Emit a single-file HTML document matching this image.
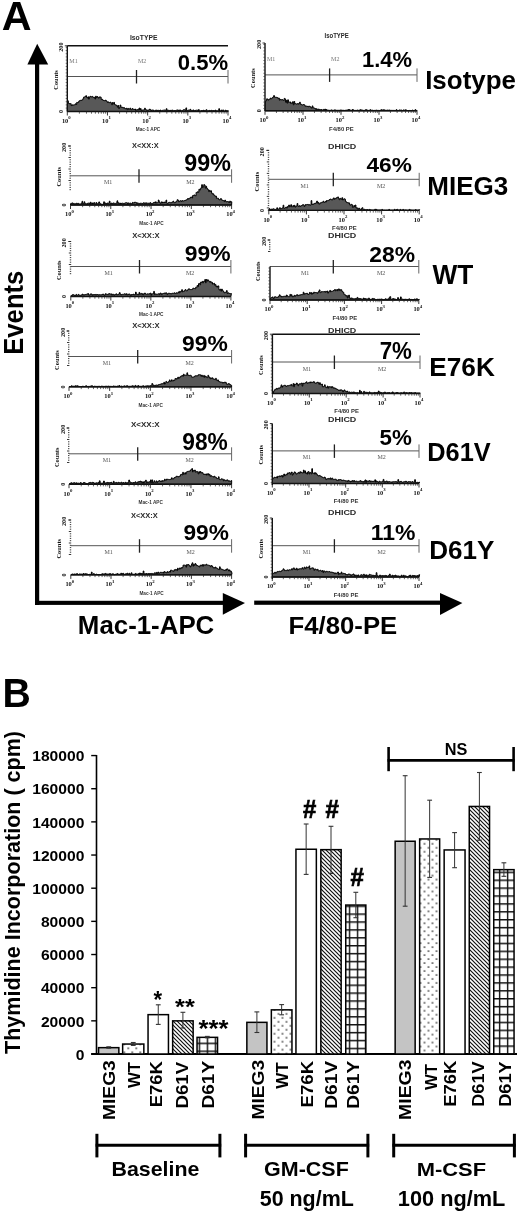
<!DOCTYPE html>
<html><head><meta charset="utf-8"><style>
html,body{margin:0;padding:0;background:#fff;}
svg{display:block;font-family:"Liberation Sans",sans-serif;will-change:transform;}
</style></head><body>
<svg width="520" height="1211" viewBox="0 0 520 1211">
<rect width="520" height="1211" fill="#fff"/>
<text transform="translate(1.77,30.00) scale(1.0072,1)" font-size="40.99" font-weight="bold" fill="#000" >A</text>
<rect x="35.00" y="62.00" width="4.20" height="543.00" fill="#000" />
<polygon points="37.20,43.80 27.40,64.60 48.20,64.60" fill="#000" />
<rect x="35.00" y="600.80" width="188.00" height="4.10" fill="#000" />
<polygon points="222.80,593.00 245.00,603.00 222.80,614.80" fill="#000" />
<rect x="254.20" y="600.60" width="186.80" height="4.20" fill="#000" />
<polygon points="440.00,593.00 462.40,603.00 440.00,615.00" fill="#000" />
<text transform="translate(23.13,354.72) rotate(-90) scale(0.9519,1)" font-size="26.93" font-weight="bold" fill="#000">Events</text>
<text transform="translate(77.87,634.33) scale(0.9740,1)" font-size="26.55" font-weight="bold" fill="#000" >Mac-1-APC</text>
<text transform="translate(288.47,634.11) scale(1.0489,1)" font-size="24.56" font-weight="bold" fill="#000" >F4/80-PE</text>
<text transform="translate(425.16,88.55) scale(1.0285,1)" font-size="25.22" font-weight="bold" fill="#000" >Isotype</text>
<text transform="translate(427.26,194.72) scale(1.0250,1)" font-size="25.39" font-weight="bold" fill="#000" >MIEG3</text>
<text transform="translate(432.47,283.80) scale(0.9605,1)" font-size="27.33" font-weight="bold" fill="#000" >WT</text>
<text transform="translate(429.24,376.05) scale(1.0374,1)" font-size="25.28" font-weight="bold" fill="#000" >E76K</text>
<text transform="translate(427.30,461.14) scale(0.9766,1)" font-size="25.99" font-weight="bold" fill="#000" >D61V</text>
<text transform="translate(429.25,558.74) scale(1.0080,1)" font-size="25.85" font-weight="bold" fill="#000" >D61Y</text>
<path d="M67.3,111.5 L67.6,100.8 L68.3,100.8 L68.3,103.0 L69.0,103.0 L69.0,103.6 L69.7,103.6 L69.7,103.8 L70.4,103.8 L70.4,103.6 L71.1,103.6 L71.1,105.6 L71.8,105.6 L71.8,104.8 L72.5,104.8 L72.5,105.4 L73.2,105.4 L73.2,104.9 L73.9,104.9 L73.9,104.9 L74.6,104.9 L74.6,104.7 L75.3,104.7 L75.3,103.8 L76.0,103.8 L76.0,104.5 L76.7,104.5 L76.7,102.4 L77.4,102.4 L77.4,102.8 L78.1,102.8 L78.1,102.3 L78.8,102.3 L78.8,101.1 L79.5,101.1 L79.5,100.7 L80.2,100.7 L80.2,100.3 L80.9,100.3 L80.9,100.5 L81.6,100.5 L81.6,100.0 L82.3,100.0 L82.3,99.7 L83.0,99.7 L83.0,98.4 L83.7,98.4 L83.7,97.0 L84.4,97.0 L84.4,97.0 L85.1,97.0 L85.1,96.5 L85.8,96.5 L85.8,95.7 L86.5,95.7 L86.5,97.3 L87.2,97.3 L87.2,98.0 L87.9,98.0 L87.9,96.8 L88.6,96.8 L88.6,99.1 L89.3,99.1 L89.3,97.1 L90.0,97.1 L90.0,96.3 L90.7,96.3 L90.7,97.0 L91.4,97.0 L91.4,96.8 L92.1,96.8 L92.1,96.4 L92.8,96.4 L92.8,97.3 L93.5,97.3 L93.5,97.6 L94.2,97.6 L94.2,97.3 L94.9,97.3 L94.9,99.0 L95.6,99.0 L95.6,96.2 L96.3,96.2 L96.3,97.6 L97.0,97.6 L97.0,96.5 L97.7,96.5 L97.7,97.4 L98.4,97.4 L98.4,98.2 L99.1,98.2 L99.1,97.0 L99.8,97.0 L99.8,96.9 L100.5,96.9 L100.5,97.3 L101.2,97.3 L101.2,99.5 L101.9,99.5 L101.9,99.3 L102.6,99.3 L102.6,100.0 L103.3,100.0 L103.3,100.5 L104.0,100.5 L104.0,100.6 L104.7,100.6 L104.7,100.8 L105.4,100.8 L105.4,100.1 L106.1,100.1 L106.1,100.9 L106.8,100.9 L106.8,101.7 L107.5,101.7 L107.5,102.5 L108.2,102.5 L108.2,101.9 L108.9,101.9 L108.9,102.6 L109.6,102.6 L109.6,102.7 L110.3,102.7 L110.3,102.1 L111.0,102.1 L111.0,103.2 L111.7,103.2 L111.7,104.8 L112.4,104.8 L112.4,102.5 L113.1,102.5 L113.1,103.9 L113.8,103.9 L113.8,102.4 L114.5,102.4 L114.5,104.5 L115.2,104.5 L115.2,104.9 L115.9,104.9 L115.9,105.1 L116.6,105.1 L116.6,105.6 L117.3,105.6 L117.3,107.2 L118.0,107.2 L118.0,105.5 L118.7,105.5 L118.7,108.6 L119.4,108.6 L119.4,107.4 L120.1,107.4 L120.1,105.0 L120.8,105.0 L120.8,107.3 L121.5,107.3 L121.5,107.0 L122.2,107.0 L122.2,107.4 L122.9,107.4 L122.9,108.0 L123.6,108.0 L123.6,107.6 L124.3,107.6 L124.3,108.0 L125.0,108.0 L125.0,108.7 L125.7,108.7 L125.7,108.9 L126.4,108.9 L126.4,108.2 L127.1,108.2 L127.1,109.7 L127.8,109.7 L127.8,108.4 L128.5,108.4 L128.5,109.3 L129.2,109.3 L129.2,109.2 L129.9,109.2 L129.9,108.1 L130.6,108.1 L130.6,109.6 L131.3,109.6 L131.3,109.7 L132.0,109.7 L132.0,108.5 L132.7,108.5 L132.7,109.1 L133.4,109.1 L133.4,109.4 L134.1,109.4 L134.1,109.5 L134.8,109.5 L134.8,109.0 L135.5,109.0 L135.5,110.4 L136.2,110.4 L136.2,109.9 L136.9,109.9 L136.9,109.6 L137.6,109.6 L137.6,110.1 L138.3,110.1 L138.3,109.6 L139.0,109.6 L139.0,108.0 L139.7,108.0 L139.7,110.0 L140.4,110.0 L140.4,108.6 L141.1,108.6 L141.1,110.4 L141.8,110.4 L141.8,110.0 L142.5,110.0 L142.5,110.1 L143.2,110.1 L143.2,109.9 L143.9,109.9 L143.9,109.9 L144.6,109.9 L144.6,108.2 L145.3,108.2 L145.3,109.3 L146.0,109.3 L146.0,110.1 L146.7,110.1 L146.7,110.0 L147.4,110.0 L147.4,110.3 L148.1,110.3 L148.1,110.3 L148.8,110.3 L148.8,109.7 L149.5,109.7 L149.5,109.1 L150.2,109.1 L150.2,109.7 L150.9,109.7 L150.9,110.8 L151.6,110.8 L151.6,110.1 L152.3,110.1 L152.3,110.0 L153.0,110.0 L153.0,110.1 L153.7,110.1 L153.7,110.8 L154.4,110.8 L154.4,111.2 L155.1,111.2 L155.1,110.3 L155.8,110.3 L155.8,110.3 L156.5,110.3 L156.5,110.1 L157.2,110.1 L157.2,110.8 L157.9,110.8 L157.9,110.3 L158.6,110.3 L158.6,110.4 L159.3,110.4 L159.3,110.6 L160.0,110.6 L160.0,110.0 L160.7,110.0 L160.7,111.2 L161.4,111.2 L161.4,110.7 L162.1,110.7 L162.1,110.4 L162.8,110.4 L162.8,110.2 L163.5,110.2 L163.5,110.2 L164.2,110.2 L164.2,110.0 L164.9,110.0 L164.9,110.1 L165.6,110.1 L165.6,110.3 L166.3,110.3 L166.3,108.7 L167.0,108.7 L167.0,111.1 L167.7,111.1 L167.7,110.3 L168.4,110.3 L168.4,110.3 L169.1,110.3 L169.1,111.0 L169.8,111.0 L169.8,110.3 L170.5,110.3 L170.5,110.8 L171.2,110.8 L171.2,110.4 L171.9,110.4 L171.9,110.0 L172.6,110.0 L172.6,110.4 L173.3,110.4 L173.3,110.9 L174.0,110.9 L174.0,110.6 L174.7,110.6 L174.7,110.5 L175.4,110.5 L175.4,110.6 L176.1,110.6 L176.1,110.2 L176.8,110.2 L176.8,110.2 L177.5,110.2 L177.5,109.9 L178.2,109.9 L178.2,111.0 L178.9,111.0 L178.9,110.0 L179.6,110.0 L179.6,110.4 L180.3,110.4 L180.3,110.0 L181.0,110.0 L181.0,111.3 L181.7,111.3 L181.7,110.7 L182.4,110.7 L182.4,110.5 L183.1,110.5 L183.1,109.8 L183.8,109.8 L183.8,109.7 L184.5,109.7 L184.5,109.7 L185.2,109.7 L185.2,110.6 L185.9,110.6 L185.9,107.9 L186.6,107.9 L186.6,110.7 L187.3,110.7 L187.3,110.4 L188.0,110.4 L188.0,110.2 L188.7,110.2 L188.7,110.0 L189.4,110.0 L189.4,110.2 L190.1,110.2 L190.1,109.3 L190.8,109.3 L190.8,110.8 L191.5,110.8 L191.5,110.5 L192.2,110.5 L192.2,110.7 L192.9,110.7 L192.9,109.9 L193.6,109.9 L193.6,110.6 L194.3,110.6 L194.3,110.6 L195.0,110.6 L195.0,110.5 L195.7,110.5 L195.7,110.2 L196.4,110.2 L196.4,110.2 L197.1,110.2 L197.1,110.2 L197.8,110.2 L197.8,110.8 L198.5,110.8 L198.5,109.6 L199.2,109.6 L199.2,111.1 L199.9,111.1 L199.9,111.0 L200.6,111.0 L200.6,110.8 L201.3,110.8 L201.3,110.5 L202.0,110.5 L202.0,110.6 L202.7,110.6 L202.7,111.1 L203.4,111.1 L203.4,110.2 L204.1,110.2 L204.1,110.6 L204.8,110.6 L204.8,110.5 L205.5,110.5 L205.5,110.4 L206.2,110.4 L206.2,109.7 L206.9,109.7 L206.9,110.8 L207.6,110.8 L207.6,110.8 L208.3,110.8 L208.3,110.7 L209.0,110.7 L209.0,110.4 L209.7,110.4 L209.7,110.6 L210.4,110.6 L210.4,110.7 L211.1,110.7 L211.1,110.3 L211.8,110.3 L211.8,110.6 L212.5,110.6 L212.5,111.1 L213.2,111.1 L213.2,110.6 L213.9,110.6 L213.9,111.2 L214.6,111.2 L214.6,110.5 L215.3,110.5 L215.3,110.1 L216.0,110.1 L216.0,111.2 L216.7,111.2 L216.7,110.7 L217.4,110.7 L217.4,111.1 L218.1,111.1 L218.1,110.8 L218.8,110.8 L218.8,108.7 L219.5,108.7 L219.5,111.0 L220.2,111.0 L220.2,111.1 L220.9,111.1 L220.9,110.0 L221.6,110.0 L221.6,111.3 L222.3,111.3 L222.3,110.2 L223.0,110.2 L223.0,110.0 L223.7,110.0 L223.7,111.3 L224.4,111.3 L224.4,111.2 L225.1,111.2 L225.1,110.2 L225.8,110.2 L225.8,111.1 L226.5,111.1 L226.5,110.6 L227.2,110.6 L227.2,110.8 L227.9,110.8 L227.9,111.0 L228.6,111.0 L228.0,111.5 Z" fill="#585858" stroke="#000" stroke-width="1.0" stroke-linejoin="bevel"/>
<line x1="67.30" y1="111.50" x2="228.00" y2="111.50" stroke="#111" stroke-width="1.4" />
<line x1="67.30" y1="111.50" x2="67.30" y2="115.50" stroke="#222" stroke-width="0.9" />
<line x1="79.39" y1="111.50" x2="79.39" y2="113.70" stroke="#222" stroke-width="0.7" />
<line x1="86.47" y1="111.50" x2="86.47" y2="113.70" stroke="#222" stroke-width="0.7" />
<line x1="91.49" y1="111.50" x2="91.49" y2="113.70" stroke="#222" stroke-width="0.7" />
<line x1="95.38" y1="111.50" x2="95.38" y2="113.70" stroke="#222" stroke-width="0.7" />
<line x1="98.56" y1="111.50" x2="98.56" y2="113.70" stroke="#222" stroke-width="0.7" />
<line x1="101.25" y1="111.50" x2="101.25" y2="113.70" stroke="#222" stroke-width="0.7" />
<line x1="103.58" y1="111.50" x2="103.58" y2="113.70" stroke="#222" stroke-width="0.7" />
<line x1="105.64" y1="111.50" x2="105.64" y2="113.70" stroke="#222" stroke-width="0.7" />
<line x1="107.47" y1="111.50" x2="107.47" y2="115.50" stroke="#222" stroke-width="0.9" />
<line x1="119.57" y1="111.50" x2="119.57" y2="113.70" stroke="#222" stroke-width="0.7" />
<line x1="126.64" y1="111.50" x2="126.64" y2="113.70" stroke="#222" stroke-width="0.7" />
<line x1="131.66" y1="111.50" x2="131.66" y2="113.70" stroke="#222" stroke-width="0.7" />
<line x1="135.56" y1="111.50" x2="135.56" y2="113.70" stroke="#222" stroke-width="0.7" />
<line x1="138.74" y1="111.50" x2="138.74" y2="113.70" stroke="#222" stroke-width="0.7" />
<line x1="141.43" y1="111.50" x2="141.43" y2="113.70" stroke="#222" stroke-width="0.7" />
<line x1="143.76" y1="111.50" x2="143.76" y2="113.70" stroke="#222" stroke-width="0.7" />
<line x1="145.81" y1="111.50" x2="145.81" y2="113.70" stroke="#222" stroke-width="0.7" />
<line x1="147.65" y1="111.50" x2="147.65" y2="115.50" stroke="#222" stroke-width="0.9" />
<line x1="159.74" y1="111.50" x2="159.74" y2="113.70" stroke="#222" stroke-width="0.7" />
<line x1="166.82" y1="111.50" x2="166.82" y2="113.70" stroke="#222" stroke-width="0.7" />
<line x1="171.84" y1="111.50" x2="171.84" y2="113.70" stroke="#222" stroke-width="0.7" />
<line x1="175.73" y1="111.50" x2="175.73" y2="113.70" stroke="#222" stroke-width="0.7" />
<line x1="178.91" y1="111.50" x2="178.91" y2="113.70" stroke="#222" stroke-width="0.7" />
<line x1="181.60" y1="111.50" x2="181.60" y2="113.70" stroke="#222" stroke-width="0.7" />
<line x1="183.93" y1="111.50" x2="183.93" y2="113.70" stroke="#222" stroke-width="0.7" />
<line x1="185.99" y1="111.50" x2="185.99" y2="113.70" stroke="#222" stroke-width="0.7" />
<line x1="187.82" y1="111.50" x2="187.82" y2="115.50" stroke="#222" stroke-width="0.9" />
<line x1="199.92" y1="111.50" x2="199.92" y2="113.70" stroke="#222" stroke-width="0.7" />
<line x1="206.99" y1="111.50" x2="206.99" y2="113.70" stroke="#222" stroke-width="0.7" />
<line x1="212.01" y1="111.50" x2="212.01" y2="113.70" stroke="#222" stroke-width="0.7" />
<line x1="215.91" y1="111.50" x2="215.91" y2="113.70" stroke="#222" stroke-width="0.7" />
<line x1="219.09" y1="111.50" x2="219.09" y2="113.70" stroke="#222" stroke-width="0.7" />
<line x1="221.78" y1="111.50" x2="221.78" y2="113.70" stroke="#222" stroke-width="0.7" />
<line x1="224.11" y1="111.50" x2="224.11" y2="113.70" stroke="#222" stroke-width="0.7" />
<line x1="226.16" y1="111.50" x2="226.16" y2="113.70" stroke="#222" stroke-width="0.7" />
<line x1="228.00" y1="111.50" x2="228.00" y2="115.50" stroke="#222" stroke-width="0.9" />
<text x="66.3" y="122.8" font-size="6.4" font-family="Liberation Serif" font-weight="bold" text-anchor="middle" fill="#111">10<tspan dy="-3.4" font-size="4.8">0</tspan></text>
<text x="106.5" y="122.8" font-size="6.4" font-family="Liberation Serif" font-weight="bold" text-anchor="middle" fill="#111">10<tspan dy="-3.4" font-size="4.8">1</tspan></text>
<text x="146.6" y="122.8" font-size="6.4" font-family="Liberation Serif" font-weight="bold" text-anchor="middle" fill="#111">10<tspan dy="-3.4" font-size="4.8">2</tspan></text>
<text x="186.8" y="122.8" font-size="6.4" font-family="Liberation Serif" font-weight="bold" text-anchor="middle" fill="#111">10<tspan dy="-3.4" font-size="4.8">3</tspan></text>
<text x="227.0" y="122.8" font-size="6.4" font-family="Liberation Serif" font-weight="bold" text-anchor="middle" fill="#111">10<tspan dy="-3.4" font-size="4.8">4</tspan></text>
<line x1="67.30" y1="76.50" x2="228.00" y2="76.50" stroke="#555" stroke-width="1.0" />
<line x1="136.50" y1="70.00" x2="136.50" y2="83.50" stroke="#222" stroke-width="1.3" />
<line x1="228.00" y1="70.00" x2="228.00" y2="83.50" stroke="#666" stroke-width="1.0" />
<text x="69.3" y="62.5" font-size="6" font-family="Liberation Serif" fill="#777">M1</text>
<text x="138.0" y="62.5" font-size="6" font-family="Liberation Serif" fill="#777">M2</text>
<line x1="67.30" y1="45.80" x2="67.30" y2="111.50" stroke="#111" stroke-width="1.4" />
<line x1="65.70" y1="47.30" x2="67.30" y2="47.30" stroke="#333" stroke-width="0.7" />
<line x1="65.70" y1="50.50" x2="67.30" y2="50.50" stroke="#333" stroke-width="0.7" />
<line x1="65.70" y1="53.70" x2="67.30" y2="53.70" stroke="#333" stroke-width="0.7" />
<line x1="65.70" y1="56.90" x2="67.30" y2="56.90" stroke="#333" stroke-width="0.7" />
<line x1="65.70" y1="60.10" x2="67.30" y2="60.10" stroke="#333" stroke-width="0.7" />
<line x1="65.70" y1="63.30" x2="67.30" y2="63.30" stroke="#333" stroke-width="0.7" />
<line x1="65.70" y1="66.50" x2="67.30" y2="66.50" stroke="#333" stroke-width="0.7" />
<line x1="65.70" y1="69.70" x2="67.30" y2="69.70" stroke="#333" stroke-width="0.7" />
<line x1="65.70" y1="72.90" x2="67.30" y2="72.90" stroke="#333" stroke-width="0.7" />
<line x1="65.70" y1="76.10" x2="67.30" y2="76.10" stroke="#333" stroke-width="0.7" />
<line x1="65.70" y1="79.30" x2="67.30" y2="79.30" stroke="#333" stroke-width="0.7" />
<line x1="65.70" y1="82.50" x2="67.30" y2="82.50" stroke="#333" stroke-width="0.7" />
<line x1="65.70" y1="85.70" x2="67.30" y2="85.70" stroke="#333" stroke-width="0.7" />
<line x1="65.70" y1="88.90" x2="67.30" y2="88.90" stroke="#333" stroke-width="0.7" />
<line x1="65.70" y1="92.10" x2="67.30" y2="92.10" stroke="#333" stroke-width="0.7" />
<line x1="65.70" y1="95.30" x2="67.30" y2="95.30" stroke="#333" stroke-width="0.7" />
<line x1="65.70" y1="98.50" x2="67.30" y2="98.50" stroke="#333" stroke-width="0.7" />
<line x1="65.70" y1="101.70" x2="67.30" y2="101.70" stroke="#333" stroke-width="0.7" />
<line x1="65.70" y1="104.90" x2="67.30" y2="104.90" stroke="#333" stroke-width="0.7" />
<line x1="65.70" y1="108.10" x2="67.30" y2="108.10" stroke="#333" stroke-width="0.7" />
<line x1="67.30" y1="45.80" x2="228.00" y2="45.80" stroke="#111" stroke-width="1.4" />
<line x1="64.80" y1="45.80" x2="67.30" y2="45.80" stroke="#222" stroke-width="0.9" />
<text transform="translate(62.8,51.8) rotate(-90)" font-size="6.2" font-family="Liberation Serif" font-weight="bold" fill="#111">200</text>
<text transform="translate(62.8,113.0) rotate(-90)" font-size="6.2" font-family="Liberation Serif" font-weight="bold" fill="#111">0</text>
<text transform="translate(57.5,89.7) rotate(-90)" font-size="6.4" font-family="Liberation Serif" font-weight="bold" fill="#111">Counts</text>
<text transform="translate(129.94,39.83) scale(1.0331,1)" font-size="6.59" font-weight="bold" fill="#2a2a2a" >IsoTYPE</text>
<text transform="translate(135.83,131.44) scale(0.7945,1)" font-size="5.93" font-weight="bold" fill="#333" >Mac-1 APC</text>
<path d="M70.5,205.0 L70.8,203.3 L71.5,203.3 L71.5,203.4 L72.2,203.4 L72.2,202.9 L72.9,202.9 L72.9,203.7 L73.6,203.7 L73.6,203.4 L74.3,203.4 L74.3,204.3 L75.0,204.3 L75.0,203.8 L75.7,203.8 L75.7,203.7 L76.4,203.7 L76.4,203.2 L77.1,203.2 L77.1,203.9 L77.8,203.9 L77.8,203.3 L78.5,203.3 L78.5,203.7 L79.2,203.7 L79.2,204.2 L79.9,204.2 L79.9,204.1 L80.6,204.1 L80.6,203.9 L81.3,203.9 L81.3,203.2 L82.0,203.2 L82.0,201.3 L82.7,201.3 L82.7,203.9 L83.4,203.9 L83.4,203.5 L84.1,203.5 L84.1,201.8 L84.8,201.8 L84.8,203.6 L85.5,203.6 L85.5,203.6 L86.2,203.6 L86.2,203.9 L86.9,203.9 L86.9,204.1 L87.6,204.1 L87.6,203.2 L88.3,203.2 L88.3,203.1 L89.0,203.1 L89.0,203.1 L89.7,203.1 L89.7,204.4 L90.4,204.4 L90.4,202.2 L91.1,202.2 L91.1,203.5 L91.8,203.5 L91.8,204.1 L92.5,204.1 L92.5,202.9 L93.2,202.9 L93.2,203.6 L93.9,203.6 L93.9,202.6 L94.6,202.6 L94.6,203.8 L95.3,203.8 L95.3,204.2 L96.0,204.2 L96.0,202.5 L96.7,202.5 L96.7,203.8 L97.4,203.8 L97.4,203.8 L98.1,203.8 L98.1,203.2 L98.8,203.2 L98.8,201.9 L99.5,201.9 L99.5,203.0 L100.2,203.0 L100.2,204.4 L100.9,204.4 L100.9,204.0 L101.6,204.0 L101.6,204.4 L102.3,204.4 L102.3,204.3 L103.0,204.3 L103.0,204.0 L103.7,204.0 L103.7,201.8 L104.4,201.8 L104.4,203.7 L105.1,203.7 L105.1,203.0 L105.8,203.0 L105.8,203.4 L106.5,203.4 L106.5,203.8 L107.2,203.8 L107.2,203.0 L107.9,203.0 L107.9,203.3 L108.6,203.3 L108.6,203.0 L109.3,203.0 L109.3,201.2 L110.0,201.2 L110.0,203.6 L110.7,203.6 L110.7,203.5 L111.4,203.5 L111.4,203.0 L112.1,203.0 L112.1,203.7 L112.8,203.7 L112.8,203.2 L113.5,203.2 L113.5,202.9 L114.2,202.9 L114.2,203.8 L114.9,203.8 L114.9,203.8 L115.6,203.8 L115.6,203.3 L116.3,203.3 L116.3,203.0 L117.0,203.0 L117.0,200.8 L117.7,200.8 L117.7,203.5 L118.4,203.5 L118.4,202.7 L119.1,202.7 L119.1,203.6 L119.8,203.6 L119.8,204.1 L120.5,204.1 L120.5,203.1 L121.2,203.1 L121.2,203.5 L121.9,203.5 L121.9,203.2 L122.6,203.2 L122.6,203.2 L123.3,203.2 L123.3,203.9 L124.0,203.9 L124.0,203.4 L124.7,203.4 L124.7,203.2 L125.4,203.2 L125.4,202.8 L126.1,202.8 L126.1,202.7 L126.8,202.7 L126.8,202.9 L127.5,202.9 L127.5,203.9 L128.2,203.9 L128.2,202.9 L128.9,202.9 L128.9,203.4 L129.6,203.4 L129.6,203.3 L130.3,203.3 L130.3,203.1 L131.0,203.1 L131.0,203.7 L131.7,203.7 L131.7,203.9 L132.4,203.9 L132.4,202.4 L133.1,202.4 L133.1,202.9 L133.8,202.9 L133.8,203.0 L134.5,203.0 L134.5,202.2 L135.2,202.2 L135.2,202.3 L135.9,202.3 L135.9,202.6 L136.6,202.6 L136.6,203.7 L137.3,203.7 L137.3,202.9 L138.0,202.9 L138.0,203.3 L138.7,203.3 L138.7,203.3 L139.4,203.3 L139.4,203.9 L140.1,203.9 L140.1,203.2 L140.8,203.2 L140.8,203.3 L141.5,203.3 L141.5,203.3 L142.2,203.3 L142.2,203.6 L142.9,203.6 L142.9,203.1 L143.6,203.1 L143.6,202.7 L144.3,202.7 L144.3,203.5 L145.0,203.5 L145.0,203.8 L145.7,203.8 L145.7,202.7 L146.4,202.7 L146.4,203.5 L147.1,203.5 L147.1,203.2 L147.8,203.2 L147.8,203.1 L148.5,203.1 L148.5,203.3 L149.2,203.3 L149.2,203.9 L149.9,203.9 L149.9,202.6 L150.6,202.6 L150.6,203.3 L151.3,203.3 L151.3,203.8 L152.0,203.8 L152.0,204.0 L152.7,204.0 L152.7,203.2 L153.4,203.2 L153.4,202.6 L154.1,202.6 L154.1,202.3 L154.8,202.3 L154.8,203.2 L155.5,203.2 L155.5,201.8 L156.2,201.8 L156.2,203.0 L156.9,203.0 L156.9,202.8 L157.6,202.8 L157.6,202.6 L158.3,202.6 L158.3,200.0 L159.0,200.0 L159.0,201.8 L159.7,201.8 L159.7,202.9 L160.4,202.9 L160.4,203.4 L161.1,203.4 L161.1,201.9 L161.8,201.9 L161.8,203.0 L162.5,203.0 L162.5,202.0 L163.2,202.0 L163.2,202.7 L163.9,202.7 L163.9,202.0 L164.6,202.0 L164.6,202.8 L165.3,202.8 L165.3,202.1 L166.0,202.1 L166.0,200.1 L166.7,200.1 L166.7,203.2 L167.4,203.2 L167.4,203.5 L168.1,203.5 L168.1,202.7 L168.8,202.7 L168.8,202.4 L169.5,202.4 L169.5,202.3 L170.2,202.3 L170.2,202.8 L170.9,202.8 L170.9,202.8 L171.6,202.8 L171.6,202.3 L172.3,202.3 L172.3,202.0 L173.0,202.0 L173.0,201.2 L173.7,201.2 L173.7,202.4 L174.4,202.4 L174.4,202.8 L175.1,202.8 L175.1,202.4 L175.8,202.4 L175.8,201.7 L176.5,201.7 L176.5,201.2 L177.2,201.2 L177.2,199.7 L177.9,199.7 L177.9,200.3 L178.6,200.3 L178.6,201.8 L179.3,201.8 L179.3,201.3 L180.0,201.3 L180.0,200.7 L180.7,200.7 L180.7,200.8 L181.4,200.8 L181.4,201.5 L182.1,201.5 L182.1,200.6 L182.8,200.6 L182.8,201.0 L183.5,201.0 L183.5,201.0 L184.2,201.0 L184.2,200.6 L184.9,200.6 L184.9,200.5 L185.6,200.5 L185.6,200.0 L186.3,200.0 L186.3,199.9 L187.0,199.9 L187.0,199.1 L187.7,199.1 L187.7,198.5 L188.4,198.5 L188.4,199.1 L189.1,199.1 L189.1,198.2 L189.8,198.2 L189.8,198.2 L190.5,198.2 L190.5,197.2 L191.2,197.2 L191.2,197.1 L191.9,197.1 L191.9,198.0 L192.6,198.0 L192.6,195.6 L193.3,195.6 L193.3,195.4 L194.0,195.4 L194.0,194.9 L194.7,194.9 L194.7,195.5 L195.4,195.5 L195.4,195.8 L196.1,195.8 L196.1,192.4 L196.8,192.4 L196.8,192.5 L197.5,192.5 L197.5,191.7 L198.2,191.7 L198.2,192.3 L198.9,192.3 L198.9,189.3 L199.6,189.3 L199.6,190.2 L200.3,190.2 L200.3,188.7 L201.0,188.7 L201.0,187.6 L201.7,187.6 L201.7,184.7 L202.4,184.7 L202.4,187.5 L203.1,187.5 L203.1,186.7 L203.8,186.7 L203.8,184.6 L204.5,184.6 L204.5,185.3 L205.2,185.3 L205.2,188.1 L205.9,188.1 L205.9,186.3 L206.6,186.3 L206.6,188.1 L207.3,188.1 L207.3,188.9 L208.0,188.9 L208.0,189.9 L208.7,189.9 L208.7,191.6 L209.4,191.6 L209.4,190.3 L210.1,190.3 L210.1,191.5 L210.8,191.5 L210.8,190.8 L211.5,190.8 L211.5,192.9 L212.2,192.9 L212.2,194.0 L212.9,194.0 L212.9,193.8 L213.6,193.8 L213.6,194.9 L214.3,194.9 L214.3,195.4 L215.0,195.4 L215.0,196.4 L215.7,196.4 L215.7,196.1 L216.4,196.1 L216.4,198.4 L217.1,198.4 L217.1,198.2 L217.8,198.2 L217.8,198.3 L218.5,198.3 L218.5,199.4 L219.2,199.4 L219.2,199.9 L219.9,199.9 L219.9,199.3 L220.6,199.3 L220.6,198.6 L221.3,198.6 L221.3,199.3 L222.0,199.3 L222.0,200.5 L222.7,200.5 L222.7,200.5 L223.4,200.5 L223.4,200.5 L224.1,200.5 L224.1,201.6 L224.8,201.6 L224.8,200.1 L225.5,200.1 L225.5,201.2 L226.2,201.2 L226.2,201.9 L226.9,201.9 L226.9,201.6 L227.6,201.6 L227.6,201.5 L228.3,201.5 L228.3,202.1 L229.0,202.1 L229.0,202.5 L229.7,202.5 L229.7,201.1 L230.4,201.1 L230.4,202.1 L231.1,202.1 L231.1,201.8 L231.8,201.8 L231.6,205.0 Z" fill="#585858" stroke="#000" stroke-width="1.0" stroke-linejoin="bevel"/>
<line x1="70.50" y1="205.00" x2="231.60" y2="205.00" stroke="#111" stroke-width="1.4" />
<line x1="70.50" y1="205.00" x2="70.50" y2="209.00" stroke="#222" stroke-width="0.9" />
<line x1="82.62" y1="205.00" x2="82.62" y2="207.20" stroke="#222" stroke-width="0.7" />
<line x1="89.72" y1="205.00" x2="89.72" y2="207.20" stroke="#222" stroke-width="0.7" />
<line x1="94.75" y1="205.00" x2="94.75" y2="207.20" stroke="#222" stroke-width="0.7" />
<line x1="98.65" y1="205.00" x2="98.65" y2="207.20" stroke="#222" stroke-width="0.7" />
<line x1="101.84" y1="205.00" x2="101.84" y2="207.20" stroke="#222" stroke-width="0.7" />
<line x1="104.54" y1="205.00" x2="104.54" y2="207.20" stroke="#222" stroke-width="0.7" />
<line x1="106.87" y1="205.00" x2="106.87" y2="207.20" stroke="#222" stroke-width="0.7" />
<line x1="108.93" y1="205.00" x2="108.93" y2="207.20" stroke="#222" stroke-width="0.7" />
<line x1="110.78" y1="205.00" x2="110.78" y2="209.00" stroke="#222" stroke-width="0.9" />
<line x1="122.90" y1="205.00" x2="122.90" y2="207.20" stroke="#222" stroke-width="0.7" />
<line x1="129.99" y1="205.00" x2="129.99" y2="207.20" stroke="#222" stroke-width="0.7" />
<line x1="135.02" y1="205.00" x2="135.02" y2="207.20" stroke="#222" stroke-width="0.7" />
<line x1="138.93" y1="205.00" x2="138.93" y2="207.20" stroke="#222" stroke-width="0.7" />
<line x1="142.12" y1="205.00" x2="142.12" y2="207.20" stroke="#222" stroke-width="0.7" />
<line x1="144.81" y1="205.00" x2="144.81" y2="207.20" stroke="#222" stroke-width="0.7" />
<line x1="147.15" y1="205.00" x2="147.15" y2="207.20" stroke="#222" stroke-width="0.7" />
<line x1="149.21" y1="205.00" x2="149.21" y2="207.20" stroke="#222" stroke-width="0.7" />
<line x1="151.05" y1="205.00" x2="151.05" y2="209.00" stroke="#222" stroke-width="0.9" />
<line x1="163.17" y1="205.00" x2="163.17" y2="207.20" stroke="#222" stroke-width="0.7" />
<line x1="170.27" y1="205.00" x2="170.27" y2="207.20" stroke="#222" stroke-width="0.7" />
<line x1="175.30" y1="205.00" x2="175.30" y2="207.20" stroke="#222" stroke-width="0.7" />
<line x1="179.20" y1="205.00" x2="179.20" y2="207.20" stroke="#222" stroke-width="0.7" />
<line x1="182.39" y1="205.00" x2="182.39" y2="207.20" stroke="#222" stroke-width="0.7" />
<line x1="185.09" y1="205.00" x2="185.09" y2="207.20" stroke="#222" stroke-width="0.7" />
<line x1="187.42" y1="205.00" x2="187.42" y2="207.20" stroke="#222" stroke-width="0.7" />
<line x1="189.48" y1="205.00" x2="189.48" y2="207.20" stroke="#222" stroke-width="0.7" />
<line x1="191.32" y1="205.00" x2="191.32" y2="209.00" stroke="#222" stroke-width="0.9" />
<line x1="203.45" y1="205.00" x2="203.45" y2="207.20" stroke="#222" stroke-width="0.7" />
<line x1="210.54" y1="205.00" x2="210.54" y2="207.20" stroke="#222" stroke-width="0.7" />
<line x1="215.57" y1="205.00" x2="215.57" y2="207.20" stroke="#222" stroke-width="0.7" />
<line x1="219.48" y1="205.00" x2="219.48" y2="207.20" stroke="#222" stroke-width="0.7" />
<line x1="222.67" y1="205.00" x2="222.67" y2="207.20" stroke="#222" stroke-width="0.7" />
<line x1="225.36" y1="205.00" x2="225.36" y2="207.20" stroke="#222" stroke-width="0.7" />
<line x1="227.70" y1="205.00" x2="227.70" y2="207.20" stroke="#222" stroke-width="0.7" />
<line x1="229.76" y1="205.00" x2="229.76" y2="207.20" stroke="#222" stroke-width="0.7" />
<line x1="231.60" y1="205.00" x2="231.60" y2="209.00" stroke="#222" stroke-width="0.9" />
<text x="69.5" y="216.3" font-size="6.4" font-family="Liberation Serif" font-weight="bold" text-anchor="middle" fill="#111">10<tspan dy="-3.4" font-size="4.8">0</tspan></text>
<text x="109.8" y="216.3" font-size="6.4" font-family="Liberation Serif" font-weight="bold" text-anchor="middle" fill="#111">10<tspan dy="-3.4" font-size="4.8">1</tspan></text>
<text x="150.1" y="216.3" font-size="6.4" font-family="Liberation Serif" font-weight="bold" text-anchor="middle" fill="#111">10<tspan dy="-3.4" font-size="4.8">2</tspan></text>
<text x="190.3" y="216.3" font-size="6.4" font-family="Liberation Serif" font-weight="bold" text-anchor="middle" fill="#111">10<tspan dy="-3.4" font-size="4.8">3</tspan></text>
<text x="230.6" y="216.3" font-size="6.4" font-family="Liberation Serif" font-weight="bold" text-anchor="middle" fill="#111">10<tspan dy="-3.4" font-size="4.8">4</tspan></text>
<line x1="70.50" y1="175.80" x2="231.60" y2="175.80" stroke="#555" stroke-width="1.0" />
<line x1="139.00" y1="169.30" x2="139.00" y2="182.80" stroke="#222" stroke-width="1.3" />
<line x1="231.60" y1="169.30" x2="231.60" y2="182.80" stroke="#666" stroke-width="1.0" />
<text x="108.2" y="184.3" font-size="6" font-family="Liberation Serif" text-anchor="middle" fill="#555">M1</text>
<text x="190.3" y="184.3" font-size="6" font-family="Liberation Serif" text-anchor="middle" fill="#555">M2</text>
<line x1="68.50" y1="146.00" x2="70.90" y2="146.00" stroke="#222" stroke-width="0.9" />
<line x1="69.50" y1="148.30" x2="70.90" y2="148.30" stroke="#222" stroke-width="0.9" />
<line x1="69.50" y1="150.60" x2="70.90" y2="150.60" stroke="#222" stroke-width="0.9" />
<line x1="69.50" y1="152.90" x2="70.90" y2="152.90" stroke="#222" stroke-width="0.9" />
<line x1="69.50" y1="155.20" x2="70.90" y2="155.20" stroke="#222" stroke-width="0.9" />
<line x1="68.50" y1="157.50" x2="70.90" y2="157.50" stroke="#222" stroke-width="0.9" />
<line x1="69.50" y1="159.80" x2="70.90" y2="159.80" stroke="#222" stroke-width="0.9" />
<line x1="69.50" y1="162.10" x2="70.90" y2="162.10" stroke="#222" stroke-width="0.9" />
<line x1="69.50" y1="164.40" x2="70.90" y2="164.40" stroke="#222" stroke-width="0.9" />
<line x1="69.50" y1="166.70" x2="70.90" y2="166.70" stroke="#222" stroke-width="0.9" />
<line x1="68.50" y1="169.00" x2="70.90" y2="169.00" stroke="#222" stroke-width="0.9" />
<line x1="69.50" y1="171.30" x2="70.90" y2="171.30" stroke="#222" stroke-width="0.9" />
<line x1="69.50" y1="173.60" x2="70.90" y2="173.60" stroke="#222" stroke-width="0.9" />
<line x1="69.50" y1="175.90" x2="70.90" y2="175.90" stroke="#222" stroke-width="0.9" />
<line x1="69.50" y1="178.20" x2="70.90" y2="178.20" stroke="#222" stroke-width="0.9" />
<line x1="68.50" y1="180.50" x2="70.90" y2="180.50" stroke="#222" stroke-width="0.9" />
<line x1="69.50" y1="182.80" x2="70.90" y2="182.80" stroke="#222" stroke-width="0.9" />
<line x1="69.50" y1="185.10" x2="70.90" y2="185.10" stroke="#222" stroke-width="0.9" />
<line x1="69.50" y1="187.40" x2="70.90" y2="187.40" stroke="#222" stroke-width="0.9" />
<line x1="69.50" y1="189.70" x2="70.90" y2="189.70" stroke="#222" stroke-width="0.9" />
<line x1="68.00" y1="146.00" x2="70.50" y2="146.00" stroke="#222" stroke-width="0.9" />
<text transform="translate(66.0,152.0) rotate(-90)" font-size="6.2" font-family="Liberation Serif" font-weight="bold" fill="#111">200</text>
<text transform="translate(66.0,206.5) rotate(-90)" font-size="6.2" font-family="Liberation Serif" font-weight="bold" fill="#111">0</text>
<text transform="translate(60.7,186.5) rotate(-90)" font-size="6.4" font-family="Liberation Serif" font-weight="bold" fill="#111">Counts</text>
<text transform="translate(132.03,147.70) scale(0.9829,1)" font-size="7.56" font-weight="bold" fill="#2a2a2a" >X&lt;XX:X</text>
<text transform="translate(139.23,224.94) scale(0.7945,1)" font-size="5.93" font-weight="bold" fill="#333" >Mac-1 APC</text>
<path d="M70.8,296.5 L71.1,295.4 L71.8,295.4 L71.8,295.5 L72.5,295.5 L72.5,294.6 L73.2,294.6 L73.2,294.7 L73.9,294.7 L73.9,295.5 L74.6,295.5 L74.6,295.1 L75.3,295.1 L75.3,295.5 L76.0,295.5 L76.0,294.4 L76.7,294.4 L76.7,295.5 L77.4,295.5 L77.4,295.5 L78.1,295.5 L78.1,294.4 L78.8,294.4 L78.8,295.1 L79.5,295.1 L79.5,295.3 L80.2,295.3 L80.2,295.4 L80.9,295.4 L80.9,294.9 L81.6,294.9 L81.6,295.1 L82.3,295.1 L82.3,294.1 L83.0,294.1 L83.0,294.8 L83.7,294.8 L83.7,295.1 L84.4,295.1 L84.4,294.7 L85.1,294.7 L85.1,294.5 L85.8,294.5 L85.8,294.4 L86.5,294.4 L86.5,294.3 L87.2,294.3 L87.2,293.9 L87.9,293.9 L87.9,293.6 L88.6,293.6 L88.6,295.0 L89.3,295.0 L89.3,295.2 L90.0,295.2 L90.0,294.2 L90.7,294.2 L90.7,293.9 L91.4,293.9 L91.4,294.1 L92.1,294.1 L92.1,295.3 L92.8,295.3 L92.8,294.6 L93.5,294.6 L93.5,295.0 L94.2,295.0 L94.2,294.6 L94.9,294.6 L94.9,295.0 L95.6,295.0 L95.6,294.4 L96.3,294.4 L96.3,295.0 L97.0,295.0 L97.0,294.5 L97.7,294.5 L97.7,294.7 L98.4,294.7 L98.4,295.1 L99.1,295.1 L99.1,294.7 L99.8,294.7 L99.8,294.8 L100.5,294.8 L100.5,294.8 L101.2,294.8 L101.2,294.8 L101.9,294.8 L101.9,294.5 L102.6,294.5 L102.6,294.1 L103.3,294.1 L103.3,294.3 L104.0,294.3 L104.0,295.3 L104.7,295.3 L104.7,294.9 L105.4,294.9 L105.4,293.7 L106.1,293.7 L106.1,294.3 L106.8,294.3 L106.8,294.3 L107.5,294.3 L107.5,294.6 L108.2,294.6 L108.2,294.0 L108.9,294.0 L108.9,293.6 L109.6,293.6 L109.6,294.2 L110.3,294.2 L110.3,294.0 L111.0,294.0 L111.0,293.9 L111.7,293.9 L111.7,295.1 L112.4,295.1 L112.4,294.3 L113.1,294.3 L113.1,294.3 L113.8,294.3 L113.8,295.3 L114.5,295.3 L114.5,294.7 L115.2,294.7 L115.2,294.5 L115.9,294.5 L115.9,293.8 L116.6,293.8 L116.6,294.6 L117.3,294.6 L117.3,294.8 L118.0,294.8 L118.0,294.3 L118.7,294.3 L118.7,294.0 L119.4,294.0 L119.4,292.6 L120.1,292.6 L120.1,294.2 L120.8,294.2 L120.8,295.0 L121.5,295.0 L121.5,294.5 L122.2,294.5 L122.2,294.3 L122.9,294.3 L122.9,294.4 L123.6,294.4 L123.6,294.3 L124.3,294.3 L124.3,293.8 L125.0,293.8 L125.0,294.0 L125.7,294.0 L125.7,294.8 L126.4,294.8 L126.4,293.7 L127.1,293.7 L127.1,294.9 L127.8,294.9 L127.8,294.6 L128.5,294.6 L128.5,294.0 L129.2,294.0 L129.2,294.0 L129.9,294.0 L129.9,294.8 L130.6,294.8 L130.6,295.5 L131.3,295.5 L131.3,294.5 L132.0,294.5 L132.0,294.5 L132.7,294.5 L132.7,294.6 L133.4,294.6 L133.4,294.1 L134.1,294.1 L134.1,294.8 L134.8,294.8 L134.8,294.7 L135.5,294.7 L135.5,292.1 L136.2,292.1 L136.2,293.9 L136.9,293.9 L136.9,294.7 L137.6,294.7 L137.6,294.2 L138.3,294.2 L138.3,294.7 L139.0,294.7 L139.0,292.4 L139.7,292.4 L139.7,294.4 L140.4,294.4 L140.4,293.7 L141.1,293.7 L141.1,293.4 L141.8,293.4 L141.8,294.7 L142.5,294.7 L142.5,293.7 L143.2,293.7 L143.2,294.9 L143.9,294.9 L143.9,293.6 L144.6,293.6 L144.6,293.0 L145.3,293.0 L145.3,294.0 L146.0,294.0 L146.0,294.2 L146.7,294.2 L146.7,294.3 L147.4,294.3 L147.4,293.8 L148.1,293.8 L148.1,294.0 L148.8,294.0 L148.8,294.1 L149.5,294.1 L149.5,293.6 L150.2,293.6 L150.2,293.1 L150.9,293.1 L150.9,295.3 L151.6,295.3 L151.6,293.8 L152.3,293.8 L152.3,293.9 L153.0,293.9 L153.0,293.6 L153.7,293.6 L153.7,291.4 L154.4,291.4 L154.4,294.5 L155.1,294.5 L155.1,293.9 L155.8,293.9 L155.8,294.1 L156.5,294.1 L156.5,294.3 L157.2,294.3 L157.2,294.2 L157.9,294.2 L157.9,294.0 L158.6,294.0 L158.6,293.7 L159.3,293.7 L159.3,294.6 L160.0,294.6 L160.0,293.0 L160.7,293.0 L160.7,293.4 L161.4,293.4 L161.4,294.7 L162.1,294.7 L162.1,293.8 L162.8,293.8 L162.8,293.5 L163.5,293.5 L163.5,293.3 L164.2,293.3 L164.2,293.0 L164.9,293.0 L164.9,293.7 L165.6,293.7 L165.6,292.8 L166.3,292.8 L166.3,293.0 L167.0,293.0 L167.0,294.6 L167.7,294.6 L167.7,293.7 L168.4,293.7 L168.4,293.2 L169.1,293.2 L169.1,293.3 L169.8,293.3 L169.8,293.9 L170.5,293.9 L170.5,293.5 L171.2,293.5 L171.2,293.9 L171.9,293.9 L171.9,293.2 L172.6,293.2 L172.6,293.4 L173.3,293.4 L173.3,293.4 L174.0,293.4 L174.0,292.8 L174.7,292.8 L174.7,293.3 L175.4,293.3 L175.4,293.5 L176.1,293.5 L176.1,292.8 L176.8,292.8 L176.8,293.1 L177.5,293.1 L177.5,293.1 L178.2,293.1 L178.2,291.9 L178.9,291.9 L178.9,292.9 L179.6,292.9 L179.6,291.3 L180.3,291.3 L180.3,292.1 L181.0,292.1 L181.0,291.3 L181.7,291.3 L181.7,289.7 L182.4,289.7 L182.4,291.9 L183.1,291.9 L183.1,291.2 L183.8,291.2 L183.8,291.3 L184.5,291.3 L184.5,290.5 L185.2,290.5 L185.2,289.5 L185.9,289.5 L185.9,290.7 L186.6,290.7 L186.6,290.9 L187.3,290.9 L187.3,290.1 L188.0,290.1 L188.0,289.3 L188.7,289.3 L188.7,288.8 L189.4,288.8 L189.4,289.4 L190.1,289.4 L190.1,289.6 L190.8,289.6 L190.8,289.5 L191.5,289.5 L191.5,289.6 L192.2,289.6 L192.2,289.2 L192.9,289.2 L192.9,288.1 L193.6,288.1 L193.6,288.4 L194.3,288.4 L194.3,288.5 L195.0,288.5 L195.0,288.8 L195.7,288.8 L195.7,287.2 L196.4,287.2 L196.4,287.3 L197.1,287.3 L197.1,285.5 L197.8,285.5 L197.8,286.6 L198.5,286.6 L198.5,283.7 L199.2,283.7 L199.2,283.4 L199.9,283.4 L199.9,284.8 L200.6,284.8 L200.6,282.1 L201.3,282.1 L201.3,282.5 L202.0,282.5 L202.0,281.4 L202.7,281.4 L202.7,282.9 L203.4,282.9 L203.4,281.4 L204.1,281.4 L204.1,281.5 L204.8,281.5 L204.8,279.5 L205.5,279.5 L205.5,282.8 L206.2,282.8 L206.2,279.5 L206.9,279.5 L206.9,281.1 L207.6,281.1 L207.6,279.8 L208.3,279.8 L208.3,280.6 L209.0,280.6 L209.0,281.5 L209.7,281.5 L209.7,282.3 L210.4,282.3 L210.4,281.4 L211.1,281.4 L211.1,282.8 L211.8,282.8 L211.8,282.4 L212.5,282.4 L212.5,284.2 L213.2,284.2 L213.2,283.7 L213.9,283.7 L213.9,283.3 L214.6,283.3 L214.6,285.3 L215.3,285.3 L215.3,284.6 L216.0,284.6 L216.0,286.8 L216.7,286.8 L216.7,286.0 L217.4,286.0 L217.4,287.1 L218.1,287.1 L218.1,285.9 L218.8,285.9 L218.8,289.6 L219.5,289.6 L219.5,290.1 L220.2,290.1 L220.2,289.2 L220.9,289.2 L220.9,291.2 L221.6,291.2 L221.6,289.1 L222.3,289.1 L222.3,290.6 L223.0,290.6 L223.0,291.1 L223.7,291.1 L223.7,292.3 L224.4,292.3 L224.4,292.9 L225.1,292.9 L225.1,292.2 L225.8,292.2 L225.8,292.3 L226.5,292.3 L226.5,290.6 L227.2,290.6 L227.2,293.5 L227.9,293.5 L227.9,292.8 L228.6,292.8 L228.6,293.2 L229.3,293.2 L229.3,293.5 L230.0,293.5 L230.0,293.7 L230.7,293.7 L230.7,293.5 L231.4,293.5 L230.9,296.5 Z" fill="#585858" stroke="#000" stroke-width="1.0" stroke-linejoin="bevel"/>
<line x1="70.80" y1="296.50" x2="230.90" y2="296.50" stroke="#111" stroke-width="1.4" />
<line x1="70.80" y1="296.50" x2="70.80" y2="300.50" stroke="#222" stroke-width="0.9" />
<line x1="82.85" y1="296.50" x2="82.85" y2="298.70" stroke="#222" stroke-width="0.7" />
<line x1="89.90" y1="296.50" x2="89.90" y2="298.70" stroke="#222" stroke-width="0.7" />
<line x1="94.90" y1="296.50" x2="94.90" y2="298.70" stroke="#222" stroke-width="0.7" />
<line x1="98.78" y1="296.50" x2="98.78" y2="298.70" stroke="#222" stroke-width="0.7" />
<line x1="101.95" y1="296.50" x2="101.95" y2="298.70" stroke="#222" stroke-width="0.7" />
<line x1="104.63" y1="296.50" x2="104.63" y2="298.70" stroke="#222" stroke-width="0.7" />
<line x1="106.95" y1="296.50" x2="106.95" y2="298.70" stroke="#222" stroke-width="0.7" />
<line x1="108.99" y1="296.50" x2="108.99" y2="298.70" stroke="#222" stroke-width="0.7" />
<line x1="110.83" y1="296.50" x2="110.83" y2="300.50" stroke="#222" stroke-width="0.9" />
<line x1="122.87" y1="296.50" x2="122.87" y2="298.70" stroke="#222" stroke-width="0.7" />
<line x1="129.92" y1="296.50" x2="129.92" y2="298.70" stroke="#222" stroke-width="0.7" />
<line x1="134.92" y1="296.50" x2="134.92" y2="298.70" stroke="#222" stroke-width="0.7" />
<line x1="138.80" y1="296.50" x2="138.80" y2="298.70" stroke="#222" stroke-width="0.7" />
<line x1="141.97" y1="296.50" x2="141.97" y2="298.70" stroke="#222" stroke-width="0.7" />
<line x1="144.65" y1="296.50" x2="144.65" y2="298.70" stroke="#222" stroke-width="0.7" />
<line x1="146.97" y1="296.50" x2="146.97" y2="298.70" stroke="#222" stroke-width="0.7" />
<line x1="149.02" y1="296.50" x2="149.02" y2="298.70" stroke="#222" stroke-width="0.7" />
<line x1="150.85" y1="296.50" x2="150.85" y2="300.50" stroke="#222" stroke-width="0.9" />
<line x1="162.90" y1="296.50" x2="162.90" y2="298.70" stroke="#222" stroke-width="0.7" />
<line x1="169.95" y1="296.50" x2="169.95" y2="298.70" stroke="#222" stroke-width="0.7" />
<line x1="174.95" y1="296.50" x2="174.95" y2="298.70" stroke="#222" stroke-width="0.7" />
<line x1="178.83" y1="296.50" x2="178.83" y2="298.70" stroke="#222" stroke-width="0.7" />
<line x1="182.00" y1="296.50" x2="182.00" y2="298.70" stroke="#222" stroke-width="0.7" />
<line x1="184.68" y1="296.50" x2="184.68" y2="298.70" stroke="#222" stroke-width="0.7" />
<line x1="187.00" y1="296.50" x2="187.00" y2="298.70" stroke="#222" stroke-width="0.7" />
<line x1="189.04" y1="296.50" x2="189.04" y2="298.70" stroke="#222" stroke-width="0.7" />
<line x1="190.88" y1="296.50" x2="190.88" y2="300.50" stroke="#222" stroke-width="0.9" />
<line x1="202.92" y1="296.50" x2="202.92" y2="298.70" stroke="#222" stroke-width="0.7" />
<line x1="209.97" y1="296.50" x2="209.97" y2="298.70" stroke="#222" stroke-width="0.7" />
<line x1="214.97" y1="296.50" x2="214.97" y2="298.70" stroke="#222" stroke-width="0.7" />
<line x1="218.85" y1="296.50" x2="218.85" y2="298.70" stroke="#222" stroke-width="0.7" />
<line x1="222.02" y1="296.50" x2="222.02" y2="298.70" stroke="#222" stroke-width="0.7" />
<line x1="224.70" y1="296.50" x2="224.70" y2="298.70" stroke="#222" stroke-width="0.7" />
<line x1="227.02" y1="296.50" x2="227.02" y2="298.70" stroke="#222" stroke-width="0.7" />
<line x1="229.07" y1="296.50" x2="229.07" y2="298.70" stroke="#222" stroke-width="0.7" />
<line x1="230.90" y1="296.50" x2="230.90" y2="300.50" stroke="#222" stroke-width="0.9" />
<text x="69.8" y="307.8" font-size="6.4" font-family="Liberation Serif" font-weight="bold" text-anchor="middle" fill="#111">10<tspan dy="-3.4" font-size="4.8">0</tspan></text>
<text x="109.8" y="307.8" font-size="6.4" font-family="Liberation Serif" font-weight="bold" text-anchor="middle" fill="#111">10<tspan dy="-3.4" font-size="4.8">1</tspan></text>
<text x="149.9" y="307.8" font-size="6.4" font-family="Liberation Serif" font-weight="bold" text-anchor="middle" fill="#111">10<tspan dy="-3.4" font-size="4.8">2</tspan></text>
<text x="189.9" y="307.8" font-size="6.4" font-family="Liberation Serif" font-weight="bold" text-anchor="middle" fill="#111">10<tspan dy="-3.4" font-size="4.8">3</tspan></text>
<text x="229.9" y="307.8" font-size="6.4" font-family="Liberation Serif" font-weight="bold" text-anchor="middle" fill="#111">10<tspan dy="-3.4" font-size="4.8">4</tspan></text>
<line x1="70.80" y1="266.50" x2="230.90" y2="266.50" stroke="#555" stroke-width="1.0" />
<line x1="139.50" y1="260.00" x2="139.50" y2="273.50" stroke="#222" stroke-width="1.3" />
<line x1="230.90" y1="260.00" x2="230.90" y2="273.50" stroke="#666" stroke-width="1.0" />
<text x="108.7" y="275.0" font-size="6" font-family="Liberation Serif" text-anchor="middle" fill="#555">M1</text>
<text x="190.2" y="275.0" font-size="6" font-family="Liberation Serif" text-anchor="middle" fill="#555">M2</text>
<line x1="68.80" y1="241.50" x2="71.20" y2="241.50" stroke="#222" stroke-width="0.9" />
<line x1="69.80" y1="243.80" x2="71.20" y2="243.80" stroke="#222" stroke-width="0.9" />
<line x1="69.80" y1="246.10" x2="71.20" y2="246.10" stroke="#222" stroke-width="0.9" />
<line x1="69.80" y1="248.40" x2="71.20" y2="248.40" stroke="#222" stroke-width="0.9" />
<line x1="69.80" y1="250.70" x2="71.20" y2="250.70" stroke="#222" stroke-width="0.9" />
<line x1="68.80" y1="253.00" x2="71.20" y2="253.00" stroke="#222" stroke-width="0.9" />
<line x1="69.80" y1="255.30" x2="71.20" y2="255.30" stroke="#222" stroke-width="0.9" />
<line x1="69.80" y1="257.60" x2="71.20" y2="257.60" stroke="#222" stroke-width="0.9" />
<line x1="69.80" y1="259.90" x2="71.20" y2="259.90" stroke="#222" stroke-width="0.9" />
<line x1="69.80" y1="262.20" x2="71.20" y2="262.20" stroke="#222" stroke-width="0.9" />
<line x1="68.80" y1="264.50" x2="71.20" y2="264.50" stroke="#222" stroke-width="0.9" />
<line x1="69.80" y1="266.80" x2="71.20" y2="266.80" stroke="#222" stroke-width="0.9" />
<line x1="69.80" y1="269.10" x2="71.20" y2="269.10" stroke="#222" stroke-width="0.9" />
<line x1="69.80" y1="271.40" x2="71.20" y2="271.40" stroke="#222" stroke-width="0.9" />
<line x1="69.80" y1="273.70" x2="71.20" y2="273.70" stroke="#222" stroke-width="0.9" />
<line x1="68.30" y1="241.50" x2="70.80" y2="241.50" stroke="#222" stroke-width="0.9" />
<text transform="translate(66.3,247.5) rotate(-90)" font-size="6.2" font-family="Liberation Serif" font-weight="bold" fill="#111">200</text>
<text transform="translate(66.3,298.0) rotate(-90)" font-size="6.2" font-family="Liberation Serif" font-weight="bold" fill="#111">0</text>
<text transform="translate(61.0,280.0) rotate(-90)" font-size="6.4" font-family="Liberation Serif" font-weight="bold" fill="#111">Counts</text>
<text transform="translate(132.13,238.00) scale(1.0363,1)" font-size="7.41" font-weight="bold" fill="#2a2a2a" >X&lt;XX:X</text>
<text transform="translate(139.03,316.44) scale(0.7945,1)" font-size="5.93" font-weight="bold" fill="#333" >Mac-1 APC</text>
<path d="M69.0,386.9 L69.3,386.5 L70.0,386.5 L70.0,386.5 L70.7,386.5 L70.7,386.5 L71.4,386.5 L71.4,385.7 L72.1,385.7 L72.1,386.5 L72.8,386.5 L72.8,386.0 L73.5,386.0 L73.5,386.5 L74.2,386.5 L74.2,386.5 L74.9,386.5 L74.9,385.7 L75.6,385.7 L75.6,386.6 L76.3,386.6 L76.3,385.9 L77.0,385.9 L77.0,385.7 L77.7,385.7 L77.7,386.5 L78.4,386.5 L78.4,386.1 L79.1,386.1 L79.1,386.5 L79.8,386.5 L79.8,386.5 L80.5,386.5 L80.5,386.5 L81.2,386.5 L81.2,386.5 L81.9,386.5 L81.9,386.5 L82.6,386.5 L82.6,386.0 L83.3,386.0 L83.3,386.5 L84.0,386.5 L84.0,386.5 L84.7,386.5 L84.7,386.5 L85.4,386.5 L85.4,385.9 L86.1,385.9 L86.1,385.8 L86.8,385.8 L86.8,386.5 L87.5,386.5 L87.5,386.5 L88.2,386.5 L88.2,386.4 L88.9,386.4 L88.9,386.4 L89.6,386.4 L89.6,386.4 L90.3,386.4 L90.3,386.1 L91.0,386.1 L91.0,386.0 L91.7,386.0 L91.7,385.7 L92.4,385.7 L92.4,386.4 L93.1,386.4 L93.1,386.5 L93.8,386.5 L93.8,386.4 L94.5,386.4 L94.5,386.1 L95.2,386.1 L95.2,386.4 L95.9,386.4 L95.9,386.4 L96.6,386.4 L96.6,386.4 L97.3,386.4 L97.3,386.4 L98.0,386.4 L98.0,386.4 L98.7,386.4 L98.7,386.2 L99.4,386.2 L99.4,386.4 L100.1,386.4 L100.1,386.5 L100.8,386.5 L100.8,386.4 L101.5,386.4 L101.5,386.0 L102.2,386.0 L102.2,386.3 L102.9,386.3 L102.9,386.4 L103.6,386.4 L103.6,386.4 L104.3,386.4 L104.3,386.4 L105.0,386.4 L105.0,386.4 L105.7,386.4 L105.7,386.0 L106.4,386.0 L106.4,386.4 L107.1,386.4 L107.1,386.4 L107.8,386.4 L107.8,386.1 L108.5,386.1 L108.5,386.2 L109.2,386.2 L109.2,386.4 L109.9,386.4 L109.9,386.3 L110.6,386.3 L110.6,386.4 L111.3,386.4 L111.3,386.4 L112.0,386.4 L112.0,386.4 L112.7,386.4 L112.7,386.6 L113.4,386.6 L113.4,385.9 L114.1,385.9 L114.1,386.4 L114.8,386.4 L114.8,386.2 L115.5,386.2 L115.5,386.4 L116.2,386.4 L116.2,386.4 L116.9,386.4 L116.9,386.4 L117.6,386.4 L117.6,385.9 L118.3,385.9 L118.3,386.4 L119.0,386.4 L119.0,385.5 L119.7,385.5 L119.7,386.4 L120.4,386.4 L120.4,386.4 L121.1,386.4 L121.1,386.0 L121.8,386.0 L121.8,386.5 L122.5,386.5 L122.5,386.3 L123.2,386.3 L123.2,386.4 L123.9,386.4 L123.9,385.8 L124.6,385.8 L124.6,386.4 L125.3,386.4 L125.3,386.2 L126.0,386.2 L126.0,386.4 L126.7,386.4 L126.7,385.6 L127.4,385.6 L127.4,386.3 L128.1,386.3 L128.1,386.3 L128.8,386.3 L128.8,386.3 L129.5,386.3 L129.5,386.3 L130.2,386.3 L130.2,386.3 L130.9,386.3 L130.9,386.3 L131.6,386.3 L131.6,386.0 L132.3,386.0 L132.3,385.8 L133.0,385.8 L133.0,386.0 L133.7,386.0 L133.7,386.3 L134.4,386.3 L134.4,386.3 L135.1,386.3 L135.1,385.4 L135.8,385.4 L135.8,386.3 L136.5,386.3 L136.5,386.3 L137.2,386.3 L137.2,386.3 L137.9,386.3 L137.9,385.5 L138.6,385.5 L138.6,386.3 L139.3,386.3 L139.3,386.3 L140.0,386.3 L140.0,386.3 L140.7,386.3 L140.7,386.3 L141.4,386.3 L141.4,386.3 L142.1,386.3 L142.1,386.3 L142.8,386.3 L142.8,385.7 L143.5,385.7 L143.5,386.3 L144.2,386.3 L144.2,386.3 L144.9,386.3 L144.9,386.3 L145.6,386.3 L145.6,385.9 L146.3,385.9 L146.3,386.0 L147.0,386.0 L147.0,385.9 L147.7,385.9 L147.7,385.7 L148.4,385.7 L148.4,386.3 L149.1,386.3 L149.1,386.0 L149.8,386.0 L149.8,385.8 L150.5,385.8 L150.5,385.6 L151.2,385.6 L151.2,385.9 L151.9,385.9 L151.9,383.5 L152.6,383.5 L152.6,384.7 L153.3,384.7 L153.3,385.5 L154.0,385.5 L154.0,385.4 L154.7,385.4 L154.7,385.9 L155.4,385.9 L155.4,385.2 L156.1,385.2 L156.1,385.0 L156.8,385.0 L156.8,385.1 L157.5,385.1 L157.5,385.5 L158.2,385.5 L158.2,384.7 L158.9,384.7 L158.9,384.5 L159.6,384.5 L159.6,384.4 L160.3,384.4 L160.3,384.1 L161.0,384.1 L161.0,384.0 L161.7,384.0 L161.7,383.6 L162.4,383.6 L162.4,383.9 L163.1,383.9 L163.1,383.6 L163.8,383.6 L163.8,382.3 L164.5,382.3 L164.5,384.1 L165.2,384.1 L165.2,383.1 L165.9,383.1 L165.9,381.4 L166.6,381.4 L166.6,382.3 L167.3,382.3 L167.3,382.7 L168.0,382.7 L168.0,381.9 L168.7,381.9 L168.7,381.5 L169.4,381.5 L169.4,379.9 L170.1,379.9 L170.1,381.4 L170.8,381.4 L170.8,381.1 L171.5,381.1 L171.5,379.8 L172.2,379.8 L172.2,380.9 L172.9,380.9 L172.9,380.9 L173.6,380.9 L173.6,380.0 L174.3,380.0 L174.3,380.3 L175.0,380.3 L175.0,378.5 L175.7,378.5 L175.7,378.6 L176.4,378.6 L176.4,379.1 L177.1,379.1 L177.1,378.1 L177.8,378.1 L177.8,377.2 L178.5,377.2 L178.5,378.5 L179.2,378.5 L179.2,377.3 L179.9,377.3 L179.9,377.1 L180.6,377.1 L180.6,376.3 L181.3,376.3 L181.3,375.9 L182.0,375.9 L182.0,375.5 L182.7,375.5 L182.7,376.4 L183.4,376.4 L183.4,374.2 L184.1,374.2 L184.1,375.3 L184.8,375.3 L184.8,375.1 L185.5,375.1 L185.5,375.2 L186.2,375.2 L186.2,375.3 L186.9,375.3 L186.9,372.8 L187.6,372.8 L187.6,375.3 L188.3,375.3 L188.3,375.1 L189.0,375.1 L189.0,375.6 L189.7,375.6 L189.7,375.3 L190.4,375.3 L190.4,375.3 L191.1,375.3 L191.1,376.2 L191.8,376.2 L191.8,377.4 L192.5,377.4 L192.5,377.2 L193.2,377.2 L193.2,377.0 L193.9,377.0 L193.9,376.8 L194.6,376.8 L194.6,376.1 L195.3,376.1 L195.3,375.8 L196.0,375.8 L196.0,376.0 L196.7,376.0 L196.7,375.7 L197.4,375.7 L197.4,375.9 L198.1,375.9 L198.1,374.8 L198.8,374.8 L198.8,374.7 L199.5,374.7 L199.5,374.7 L200.2,374.7 L200.2,374.9 L200.9,374.9 L200.9,376.3 L201.6,376.3 L201.6,375.1 L202.3,375.1 L202.3,376.3 L203.0,376.3 L203.0,376.8 L203.7,376.8 L203.7,375.4 L204.4,375.4 L204.4,377.4 L205.1,377.4 L205.1,376.1 L205.8,376.1 L205.8,376.7 L206.5,376.7 L206.5,377.4 L207.2,377.4 L207.2,377.7 L207.9,377.7 L207.9,375.3 L208.6,375.3 L208.6,377.0 L209.3,377.0 L209.3,377.1 L210.0,377.1 L210.0,378.8 L210.7,378.8 L210.7,377.9 L211.4,377.9 L211.4,378.6 L212.1,378.6 L212.1,377.8 L212.8,377.8 L212.8,379.0 L213.5,379.0 L213.5,378.9 L214.2,378.9 L214.2,379.4 L214.9,379.4 L214.9,379.7 L215.6,379.7 L215.6,378.3 L216.3,378.3 L216.3,379.8 L217.0,379.8 L217.0,380.6 L217.7,380.6 L217.7,379.9 L218.4,379.9 L218.4,381.4 L219.1,381.4 L219.1,381.6 L219.8,381.6 L219.8,382.2 L220.5,382.2 L220.5,382.0 L221.2,382.0 L221.2,382.2 L221.9,382.2 L221.9,382.3 L222.6,382.3 L222.6,383.1 L223.3,383.1 L223.3,382.5 L224.0,382.5 L224.0,382.2 L224.7,382.2 L224.7,382.9 L225.4,382.9 L225.4,382.2 L226.1,382.2 L226.1,383.3 L226.8,383.3 L226.8,384.6 L227.5,384.6 L227.5,384.5 L228.2,384.5 L228.2,383.6 L228.9,383.6 L228.9,383.8 L229.6,383.8 L229.6,384.6 L230.3,384.6 L230.3,384.7 L231.0,384.7 L231.0,385.6 L231.7,385.6 L231.6,386.9 Z" fill="#585858" stroke="#000" stroke-width="1.0" stroke-linejoin="bevel"/>
<line x1="69.00" y1="386.90" x2="231.60" y2="386.90" stroke="#111" stroke-width="1.4" />
<line x1="69.00" y1="386.90" x2="69.00" y2="390.90" stroke="#222" stroke-width="0.9" />
<line x1="81.24" y1="386.90" x2="81.24" y2="389.10" stroke="#222" stroke-width="0.7" />
<line x1="88.39" y1="386.90" x2="88.39" y2="389.10" stroke="#222" stroke-width="0.7" />
<line x1="93.47" y1="386.90" x2="93.47" y2="389.10" stroke="#222" stroke-width="0.7" />
<line x1="97.41" y1="386.90" x2="97.41" y2="389.10" stroke="#222" stroke-width="0.7" />
<line x1="100.63" y1="386.90" x2="100.63" y2="389.10" stroke="#222" stroke-width="0.7" />
<line x1="103.35" y1="386.90" x2="103.35" y2="389.10" stroke="#222" stroke-width="0.7" />
<line x1="105.71" y1="386.90" x2="105.71" y2="389.10" stroke="#222" stroke-width="0.7" />
<line x1="107.79" y1="386.90" x2="107.79" y2="389.10" stroke="#222" stroke-width="0.7" />
<line x1="109.65" y1="386.90" x2="109.65" y2="390.90" stroke="#222" stroke-width="0.9" />
<line x1="121.89" y1="386.90" x2="121.89" y2="389.10" stroke="#222" stroke-width="0.7" />
<line x1="129.04" y1="386.90" x2="129.04" y2="389.10" stroke="#222" stroke-width="0.7" />
<line x1="134.12" y1="386.90" x2="134.12" y2="389.10" stroke="#222" stroke-width="0.7" />
<line x1="138.06" y1="386.90" x2="138.06" y2="389.10" stroke="#222" stroke-width="0.7" />
<line x1="141.28" y1="386.90" x2="141.28" y2="389.10" stroke="#222" stroke-width="0.7" />
<line x1="144.00" y1="386.90" x2="144.00" y2="389.10" stroke="#222" stroke-width="0.7" />
<line x1="146.36" y1="386.90" x2="146.36" y2="389.10" stroke="#222" stroke-width="0.7" />
<line x1="148.44" y1="386.90" x2="148.44" y2="389.10" stroke="#222" stroke-width="0.7" />
<line x1="150.30" y1="386.90" x2="150.30" y2="390.90" stroke="#222" stroke-width="0.9" />
<line x1="162.54" y1="386.90" x2="162.54" y2="389.10" stroke="#222" stroke-width="0.7" />
<line x1="169.69" y1="386.90" x2="169.69" y2="389.10" stroke="#222" stroke-width="0.7" />
<line x1="174.77" y1="386.90" x2="174.77" y2="389.10" stroke="#222" stroke-width="0.7" />
<line x1="178.71" y1="386.90" x2="178.71" y2="389.10" stroke="#222" stroke-width="0.7" />
<line x1="181.93" y1="386.90" x2="181.93" y2="389.10" stroke="#222" stroke-width="0.7" />
<line x1="184.65" y1="386.90" x2="184.65" y2="389.10" stroke="#222" stroke-width="0.7" />
<line x1="187.01" y1="386.90" x2="187.01" y2="389.10" stroke="#222" stroke-width="0.7" />
<line x1="189.09" y1="386.90" x2="189.09" y2="389.10" stroke="#222" stroke-width="0.7" />
<line x1="190.95" y1="386.90" x2="190.95" y2="390.90" stroke="#222" stroke-width="0.9" />
<line x1="203.19" y1="386.90" x2="203.19" y2="389.10" stroke="#222" stroke-width="0.7" />
<line x1="210.34" y1="386.90" x2="210.34" y2="389.10" stroke="#222" stroke-width="0.7" />
<line x1="215.42" y1="386.90" x2="215.42" y2="389.10" stroke="#222" stroke-width="0.7" />
<line x1="219.36" y1="386.90" x2="219.36" y2="389.10" stroke="#222" stroke-width="0.7" />
<line x1="222.58" y1="386.90" x2="222.58" y2="389.10" stroke="#222" stroke-width="0.7" />
<line x1="225.30" y1="386.90" x2="225.30" y2="389.10" stroke="#222" stroke-width="0.7" />
<line x1="227.66" y1="386.90" x2="227.66" y2="389.10" stroke="#222" stroke-width="0.7" />
<line x1="229.74" y1="386.90" x2="229.74" y2="389.10" stroke="#222" stroke-width="0.7" />
<line x1="231.60" y1="386.90" x2="231.60" y2="390.90" stroke="#222" stroke-width="0.9" />
<text x="68.0" y="398.2" font-size="6.4" font-family="Liberation Serif" font-weight="bold" text-anchor="middle" fill="#111">10<tspan dy="-3.4" font-size="4.8">0</tspan></text>
<text x="108.7" y="398.2" font-size="6.4" font-family="Liberation Serif" font-weight="bold" text-anchor="middle" fill="#111">10<tspan dy="-3.4" font-size="4.8">1</tspan></text>
<text x="149.3" y="398.2" font-size="6.4" font-family="Liberation Serif" font-weight="bold" text-anchor="middle" fill="#111">10<tspan dy="-3.4" font-size="4.8">2</tspan></text>
<text x="189.9" y="398.2" font-size="6.4" font-family="Liberation Serif" font-weight="bold" text-anchor="middle" fill="#111">10<tspan dy="-3.4" font-size="4.8">3</tspan></text>
<text x="230.6" y="398.2" font-size="6.4" font-family="Liberation Serif" font-weight="bold" text-anchor="middle" fill="#111">10<tspan dy="-3.4" font-size="4.8">4</tspan></text>
<line x1="69.00" y1="356.50" x2="231.60" y2="356.50" stroke="#555" stroke-width="1.0" />
<line x1="137.70" y1="350.00" x2="137.70" y2="363.50" stroke="#222" stroke-width="1.3" />
<line x1="231.60" y1="350.00" x2="231.60" y2="363.50" stroke="#666" stroke-width="1.0" />
<text x="106.8" y="365.0" font-size="6" font-family="Liberation Serif" text-anchor="middle" fill="#555">M1</text>
<text x="189.6" y="365.0" font-size="6" font-family="Liberation Serif" text-anchor="middle" fill="#555">M2</text>
<line x1="67.00" y1="331.00" x2="69.40" y2="331.00" stroke="#222" stroke-width="0.9" />
<line x1="68.00" y1="333.30" x2="69.40" y2="333.30" stroke="#222" stroke-width="0.9" />
<line x1="68.00" y1="335.60" x2="69.40" y2="335.60" stroke="#222" stroke-width="0.9" />
<line x1="68.00" y1="337.90" x2="69.40" y2="337.90" stroke="#222" stroke-width="0.9" />
<line x1="68.00" y1="340.20" x2="69.40" y2="340.20" stroke="#222" stroke-width="0.9" />
<line x1="67.00" y1="342.50" x2="69.40" y2="342.50" stroke="#222" stroke-width="0.9" />
<line x1="68.00" y1="344.80" x2="69.40" y2="344.80" stroke="#222" stroke-width="0.9" />
<line x1="68.00" y1="347.10" x2="69.40" y2="347.10" stroke="#222" stroke-width="0.9" />
<line x1="68.00" y1="349.40" x2="69.40" y2="349.40" stroke="#222" stroke-width="0.9" />
<line x1="68.00" y1="351.70" x2="69.40" y2="351.70" stroke="#222" stroke-width="0.9" />
<line x1="67.00" y1="354.00" x2="69.40" y2="354.00" stroke="#222" stroke-width="0.9" />
<line x1="68.00" y1="356.30" x2="69.40" y2="356.30" stroke="#222" stroke-width="0.9" />
<line x1="68.00" y1="358.60" x2="69.40" y2="358.60" stroke="#222" stroke-width="0.9" />
<line x1="68.00" y1="360.90" x2="69.40" y2="360.90" stroke="#222" stroke-width="0.9" />
<line x1="68.00" y1="363.20" x2="69.40" y2="363.20" stroke="#222" stroke-width="0.9" />
<line x1="67.00" y1="365.50" x2="69.40" y2="365.50" stroke="#222" stroke-width="0.9" />
<line x1="66.50" y1="331.00" x2="69.00" y2="331.00" stroke="#222" stroke-width="0.9" />
<text transform="translate(64.5,337.0) rotate(-90)" font-size="6.2" font-family="Liberation Serif" font-weight="bold" fill="#111">200</text>
<text transform="translate(64.5,388.4) rotate(-90)" font-size="6.2" font-family="Liberation Serif" font-weight="bold" fill="#111">0</text>
<text transform="translate(59.2,369.9) rotate(-90)" font-size="6.4" font-family="Liberation Serif" font-weight="bold" fill="#111">Counts</text>
<text transform="translate(132.13,328.00) scale(1.0363,1)" font-size="7.41" font-weight="bold" fill="#2a2a2a" >X&lt;XX:X</text>
<text transform="translate(138.48,406.84) scale(0.7945,1)" font-size="5.93" font-weight="bold" fill="#333" >Mac-1 APC</text>
<path d="M69.0,484.2 L69.3,484.0 L70.0,484.0 L70.0,483.2 L70.7,483.2 L70.7,483.1 L71.4,483.1 L71.4,482.7 L72.1,482.7 L72.1,483.5 L72.8,483.5 L72.8,483.2 L73.5,483.2 L73.5,482.8 L74.2,482.8 L74.2,482.7 L74.9,482.7 L74.9,483.1 L75.6,483.1 L75.6,483.8 L76.3,483.8 L76.3,482.8 L77.0,482.8 L77.0,483.4 L77.7,483.4 L77.7,483.1 L78.4,483.1 L78.4,483.2 L79.1,483.2 L79.1,483.4 L79.8,483.4 L79.8,483.0 L80.5,483.0 L80.5,482.5 L81.2,482.5 L81.2,484.0 L81.9,484.0 L81.9,483.8 L82.6,483.8 L82.6,483.4 L83.3,483.4 L83.3,482.6 L84.0,482.6 L84.0,482.5 L84.7,482.5 L84.7,483.1 L85.4,483.1 L85.4,483.2 L86.1,483.2 L86.1,483.5 L86.8,483.5 L86.8,483.7 L87.5,483.7 L87.5,483.9 L88.2,483.9 L88.2,483.2 L88.9,483.2 L88.9,482.6 L89.6,482.6 L89.6,482.6 L90.3,482.6 L90.3,482.4 L91.0,482.4 L91.0,482.9 L91.7,482.9 L91.7,482.8 L92.4,482.8 L92.4,482.3 L93.1,482.3 L93.1,482.5 L93.8,482.5 L93.8,483.0 L94.5,483.0 L94.5,484.0 L95.2,484.0 L95.2,483.2 L95.9,483.2 L95.9,482.8 L96.6,482.8 L96.6,483.1 L97.3,483.1 L97.3,483.2 L98.0,483.2 L98.0,482.4 L98.7,482.4 L98.7,483.6 L99.4,483.6 L99.4,480.8 L100.1,480.8 L100.1,483.0 L100.8,483.0 L100.8,483.2 L101.5,483.2 L101.5,483.2 L102.2,483.2 L102.2,483.1 L102.9,483.1 L102.9,483.0 L103.6,483.0 L103.6,481.0 L104.3,481.0 L104.3,483.0 L105.0,483.0 L105.0,483.4 L105.7,483.4 L105.7,482.7 L106.4,482.7 L106.4,482.9 L107.1,482.9 L107.1,482.4 L107.8,482.4 L107.8,483.2 L108.5,483.2 L108.5,482.6 L109.2,482.6 L109.2,483.0 L109.9,483.0 L109.9,482.5 L110.6,482.5 L110.6,482.6 L111.3,482.6 L111.3,482.3 L112.0,482.3 L112.0,483.4 L112.7,483.4 L112.7,483.4 L113.4,483.4 L113.4,481.3 L114.1,481.3 L114.1,482.9 L114.8,482.9 L114.8,482.7 L115.5,482.7 L115.5,482.9 L116.2,482.9 L116.2,482.4 L116.9,482.4 L116.9,483.2 L117.6,483.2 L117.6,482.8 L118.3,482.8 L118.3,482.3 L119.0,482.3 L119.0,482.7 L119.7,482.7 L119.7,482.9 L120.4,482.9 L120.4,482.8 L121.1,482.8 L121.1,482.2 L121.8,482.2 L121.8,482.8 L122.5,482.8 L122.5,483.3 L123.2,483.3 L123.2,482.5 L123.9,482.5 L123.9,483.0 L124.6,483.0 L124.6,483.1 L125.3,483.1 L125.3,482.3 L126.0,482.3 L126.0,483.5 L126.7,483.5 L126.7,482.6 L127.4,482.6 L127.4,483.4 L128.1,483.4 L128.1,482.3 L128.8,482.3 L128.8,480.0 L129.5,480.0 L129.5,481.6 L130.2,481.6 L130.2,483.1 L130.9,483.1 L130.9,482.6 L131.6,482.6 L131.6,482.7 L132.3,482.7 L132.3,483.2 L133.0,483.2 L133.0,482.5 L133.7,482.5 L133.7,483.0 L134.4,483.0 L134.4,482.6 L135.1,482.6 L135.1,481.8 L135.8,481.8 L135.8,482.8 L136.5,482.8 L136.5,483.0 L137.2,483.0 L137.2,482.3 L137.9,482.3 L137.9,481.7 L138.6,481.7 L138.6,482.3 L139.3,482.3 L139.3,481.5 L140.0,481.5 L140.0,481.1 L140.7,481.1 L140.7,482.3 L141.4,482.3 L141.4,481.6 L142.1,481.6 L142.1,483.0 L142.8,483.0 L142.8,481.8 L143.5,481.8 L143.5,483.2 L144.2,483.2 L144.2,482.0 L144.9,482.0 L144.9,481.0 L145.6,481.0 L145.6,480.2 L146.3,480.2 L146.3,482.8 L147.0,482.8 L147.0,481.9 L147.7,481.9 L147.7,482.5 L148.4,482.5 L148.4,482.0 L149.1,482.0 L149.1,481.7 L149.8,481.7 L149.8,482.7 L150.5,482.7 L150.5,479.9 L151.2,479.9 L151.2,482.5 L151.9,482.5 L151.9,479.9 L152.6,479.9 L152.6,482.9 L153.3,482.9 L153.3,482.4 L154.0,482.4 L154.0,480.8 L154.7,480.8 L154.7,482.2 L155.4,482.2 L155.4,482.4 L156.1,482.4 L156.1,480.9 L156.8,480.9 L156.8,482.5 L157.5,482.5 L157.5,481.6 L158.2,481.6 L158.2,481.4 L158.9,481.4 L158.9,480.5 L159.6,480.5 L159.6,480.9 L160.3,480.9 L160.3,481.6 L161.0,481.6 L161.0,480.9 L161.7,480.9 L161.7,481.6 L162.4,481.6 L162.4,480.6 L163.1,480.6 L163.1,481.0 L163.8,481.0 L163.8,480.8 L164.5,480.8 L164.5,479.2 L165.2,479.2 L165.2,480.1 L165.9,480.1 L165.9,480.2 L166.6,480.2 L166.6,479.0 L167.3,479.0 L167.3,479.4 L168.0,479.4 L168.0,479.4 L168.7,479.4 L168.7,479.5 L169.4,479.5 L169.4,479.7 L170.1,479.7 L170.1,479.3 L170.8,479.3 L170.8,479.1 L171.5,479.1 L171.5,477.8 L172.2,477.8 L172.2,478.9 L172.9,478.9 L172.9,479.0 L173.6,479.0 L173.6,478.3 L174.3,478.3 L174.3,477.5 L175.0,477.5 L175.0,477.1 L175.7,477.1 L175.7,477.0 L176.4,477.0 L176.4,476.2 L177.1,476.2 L177.1,476.4 L177.8,476.4 L177.8,477.0 L178.5,477.0 L178.5,476.6 L179.2,476.6 L179.2,476.1 L179.9,476.1 L179.9,476.0 L180.6,476.0 L180.6,474.5 L181.3,474.5 L181.3,474.3 L182.0,474.3 L182.0,474.9 L182.7,474.9 L182.7,472.3 L183.4,472.3 L183.4,474.4 L184.1,474.4 L184.1,473.8 L184.8,473.8 L184.8,472.7 L185.5,472.7 L185.5,474.2 L186.2,474.2 L186.2,472.4 L186.9,472.4 L186.9,471.5 L187.6,471.5 L187.6,471.4 L188.3,471.4 L188.3,471.3 L189.0,471.3 L189.0,471.1 L189.7,471.1 L189.7,471.1 L190.4,471.1 L190.4,470.0 L191.1,470.0 L191.1,469.6 L191.8,469.6 L191.8,468.6 L192.5,468.6 L192.5,471.9 L193.2,471.9 L193.2,470.4 L193.9,470.4 L193.9,470.9 L194.6,470.9 L194.6,470.0 L195.3,470.0 L195.3,472.2 L196.0,472.2 L196.0,471.8 L196.7,471.8 L196.7,471.4 L197.4,471.4 L197.4,472.2 L198.1,472.2 L198.1,473.9 L198.8,473.9 L198.8,471.7 L199.5,471.7 L199.5,473.0 L200.2,473.0 L200.2,471.5 L200.9,471.5 L200.9,473.0 L201.6,473.0 L201.6,472.5 L202.3,472.5 L202.3,472.7 L203.0,472.7 L203.0,474.0 L203.7,474.0 L203.7,474.5 L204.4,474.5 L204.4,474.1 L205.1,474.1 L205.1,474.6 L205.8,474.6 L205.8,473.9 L206.5,473.9 L206.5,475.1 L207.2,475.1 L207.2,473.9 L207.9,473.9 L207.9,473.7 L208.6,473.7 L208.6,475.2 L209.3,475.2 L209.3,474.3 L210.0,474.3 L210.0,476.4 L210.7,476.4 L210.7,475.5 L211.4,475.5 L211.4,476.4 L212.1,476.4 L212.1,476.4 L212.8,476.4 L212.8,476.6 L213.5,476.6 L213.5,477.1 L214.2,477.1 L214.2,476.2 L214.9,476.2 L214.9,477.2 L215.6,477.2 L215.6,477.3 L216.3,477.3 L216.3,478.1 L217.0,478.1 L217.0,478.5 L217.7,478.5 L217.7,478.6 L218.4,478.6 L218.4,476.8 L219.1,476.8 L219.1,479.3 L219.8,479.3 L219.8,479.7 L220.5,479.7 L220.5,479.6 L221.2,479.6 L221.2,478.8 L221.9,478.8 L221.9,479.1 L222.6,479.1 L222.6,479.1 L223.3,479.1 L223.3,480.8 L224.0,480.8 L224.0,479.8 L224.7,479.8 L224.7,480.2 L225.4,480.2 L225.4,480.8 L226.1,480.8 L226.1,480.6 L226.8,480.6 L226.8,479.8 L227.5,479.8 L227.5,480.3 L228.2,480.3 L228.2,481.1 L228.9,481.1 L228.9,480.8 L229.6,480.8 L229.6,481.4 L230.3,481.4 L230.3,481.4 L231.0,481.4 L231.0,480.6 L231.7,480.6 L231.6,484.2 Z" fill="#585858" stroke="#000" stroke-width="1.0" stroke-linejoin="bevel"/>
<line x1="69.00" y1="484.20" x2="231.60" y2="484.20" stroke="#111" stroke-width="1.4" />
<line x1="69.00" y1="484.20" x2="69.00" y2="488.20" stroke="#222" stroke-width="0.9" />
<line x1="81.24" y1="484.20" x2="81.24" y2="486.40" stroke="#222" stroke-width="0.7" />
<line x1="88.39" y1="484.20" x2="88.39" y2="486.40" stroke="#222" stroke-width="0.7" />
<line x1="93.47" y1="484.20" x2="93.47" y2="486.40" stroke="#222" stroke-width="0.7" />
<line x1="97.41" y1="484.20" x2="97.41" y2="486.40" stroke="#222" stroke-width="0.7" />
<line x1="100.63" y1="484.20" x2="100.63" y2="486.40" stroke="#222" stroke-width="0.7" />
<line x1="103.35" y1="484.20" x2="103.35" y2="486.40" stroke="#222" stroke-width="0.7" />
<line x1="105.71" y1="484.20" x2="105.71" y2="486.40" stroke="#222" stroke-width="0.7" />
<line x1="107.79" y1="484.20" x2="107.79" y2="486.40" stroke="#222" stroke-width="0.7" />
<line x1="109.65" y1="484.20" x2="109.65" y2="488.20" stroke="#222" stroke-width="0.9" />
<line x1="121.89" y1="484.20" x2="121.89" y2="486.40" stroke="#222" stroke-width="0.7" />
<line x1="129.04" y1="484.20" x2="129.04" y2="486.40" stroke="#222" stroke-width="0.7" />
<line x1="134.12" y1="484.20" x2="134.12" y2="486.40" stroke="#222" stroke-width="0.7" />
<line x1="138.06" y1="484.20" x2="138.06" y2="486.40" stroke="#222" stroke-width="0.7" />
<line x1="141.28" y1="484.20" x2="141.28" y2="486.40" stroke="#222" stroke-width="0.7" />
<line x1="144.00" y1="484.20" x2="144.00" y2="486.40" stroke="#222" stroke-width="0.7" />
<line x1="146.36" y1="484.20" x2="146.36" y2="486.40" stroke="#222" stroke-width="0.7" />
<line x1="148.44" y1="484.20" x2="148.44" y2="486.40" stroke="#222" stroke-width="0.7" />
<line x1="150.30" y1="484.20" x2="150.30" y2="488.20" stroke="#222" stroke-width="0.9" />
<line x1="162.54" y1="484.20" x2="162.54" y2="486.40" stroke="#222" stroke-width="0.7" />
<line x1="169.69" y1="484.20" x2="169.69" y2="486.40" stroke="#222" stroke-width="0.7" />
<line x1="174.77" y1="484.20" x2="174.77" y2="486.40" stroke="#222" stroke-width="0.7" />
<line x1="178.71" y1="484.20" x2="178.71" y2="486.40" stroke="#222" stroke-width="0.7" />
<line x1="181.93" y1="484.20" x2="181.93" y2="486.40" stroke="#222" stroke-width="0.7" />
<line x1="184.65" y1="484.20" x2="184.65" y2="486.40" stroke="#222" stroke-width="0.7" />
<line x1="187.01" y1="484.20" x2="187.01" y2="486.40" stroke="#222" stroke-width="0.7" />
<line x1="189.09" y1="484.20" x2="189.09" y2="486.40" stroke="#222" stroke-width="0.7" />
<line x1="190.95" y1="484.20" x2="190.95" y2="488.20" stroke="#222" stroke-width="0.9" />
<line x1="203.19" y1="484.20" x2="203.19" y2="486.40" stroke="#222" stroke-width="0.7" />
<line x1="210.34" y1="484.20" x2="210.34" y2="486.40" stroke="#222" stroke-width="0.7" />
<line x1="215.42" y1="484.20" x2="215.42" y2="486.40" stroke="#222" stroke-width="0.7" />
<line x1="219.36" y1="484.20" x2="219.36" y2="486.40" stroke="#222" stroke-width="0.7" />
<line x1="222.58" y1="484.20" x2="222.58" y2="486.40" stroke="#222" stroke-width="0.7" />
<line x1="225.30" y1="484.20" x2="225.30" y2="486.40" stroke="#222" stroke-width="0.7" />
<line x1="227.66" y1="484.20" x2="227.66" y2="486.40" stroke="#222" stroke-width="0.7" />
<line x1="229.74" y1="484.20" x2="229.74" y2="486.40" stroke="#222" stroke-width="0.7" />
<line x1="231.60" y1="484.20" x2="231.60" y2="488.20" stroke="#222" stroke-width="0.9" />
<text x="68.0" y="495.5" font-size="6.4" font-family="Liberation Serif" font-weight="bold" text-anchor="middle" fill="#111">10<tspan dy="-3.4" font-size="4.8">0</tspan></text>
<text x="108.7" y="495.5" font-size="6.4" font-family="Liberation Serif" font-weight="bold" text-anchor="middle" fill="#111">10<tspan dy="-3.4" font-size="4.8">1</tspan></text>
<text x="149.3" y="495.5" font-size="6.4" font-family="Liberation Serif" font-weight="bold" text-anchor="middle" fill="#111">10<tspan dy="-3.4" font-size="4.8">2</tspan></text>
<text x="189.9" y="495.5" font-size="6.4" font-family="Liberation Serif" font-weight="bold" text-anchor="middle" fill="#111">10<tspan dy="-3.4" font-size="4.8">3</tspan></text>
<text x="230.6" y="495.5" font-size="6.4" font-family="Liberation Serif" font-weight="bold" text-anchor="middle" fill="#111">10<tspan dy="-3.4" font-size="4.8">4</tspan></text>
<line x1="69.00" y1="453.80" x2="231.60" y2="453.80" stroke="#555" stroke-width="1.0" />
<line x1="137.70" y1="447.30" x2="137.70" y2="460.80" stroke="#222" stroke-width="1.3" />
<line x1="231.60" y1="447.30" x2="231.60" y2="460.80" stroke="#666" stroke-width="1.0" />
<text x="106.8" y="462.3" font-size="6" font-family="Liberation Serif" text-anchor="middle" fill="#555">M1</text>
<text x="189.6" y="462.3" font-size="6" font-family="Liberation Serif" text-anchor="middle" fill="#555">M2</text>
<line x1="67.00" y1="428.00" x2="69.40" y2="428.00" stroke="#222" stroke-width="0.9" />
<line x1="68.00" y1="430.30" x2="69.40" y2="430.30" stroke="#222" stroke-width="0.9" />
<line x1="68.00" y1="432.60" x2="69.40" y2="432.60" stroke="#222" stroke-width="0.9" />
<line x1="68.00" y1="434.90" x2="69.40" y2="434.90" stroke="#222" stroke-width="0.9" />
<line x1="68.00" y1="437.20" x2="69.40" y2="437.20" stroke="#222" stroke-width="0.9" />
<line x1="67.00" y1="439.50" x2="69.40" y2="439.50" stroke="#222" stroke-width="0.9" />
<line x1="68.00" y1="441.80" x2="69.40" y2="441.80" stroke="#222" stroke-width="0.9" />
<line x1="68.00" y1="444.10" x2="69.40" y2="444.10" stroke="#222" stroke-width="0.9" />
<line x1="68.00" y1="446.40" x2="69.40" y2="446.40" stroke="#222" stroke-width="0.9" />
<line x1="68.00" y1="448.70" x2="69.40" y2="448.70" stroke="#222" stroke-width="0.9" />
<line x1="67.00" y1="451.00" x2="69.40" y2="451.00" stroke="#222" stroke-width="0.9" />
<line x1="68.00" y1="453.30" x2="69.40" y2="453.30" stroke="#222" stroke-width="0.9" />
<line x1="68.00" y1="455.60" x2="69.40" y2="455.60" stroke="#222" stroke-width="0.9" />
<line x1="68.00" y1="457.90" x2="69.40" y2="457.90" stroke="#222" stroke-width="0.9" />
<line x1="68.00" y1="460.20" x2="69.40" y2="460.20" stroke="#222" stroke-width="0.9" />
<line x1="67.00" y1="462.50" x2="69.40" y2="462.50" stroke="#222" stroke-width="0.9" />
<line x1="66.50" y1="428.00" x2="69.00" y2="428.00" stroke="#222" stroke-width="0.9" />
<text transform="translate(64.5,434.0) rotate(-90)" font-size="6.2" font-family="Liberation Serif" font-weight="bold" fill="#111">200</text>
<text transform="translate(64.5,485.7) rotate(-90)" font-size="6.2" font-family="Liberation Serif" font-weight="bold" fill="#111">0</text>
<text transform="translate(59.2,467.1) rotate(-90)" font-size="6.4" font-family="Liberation Serif" font-weight="bold" fill="#111">Counts</text>
<text transform="translate(130.93,427.20) scale(1.0608,1)" font-size="7.56" font-weight="bold" fill="#2a2a2a" >X&lt;XX:X</text>
<text transform="translate(138.48,504.14) scale(0.7945,1)" font-size="5.93" font-weight="bold" fill="#333" >Mac-1 APC</text>
<path d="M70.8,574.9 L71.1,574.6 L71.8,574.6 L71.8,574.0 L72.5,574.0 L72.5,574.0 L73.2,574.0 L73.2,574.7 L73.9,574.7 L73.9,573.9 L74.6,573.9 L74.6,574.7 L75.3,574.7 L75.3,574.1 L76.0,574.1 L76.0,574.5 L76.7,574.5 L76.7,573.5 L77.4,573.5 L77.4,574.5 L78.1,574.5 L78.1,574.7 L78.8,574.7 L78.8,574.2 L79.5,574.2 L79.5,573.9 L80.2,573.9 L80.2,574.2 L80.9,574.2 L80.9,574.1 L81.6,574.1 L81.6,574.1 L82.3,574.1 L82.3,574.7 L83.0,574.7 L83.0,573.5 L83.7,573.5 L83.7,573.8 L84.4,573.8 L84.4,574.5 L85.1,574.5 L85.1,573.7 L85.8,573.7 L85.8,573.7 L86.5,573.7 L86.5,574.7 L87.2,574.7 L87.2,574.0 L87.9,574.0 L87.9,574.5 L88.6,574.5 L88.6,574.5 L89.3,574.5 L89.3,574.3 L90.0,574.3 L90.0,574.3 L90.7,574.3 L90.7,574.7 L91.4,574.7 L91.4,572.1 L92.1,572.1 L92.1,574.7 L92.8,574.7 L92.8,574.5 L93.5,574.5 L93.5,573.6 L94.2,573.6 L94.2,574.3 L94.9,574.3 L94.9,574.7 L95.6,574.7 L95.6,574.4 L96.3,574.4 L96.3,574.1 L97.0,574.1 L97.0,574.5 L97.7,574.5 L97.7,574.7 L98.4,574.7 L98.4,574.5 L99.1,574.5 L99.1,574.6 L99.8,574.6 L99.8,574.7 L100.5,574.7 L100.5,574.7 L101.2,574.7 L101.2,574.4 L101.9,574.4 L101.9,573.7 L102.6,573.7 L102.6,574.6 L103.3,574.6 L103.3,573.9 L104.0,573.9 L104.0,573.9 L104.7,573.9 L104.7,573.8 L105.4,573.8 L105.4,573.4 L106.1,573.4 L106.1,574.3 L106.8,574.3 L106.8,574.1 L107.5,574.1 L107.5,574.0 L108.2,574.0 L108.2,574.0 L108.9,574.0 L108.9,574.5 L109.6,574.5 L109.6,573.5 L110.3,573.5 L110.3,573.9 L111.0,573.9 L111.0,574.3 L111.7,574.3 L111.7,574.2 L112.4,574.2 L112.4,573.8 L113.1,573.8 L113.1,573.9 L113.8,573.9 L113.8,574.7 L114.5,574.7 L114.5,574.7 L115.2,574.7 L115.2,574.2 L115.9,574.2 L115.9,574.6 L116.6,574.6 L116.6,573.8 L117.3,573.8 L117.3,573.6 L118.0,573.6 L118.0,574.2 L118.7,574.2 L118.7,574.7 L119.4,574.7 L119.4,574.1 L120.1,574.1 L120.1,574.3 L120.8,574.3 L120.8,573.2 L121.5,573.2 L121.5,574.5 L122.2,574.5 L122.2,573.6 L122.9,573.6 L122.9,573.3 L123.6,573.3 L123.6,574.2 L124.3,574.2 L124.3,574.4 L125.0,574.4 L125.0,574.2 L125.7,574.2 L125.7,573.7 L126.4,573.7 L126.4,573.7 L127.1,573.7 L127.1,573.2 L127.8,573.2 L127.8,574.2 L128.5,574.2 L128.5,573.9 L129.2,573.9 L129.2,573.3 L129.9,573.3 L129.9,574.6 L130.6,574.6 L130.6,573.9 L131.3,573.9 L131.3,572.8 L132.0,572.8 L132.0,574.5 L132.7,574.5 L132.7,574.4 L133.4,574.4 L133.4,574.2 L134.1,574.2 L134.1,574.3 L134.8,574.3 L134.8,573.9 L135.5,573.9 L135.5,573.4 L136.2,573.4 L136.2,574.7 L136.9,574.7 L136.9,574.4 L137.6,574.4 L137.6,573.9 L138.3,573.9 L138.3,573.7 L139.0,573.7 L139.0,573.1 L139.7,573.1 L139.7,574.1 L140.4,574.1 L140.4,573.2 L141.1,573.2 L141.1,573.5 L141.8,573.5 L141.8,573.9 L142.5,573.9 L142.5,573.4 L143.2,573.4 L143.2,571.0 L143.9,571.0 L143.9,574.2 L144.6,574.2 L144.6,573.7 L145.3,573.7 L145.3,574.1 L146.0,574.1 L146.0,573.5 L146.7,573.5 L146.7,573.8 L147.4,573.8 L147.4,574.1 L148.1,574.1 L148.1,573.6 L148.8,573.6 L148.8,574.2 L149.5,574.2 L149.5,573.5 L150.2,573.5 L150.2,573.5 L150.9,573.5 L150.9,573.5 L151.6,573.5 L151.6,573.4 L152.3,573.4 L152.3,573.8 L153.0,573.8 L153.0,574.3 L153.7,574.3 L153.7,573.5 L154.4,573.5 L154.4,572.8 L155.1,572.8 L155.1,572.9 L155.8,572.9 L155.8,573.6 L156.5,573.6 L156.5,572.4 L157.2,572.4 L157.2,573.8 L157.9,573.8 L157.9,572.1 L158.6,572.1 L158.6,573.1 L159.3,573.1 L159.3,573.1 L160.0,573.1 L160.0,572.4 L160.7,572.4 L160.7,572.2 L161.4,572.2 L161.4,572.7 L162.1,572.7 L162.1,572.7 L162.8,572.7 L162.8,572.1 L163.5,572.1 L163.5,573.1 L164.2,573.1 L164.2,571.6 L164.9,571.6 L164.9,572.2 L165.6,572.2 L165.6,572.5 L166.3,572.5 L166.3,572.8 L167.0,572.8 L167.0,571.6 L167.7,571.6 L167.7,572.5 L168.4,572.5 L168.4,572.2 L169.1,572.2 L169.1,571.5 L169.8,571.5 L169.8,572.1 L170.5,572.1 L170.5,570.2 L171.2,570.2 L171.2,570.2 L171.9,570.2 L171.9,570.8 L172.6,570.8 L172.6,570.9 L173.3,570.9 L173.3,571.4 L174.0,571.4 L174.0,569.8 L174.7,569.8 L174.7,570.4 L175.4,570.4 L175.4,569.4 L176.1,569.4 L176.1,569.6 L176.8,569.6 L176.8,570.6 L177.5,570.6 L177.5,568.2 L178.2,568.2 L178.2,569.3 L178.9,569.3 L178.9,569.2 L179.6,569.2 L179.6,567.9 L180.3,567.9 L180.3,568.8 L181.0,568.8 L181.0,567.7 L181.7,567.7 L181.7,568.2 L182.4,568.2 L182.4,567.2 L183.1,567.2 L183.1,565.1 L183.8,565.1 L183.8,565.1 L184.5,565.1 L184.5,565.2 L185.2,565.2 L185.2,565.4 L185.9,565.4 L185.9,567.1 L186.6,567.1 L186.6,564.6 L187.3,564.6 L187.3,565.1 L188.0,565.1 L188.0,564.5 L188.7,564.5 L188.7,565.2 L189.4,565.2 L189.4,565.8 L190.1,565.8 L190.1,567.0 L190.8,567.0 L190.8,565.7 L191.5,565.7 L191.5,564.1 L192.2,564.1 L192.2,562.8 L192.9,562.8 L192.9,566.1 L193.6,566.1 L193.6,564.3 L194.3,564.3 L194.3,565.4 L195.0,565.4 L195.0,563.5 L195.7,563.5 L195.7,564.5 L196.4,564.5 L196.4,565.6 L197.1,565.6 L197.1,565.5 L197.8,565.5 L197.8,566.1 L198.5,566.1 L198.5,566.4 L199.2,566.4 L199.2,567.0 L199.9,567.0 L199.9,565.4 L200.6,565.4 L200.6,565.0 L201.3,565.0 L201.3,565.8 L202.0,565.8 L202.0,564.7 L202.7,564.7 L202.7,566.3 L203.4,566.3 L203.4,564.7 L204.1,564.7 L204.1,565.1 L204.8,565.1 L204.8,564.9 L205.5,564.9 L205.5,565.1 L206.2,565.1 L206.2,564.2 L206.9,564.2 L206.9,565.2 L207.6,565.2 L207.6,565.2 L208.3,565.2 L208.3,565.2 L209.0,565.2 L209.0,565.4 L209.7,565.4 L209.7,565.8 L210.4,565.8 L210.4,566.8 L211.1,566.8 L211.1,565.5 L211.8,565.5 L211.8,566.0 L212.5,566.0 L212.5,566.9 L213.2,566.9 L213.2,567.9 L213.9,567.9 L213.9,567.6 L214.6,567.6 L214.6,568.1 L215.3,568.1 L215.3,567.0 L216.0,567.0 L216.0,568.2 L216.7,568.2 L216.7,568.2 L217.4,568.2 L217.4,568.9 L218.1,568.9 L218.1,569.1 L218.8,569.1 L218.8,569.6 L219.5,569.6 L219.5,566.8 L220.2,566.8 L220.2,568.3 L220.9,568.3 L220.9,569.4 L221.6,569.4 L221.6,569.2 L222.3,569.2 L222.3,569.7 L223.0,569.7 L223.0,569.9 L223.7,569.9 L223.7,570.1 L224.4,570.1 L224.4,570.5 L225.1,570.5 L225.1,569.8 L225.8,569.8 L225.8,570.3 L226.5,570.3 L226.5,569.0 L227.2,569.0 L227.2,568.9 L227.9,568.9 L227.9,570.0 L228.6,570.0 L228.6,571.0 L229.3,571.0 L229.3,569.9 L230.0,569.9 L230.0,571.3 L230.7,571.3 L230.7,571.2 L231.4,571.2 L231.4,572.7 L232.1,572.7 L231.6,574.9 Z" fill="#585858" stroke="#000" stroke-width="1.0" stroke-linejoin="bevel"/>
<line x1="70.80" y1="574.90" x2="231.60" y2="574.90" stroke="#111" stroke-width="1.4" />
<line x1="70.80" y1="574.90" x2="70.80" y2="578.90" stroke="#222" stroke-width="0.9" />
<line x1="82.90" y1="574.90" x2="82.90" y2="577.10" stroke="#222" stroke-width="0.7" />
<line x1="89.98" y1="574.90" x2="89.98" y2="577.10" stroke="#222" stroke-width="0.7" />
<line x1="95.00" y1="574.90" x2="95.00" y2="577.10" stroke="#222" stroke-width="0.7" />
<line x1="98.90" y1="574.90" x2="98.90" y2="577.10" stroke="#222" stroke-width="0.7" />
<line x1="102.08" y1="574.90" x2="102.08" y2="577.10" stroke="#222" stroke-width="0.7" />
<line x1="104.77" y1="574.90" x2="104.77" y2="577.10" stroke="#222" stroke-width="0.7" />
<line x1="107.10" y1="574.90" x2="107.10" y2="577.10" stroke="#222" stroke-width="0.7" />
<line x1="109.16" y1="574.90" x2="109.16" y2="577.10" stroke="#222" stroke-width="0.7" />
<line x1="111.00" y1="574.90" x2="111.00" y2="578.90" stroke="#222" stroke-width="0.9" />
<line x1="123.10" y1="574.90" x2="123.10" y2="577.10" stroke="#222" stroke-width="0.7" />
<line x1="130.18" y1="574.90" x2="130.18" y2="577.10" stroke="#222" stroke-width="0.7" />
<line x1="135.20" y1="574.90" x2="135.20" y2="577.10" stroke="#222" stroke-width="0.7" />
<line x1="139.10" y1="574.90" x2="139.10" y2="577.10" stroke="#222" stroke-width="0.7" />
<line x1="142.28" y1="574.90" x2="142.28" y2="577.10" stroke="#222" stroke-width="0.7" />
<line x1="144.97" y1="574.90" x2="144.97" y2="577.10" stroke="#222" stroke-width="0.7" />
<line x1="147.30" y1="574.90" x2="147.30" y2="577.10" stroke="#222" stroke-width="0.7" />
<line x1="149.36" y1="574.90" x2="149.36" y2="577.10" stroke="#222" stroke-width="0.7" />
<line x1="151.20" y1="574.90" x2="151.20" y2="578.90" stroke="#222" stroke-width="0.9" />
<line x1="163.30" y1="574.90" x2="163.30" y2="577.10" stroke="#222" stroke-width="0.7" />
<line x1="170.38" y1="574.90" x2="170.38" y2="577.10" stroke="#222" stroke-width="0.7" />
<line x1="175.40" y1="574.90" x2="175.40" y2="577.10" stroke="#222" stroke-width="0.7" />
<line x1="179.30" y1="574.90" x2="179.30" y2="577.10" stroke="#222" stroke-width="0.7" />
<line x1="182.48" y1="574.90" x2="182.48" y2="577.10" stroke="#222" stroke-width="0.7" />
<line x1="185.17" y1="574.90" x2="185.17" y2="577.10" stroke="#222" stroke-width="0.7" />
<line x1="187.50" y1="574.90" x2="187.50" y2="577.10" stroke="#222" stroke-width="0.7" />
<line x1="189.56" y1="574.90" x2="189.56" y2="577.10" stroke="#222" stroke-width="0.7" />
<line x1="191.40" y1="574.90" x2="191.40" y2="578.90" stroke="#222" stroke-width="0.9" />
<line x1="203.50" y1="574.90" x2="203.50" y2="577.10" stroke="#222" stroke-width="0.7" />
<line x1="210.58" y1="574.90" x2="210.58" y2="577.10" stroke="#222" stroke-width="0.7" />
<line x1="215.60" y1="574.90" x2="215.60" y2="577.10" stroke="#222" stroke-width="0.7" />
<line x1="219.50" y1="574.90" x2="219.50" y2="577.10" stroke="#222" stroke-width="0.7" />
<line x1="222.68" y1="574.90" x2="222.68" y2="577.10" stroke="#222" stroke-width="0.7" />
<line x1="225.37" y1="574.90" x2="225.37" y2="577.10" stroke="#222" stroke-width="0.7" />
<line x1="227.70" y1="574.90" x2="227.70" y2="577.10" stroke="#222" stroke-width="0.7" />
<line x1="229.76" y1="574.90" x2="229.76" y2="577.10" stroke="#222" stroke-width="0.7" />
<line x1="231.60" y1="574.90" x2="231.60" y2="578.90" stroke="#222" stroke-width="0.9" />
<text x="69.8" y="586.2" font-size="6.4" font-family="Liberation Serif" font-weight="bold" text-anchor="middle" fill="#111">10<tspan dy="-3.4" font-size="4.8">0</tspan></text>
<text x="110.0" y="586.2" font-size="6.4" font-family="Liberation Serif" font-weight="bold" text-anchor="middle" fill="#111">10<tspan dy="-3.4" font-size="4.8">1</tspan></text>
<text x="150.2" y="586.2" font-size="6.4" font-family="Liberation Serif" font-weight="bold" text-anchor="middle" fill="#111">10<tspan dy="-3.4" font-size="4.8">2</tspan></text>
<text x="190.4" y="586.2" font-size="6.4" font-family="Liberation Serif" font-weight="bold" text-anchor="middle" fill="#111">10<tspan dy="-3.4" font-size="4.8">3</tspan></text>
<text x="230.6" y="586.2" font-size="6.4" font-family="Liberation Serif" font-weight="bold" text-anchor="middle" fill="#111">10<tspan dy="-3.4" font-size="4.8">4</tspan></text>
<line x1="70.80" y1="545.70" x2="231.60" y2="545.70" stroke="#555" stroke-width="1.0" />
<line x1="139.50" y1="539.20" x2="139.50" y2="552.70" stroke="#222" stroke-width="1.3" />
<line x1="231.60" y1="539.20" x2="231.60" y2="552.70" stroke="#666" stroke-width="1.0" />
<text x="108.7" y="554.2" font-size="6" font-family="Liberation Serif" text-anchor="middle" fill="#555">M1</text>
<text x="190.6" y="554.2" font-size="6" font-family="Liberation Serif" text-anchor="middle" fill="#555">M2</text>
<line x1="68.80" y1="520.00" x2="71.20" y2="520.00" stroke="#222" stroke-width="0.9" />
<line x1="69.80" y1="522.30" x2="71.20" y2="522.30" stroke="#222" stroke-width="0.9" />
<line x1="69.80" y1="524.60" x2="71.20" y2="524.60" stroke="#222" stroke-width="0.9" />
<line x1="69.80" y1="526.90" x2="71.20" y2="526.90" stroke="#222" stroke-width="0.9" />
<line x1="69.80" y1="529.20" x2="71.20" y2="529.20" stroke="#222" stroke-width="0.9" />
<line x1="68.80" y1="531.50" x2="71.20" y2="531.50" stroke="#222" stroke-width="0.9" />
<line x1="69.80" y1="533.80" x2="71.20" y2="533.80" stroke="#222" stroke-width="0.9" />
<line x1="69.80" y1="536.10" x2="71.20" y2="536.10" stroke="#222" stroke-width="0.9" />
<line x1="69.80" y1="538.40" x2="71.20" y2="538.40" stroke="#222" stroke-width="0.9" />
<line x1="69.80" y1="540.70" x2="71.20" y2="540.70" stroke="#222" stroke-width="0.9" />
<line x1="68.80" y1="543.00" x2="71.20" y2="543.00" stroke="#222" stroke-width="0.9" />
<line x1="69.80" y1="545.30" x2="71.20" y2="545.30" stroke="#222" stroke-width="0.9" />
<line x1="69.80" y1="547.60" x2="71.20" y2="547.60" stroke="#222" stroke-width="0.9" />
<line x1="69.80" y1="549.90" x2="71.20" y2="549.90" stroke="#222" stroke-width="0.9" />
<line x1="69.80" y1="552.20" x2="71.20" y2="552.20" stroke="#222" stroke-width="0.9" />
<line x1="68.80" y1="554.50" x2="71.20" y2="554.50" stroke="#222" stroke-width="0.9" />
<line x1="68.30" y1="520.00" x2="70.80" y2="520.00" stroke="#222" stroke-width="0.9" />
<text transform="translate(66.3,526.0) rotate(-90)" font-size="6.2" font-family="Liberation Serif" font-weight="bold" fill="#111">200</text>
<text transform="translate(66.3,576.4) rotate(-90)" font-size="6.2" font-family="Liberation Serif" font-weight="bold" fill="#111">0</text>
<text transform="translate(61.0,558.5) rotate(-90)" font-size="6.4" font-family="Liberation Serif" font-weight="bold" fill="#111">Counts</text>
<text transform="translate(130.93,518.30) scale(0.9398,1)" font-size="7.99" font-weight="bold" fill="#2a2a2a" >X&lt;XX:X</text>
<text transform="translate(139.38,594.84) scale(0.7945,1)" font-size="5.93" font-weight="bold" fill="#333" >Mac-1 APC</text>
<path d="M265.0,110.8 L265.3,101.2 L266.0,101.2 L266.0,100.6 L266.7,100.6 L266.7,98.8 L267.4,98.8 L267.4,99.4 L268.1,99.4 L268.1,100.1 L268.8,100.1 L268.8,99.3 L269.5,99.3 L269.5,99.3 L270.2,99.3 L270.2,98.1 L270.9,98.1 L270.9,98.9 L271.6,98.9 L271.6,98.4 L272.3,98.4 L272.3,97.4 L273.0,97.4 L273.0,97.0 L273.7,97.0 L273.7,95.6 L274.4,95.6 L274.4,97.1 L275.1,97.1 L275.1,97.3 L275.8,97.3 L275.8,97.2 L276.5,97.2 L276.5,97.5 L277.2,97.5 L277.2,97.6 L277.9,97.6 L277.9,98.5 L278.6,98.5 L278.6,98.0 L279.3,98.0 L279.3,100.1 L280.0,100.1 L280.0,99.4 L280.7,99.4 L280.7,100.0 L281.4,100.0 L281.4,99.7 L282.1,99.7 L282.1,99.6 L282.8,99.6 L282.8,100.2 L283.5,100.2 L283.5,100.5 L284.2,100.5 L284.2,98.4 L284.9,98.4 L284.9,99.0 L285.6,99.0 L285.6,102.3 L286.3,102.3 L286.3,100.4 L287.0,100.4 L287.0,103.2 L287.7,103.2 L287.7,99.8 L288.4,99.8 L288.4,102.3 L289.1,102.3 L289.1,102.2 L289.8,102.2 L289.8,101.9 L290.5,101.9 L290.5,103.3 L291.2,103.3 L291.2,102.9 L291.9,102.9 L291.9,103.3 L292.6,103.3 L292.6,101.7 L293.3,101.7 L293.3,104.8 L294.0,104.8 L294.0,101.5 L294.7,101.5 L294.7,103.5 L295.4,103.5 L295.4,103.7 L296.1,103.7 L296.1,104.2 L296.8,104.2 L296.8,103.9 L297.5,103.9 L297.5,103.6 L298.2,103.6 L298.2,104.1 L298.9,104.1 L298.9,103.3 L299.6,103.3 L299.6,102.2 L300.3,102.2 L300.3,104.3 L301.0,104.3 L301.0,104.3 L301.7,104.3 L301.7,105.0 L302.4,105.0 L302.4,105.0 L303.1,105.0 L303.1,104.5 L303.8,104.5 L303.8,104.7 L304.5,104.7 L304.5,105.3 L305.2,105.3 L305.2,106.4 L305.9,106.4 L305.9,106.2 L306.6,106.2 L306.6,106.0 L307.3,106.0 L307.3,106.5 L308.0,106.5 L308.0,106.8 L308.7,106.8 L308.7,106.1 L309.4,106.1 L309.4,106.4 L310.1,106.4 L310.1,106.8 L310.8,106.8 L310.8,107.6 L311.5,107.6 L311.5,108.1 L312.2,108.1 L312.2,105.9 L312.9,105.9 L312.9,107.7 L313.6,107.7 L313.6,108.0 L314.3,108.0 L314.3,108.2 L315.0,108.2 L315.0,108.6 L315.7,108.6 L315.7,109.5 L316.4,109.5 L316.4,108.7 L317.1,108.7 L317.1,109.8 L317.8,109.8 L317.8,109.4 L318.5,109.4 L318.5,109.0 L319.2,109.0 L319.2,109.7 L319.9,109.7 L319.9,109.6 L320.6,109.6 L320.6,110.4 L321.3,110.4 L321.3,109.5 L322.0,109.5 L322.0,110.2 L322.7,110.2 L322.7,110.0 L323.4,110.0 L323.4,109.4 L324.1,109.4 L324.1,109.6 L324.8,109.6 L324.8,109.1 L325.5,109.1 L325.5,110.6 L326.2,110.6 L326.2,109.5 L326.9,109.5 L326.9,110.2 L327.6,110.2 L327.6,110.3 L328.3,110.3 L328.3,110.2 L329.0,110.2 L329.0,110.3 L329.7,110.3 L329.7,110.4 L330.4,110.4 L330.4,110.3 L331.1,110.3 L331.1,109.9 L331.8,109.9 L331.8,110.3 L332.5,110.3 L332.5,110.3 L333.2,110.3 L333.2,110.3 L333.9,110.3 L333.9,110.3 L334.6,110.3 L334.6,109.8 L335.3,109.8 L335.3,110.3 L336.0,110.3 L336.0,110.3 L336.7,110.3 L336.7,110.3 L337.4,110.3 L337.4,110.3 L338.1,110.3 L338.1,110.3 L338.8,110.3 L338.8,110.3 L339.5,110.3 L339.5,110.3 L340.2,110.3 L340.2,110.0 L340.9,110.0 L340.9,110.0 L341.6,110.0 L341.6,110.3 L342.3,110.3 L342.3,110.3 L343.0,110.3 L343.0,110.3 L343.7,110.3 L343.7,110.3 L344.4,110.3 L344.4,110.5 L345.1,110.5 L345.1,110.3 L345.8,110.3 L345.8,110.0 L346.5,110.0 L346.5,110.3 L347.2,110.3 L347.2,110.3 L347.9,110.3 L347.9,109.5 L348.6,109.5 L348.6,110.3 L349.3,110.3 L349.3,109.6 L350.0,109.6 L350.0,110.3 L350.7,110.3 L350.7,110.4 L351.4,110.4 L351.4,110.6 L352.1,110.6 L352.1,109.5 L352.8,109.5 L352.8,109.7 L353.5,109.7 L353.5,110.4 L354.2,110.4 L354.2,110.4 L354.9,110.4 L354.9,110.4 L355.6,110.4 L355.6,110.4 L356.3,110.4 L356.3,110.4 L357.0,110.4 L357.0,110.0 L357.7,110.0 L357.7,110.3 L358.4,110.3 L358.4,110.4 L359.1,110.4 L359.1,110.0 L359.8,110.0 L359.8,110.4 L360.5,110.4 L360.5,109.6 L361.2,109.6 L361.2,110.4 L361.9,110.4 L361.9,110.0 L362.6,110.0 L362.6,110.4 L363.3,110.4 L363.3,110.4 L364.0,110.4 L364.0,110.4 L364.7,110.4 L364.7,110.4 L365.4,110.4 L365.4,109.7 L366.1,109.7 L366.1,109.7 L366.8,109.7 L366.8,110.1 L367.5,110.1 L367.5,110.4 L368.2,110.4 L368.2,110.4 L368.9,110.4 L368.9,110.4 L369.6,110.4 L369.6,110.0 L370.3,110.0 L370.3,109.7 L371.0,109.7 L371.0,110.4 L371.7,110.4 L371.7,110.4 L372.4,110.4 L372.4,110.1 L373.1,110.1 L373.1,110.6 L373.8,110.6 L373.8,110.4 L374.5,110.4 L374.5,110.4 L375.2,110.4 L375.2,110.4 L375.9,110.4 L375.9,110.0 L376.6,110.0 L376.6,110.4 L377.3,110.4 L377.3,110.4 L378.0,110.4 L378.0,110.4 L378.7,110.4 L378.7,110.4 L379.4,110.4 L379.4,110.6 L380.1,110.6 L380.1,110.1 L380.8,110.1 L380.8,110.2 L381.5,110.2 L381.5,109.6 L382.2,109.6 L382.2,110.4 L382.9,110.4 L382.9,110.4 L383.6,110.4 L383.6,109.6 L384.3,109.6 L384.3,110.4 L385.0,110.4 L385.0,110.3 L385.7,110.3 L385.7,110.2 L386.4,110.2 L386.4,110.4 L387.1,110.4 L387.1,110.0 L387.8,110.0 L387.8,110.4 L388.5,110.4 L388.5,110.1 L389.2,110.1 L389.2,110.0 L389.9,110.0 L389.9,110.4 L390.6,110.4 L390.6,110.3 L391.3,110.3 L391.3,110.4 L392.0,110.4 L392.0,110.4 L392.7,110.4 L392.7,110.4 L393.4,110.4 L393.4,110.4 L394.1,110.4 L394.1,110.4 L394.8,110.4 L394.8,110.5 L395.5,110.5 L395.5,110.5 L396.2,110.5 L396.2,109.6 L396.9,109.6 L396.9,110.5 L397.6,110.5 L397.6,110.5 L398.3,110.5 L398.3,110.5 L399.0,110.5 L399.0,109.9 L399.7,109.9 L399.7,110.5 L400.4,110.5 L400.4,110.0 L401.1,110.0 L401.1,110.0 L401.8,110.0 L401.8,110.5 L402.5,110.5 L402.5,110.5 L403.2,110.5 L403.2,109.9 L403.9,109.9 L403.9,110.1 L404.6,110.1 L404.6,110.5 L405.3,110.5 L405.3,109.8 L406.0,109.8 L406.0,110.0 L406.7,110.0 L406.7,110.5 L407.4,110.5 L407.4,110.5 L408.1,110.5 L408.1,110.5 L408.8,110.5 L408.8,110.5 L409.5,110.5 L409.5,110.4 L410.2,110.4 L410.2,110.5 L410.9,110.5 L410.9,110.5 L411.6,110.5 L411.6,110.5 L412.3,110.5 L412.3,110.0 L413.0,110.0 L413.0,110.5 L413.7,110.5 L413.7,110.4 L414.4,110.4 L414.4,110.5 L415.1,110.5 L415.1,109.6 L415.8,109.6 L415.8,110.5 L416.5,110.5 L416.5,110.5 L417.2,110.5 L417.0,110.8 Z" fill="#585858" stroke="#000" stroke-width="1.0" stroke-linejoin="bevel"/>
<line x1="265.00" y1="110.80" x2="417.00" y2="110.80" stroke="#111" stroke-width="1.4" />
<line x1="265.00" y1="110.80" x2="265.00" y2="114.80" stroke="#222" stroke-width="0.9" />
<line x1="276.44" y1="110.80" x2="276.44" y2="113.00" stroke="#222" stroke-width="0.7" />
<line x1="283.13" y1="110.80" x2="283.13" y2="113.00" stroke="#222" stroke-width="0.7" />
<line x1="287.88" y1="110.80" x2="287.88" y2="113.00" stroke="#222" stroke-width="0.7" />
<line x1="291.56" y1="110.80" x2="291.56" y2="113.00" stroke="#222" stroke-width="0.7" />
<line x1="294.57" y1="110.80" x2="294.57" y2="113.00" stroke="#222" stroke-width="0.7" />
<line x1="297.11" y1="110.80" x2="297.11" y2="113.00" stroke="#222" stroke-width="0.7" />
<line x1="299.32" y1="110.80" x2="299.32" y2="113.00" stroke="#222" stroke-width="0.7" />
<line x1="301.26" y1="110.80" x2="301.26" y2="113.00" stroke="#222" stroke-width="0.7" />
<line x1="303.00" y1="110.80" x2="303.00" y2="114.80" stroke="#222" stroke-width="0.9" />
<line x1="314.44" y1="110.80" x2="314.44" y2="113.00" stroke="#222" stroke-width="0.7" />
<line x1="321.13" y1="110.80" x2="321.13" y2="113.00" stroke="#222" stroke-width="0.7" />
<line x1="325.88" y1="110.80" x2="325.88" y2="113.00" stroke="#222" stroke-width="0.7" />
<line x1="329.56" y1="110.80" x2="329.56" y2="113.00" stroke="#222" stroke-width="0.7" />
<line x1="332.57" y1="110.80" x2="332.57" y2="113.00" stroke="#222" stroke-width="0.7" />
<line x1="335.11" y1="110.80" x2="335.11" y2="113.00" stroke="#222" stroke-width="0.7" />
<line x1="337.32" y1="110.80" x2="337.32" y2="113.00" stroke="#222" stroke-width="0.7" />
<line x1="339.26" y1="110.80" x2="339.26" y2="113.00" stroke="#222" stroke-width="0.7" />
<line x1="341.00" y1="110.80" x2="341.00" y2="114.80" stroke="#222" stroke-width="0.9" />
<line x1="352.44" y1="110.80" x2="352.44" y2="113.00" stroke="#222" stroke-width="0.7" />
<line x1="359.13" y1="110.80" x2="359.13" y2="113.00" stroke="#222" stroke-width="0.7" />
<line x1="363.88" y1="110.80" x2="363.88" y2="113.00" stroke="#222" stroke-width="0.7" />
<line x1="367.56" y1="110.80" x2="367.56" y2="113.00" stroke="#222" stroke-width="0.7" />
<line x1="370.57" y1="110.80" x2="370.57" y2="113.00" stroke="#222" stroke-width="0.7" />
<line x1="373.11" y1="110.80" x2="373.11" y2="113.00" stroke="#222" stroke-width="0.7" />
<line x1="375.32" y1="110.80" x2="375.32" y2="113.00" stroke="#222" stroke-width="0.7" />
<line x1="377.26" y1="110.80" x2="377.26" y2="113.00" stroke="#222" stroke-width="0.7" />
<line x1="379.00" y1="110.80" x2="379.00" y2="114.80" stroke="#222" stroke-width="0.9" />
<line x1="390.44" y1="110.80" x2="390.44" y2="113.00" stroke="#222" stroke-width="0.7" />
<line x1="397.13" y1="110.80" x2="397.13" y2="113.00" stroke="#222" stroke-width="0.7" />
<line x1="401.88" y1="110.80" x2="401.88" y2="113.00" stroke="#222" stroke-width="0.7" />
<line x1="405.56" y1="110.80" x2="405.56" y2="113.00" stroke="#222" stroke-width="0.7" />
<line x1="408.57" y1="110.80" x2="408.57" y2="113.00" stroke="#222" stroke-width="0.7" />
<line x1="411.11" y1="110.80" x2="411.11" y2="113.00" stroke="#222" stroke-width="0.7" />
<line x1="413.32" y1="110.80" x2="413.32" y2="113.00" stroke="#222" stroke-width="0.7" />
<line x1="415.26" y1="110.80" x2="415.26" y2="113.00" stroke="#222" stroke-width="0.7" />
<line x1="417.00" y1="110.80" x2="417.00" y2="114.80" stroke="#222" stroke-width="0.9" />
<text x="264.0" y="122.1" font-size="6.4" font-family="Liberation Serif" font-weight="bold" text-anchor="middle" fill="#111">10<tspan dy="-3.4" font-size="4.8">0</tspan></text>
<text x="302.0" y="122.1" font-size="6.4" font-family="Liberation Serif" font-weight="bold" text-anchor="middle" fill="#111">10<tspan dy="-3.4" font-size="4.8">1</tspan></text>
<text x="340.0" y="122.1" font-size="6.4" font-family="Liberation Serif" font-weight="bold" text-anchor="middle" fill="#111">10<tspan dy="-3.4" font-size="4.8">2</tspan></text>
<text x="378.0" y="122.1" font-size="6.4" font-family="Liberation Serif" font-weight="bold" text-anchor="middle" fill="#111">10<tspan dy="-3.4" font-size="4.8">3</tspan></text>
<text x="416.0" y="122.1" font-size="6.4" font-family="Liberation Serif" font-weight="bold" text-anchor="middle" fill="#111">10<tspan dy="-3.4" font-size="4.8">4</tspan></text>
<line x1="265.00" y1="74.90" x2="417.00" y2="74.90" stroke="#555" stroke-width="1.0" />
<line x1="329.60" y1="68.40" x2="329.60" y2="81.90" stroke="#222" stroke-width="1.3" />
<line x1="417.00" y1="68.40" x2="417.00" y2="81.90" stroke="#666" stroke-width="1.0" />
<text x="267.0" y="60.9" font-size="6" font-family="Liberation Serif" fill="#777">M1</text>
<text x="331.1" y="60.9" font-size="6" font-family="Liberation Serif" fill="#777">M2</text>
<line x1="265.00" y1="43.00" x2="265.00" y2="111.00" stroke="#111" stroke-width="1.4" />
<line x1="263.40" y1="44.50" x2="265.00" y2="44.50" stroke="#333" stroke-width="0.7" />
<line x1="263.40" y1="47.70" x2="265.00" y2="47.70" stroke="#333" stroke-width="0.7" />
<line x1="263.40" y1="50.90" x2="265.00" y2="50.90" stroke="#333" stroke-width="0.7" />
<line x1="263.40" y1="54.10" x2="265.00" y2="54.10" stroke="#333" stroke-width="0.7" />
<line x1="263.40" y1="57.30" x2="265.00" y2="57.30" stroke="#333" stroke-width="0.7" />
<line x1="263.40" y1="60.50" x2="265.00" y2="60.50" stroke="#333" stroke-width="0.7" />
<line x1="263.40" y1="63.70" x2="265.00" y2="63.70" stroke="#333" stroke-width="0.7" />
<line x1="263.40" y1="66.90" x2="265.00" y2="66.90" stroke="#333" stroke-width="0.7" />
<line x1="263.40" y1="70.10" x2="265.00" y2="70.10" stroke="#333" stroke-width="0.7" />
<line x1="263.40" y1="73.30" x2="265.00" y2="73.30" stroke="#333" stroke-width="0.7" />
<line x1="263.40" y1="76.50" x2="265.00" y2="76.50" stroke="#333" stroke-width="0.7" />
<line x1="263.40" y1="79.70" x2="265.00" y2="79.70" stroke="#333" stroke-width="0.7" />
<line x1="263.40" y1="82.90" x2="265.00" y2="82.90" stroke="#333" stroke-width="0.7" />
<line x1="263.40" y1="86.10" x2="265.00" y2="86.10" stroke="#333" stroke-width="0.7" />
<line x1="263.40" y1="89.30" x2="265.00" y2="89.30" stroke="#333" stroke-width="0.7" />
<line x1="263.40" y1="92.50" x2="265.00" y2="92.50" stroke="#333" stroke-width="0.7" />
<line x1="263.40" y1="95.70" x2="265.00" y2="95.70" stroke="#333" stroke-width="0.7" />
<line x1="263.40" y1="98.90" x2="265.00" y2="98.90" stroke="#333" stroke-width="0.7" />
<line x1="263.40" y1="102.10" x2="265.00" y2="102.10" stroke="#333" stroke-width="0.7" />
<line x1="263.40" y1="105.30" x2="265.00" y2="105.30" stroke="#333" stroke-width="0.7" />
<line x1="263.40" y1="108.50" x2="265.00" y2="108.50" stroke="#333" stroke-width="0.7" />
<line x1="262.50" y1="43.00" x2="265.00" y2="43.00" stroke="#222" stroke-width="0.9" />
<text transform="translate(260.5,49.0) rotate(-90)" font-size="6.2" font-family="Liberation Serif" font-weight="bold" fill="#111">200</text>
<text transform="translate(260.5,112.3) rotate(-90)" font-size="6.2" font-family="Liberation Serif" font-weight="bold" fill="#111">0</text>
<text transform="translate(255.2,87.9) rotate(-90)" font-size="6.4" font-family="Liberation Serif" font-weight="bold" fill="#111">Counts</text>
<text transform="translate(324.50,37.93) scale(0.8210,1)" font-size="7.31" font-weight="bold" fill="#2a2a2a" >IsoTYPE</text>
<text transform="translate(329.10,130.69) scale(1.0478,1)" font-size="5.64" font-weight="bold" fill="#333" >F4/80 PE</text>
<path d="M268.8,210.4 L269.1,208.6 L269.8,208.6 L269.8,209.8 L270.5,209.8 L270.5,209.4 L271.2,209.4 L271.2,209.1 L271.9,209.1 L271.9,209.8 L272.6,209.8 L272.6,208.9 L273.3,208.9 L273.3,208.8 L274.0,208.8 L274.0,209.3 L274.7,209.3 L274.7,209.3 L275.4,209.3 L275.4,209.5 L276.1,209.5 L276.1,209.4 L276.8,209.4 L276.8,207.8 L277.5,207.8 L277.5,209.4 L278.2,209.4 L278.2,209.1 L278.9,209.1 L278.9,208.7 L279.6,208.7 L279.6,207.7 L280.3,207.7 L280.3,208.9 L281.0,208.9 L281.0,208.6 L281.7,208.6 L281.7,208.4 L282.4,208.4 L282.4,207.8 L283.1,207.8 L283.1,205.2 L283.8,205.2 L283.8,208.5 L284.5,208.5 L284.5,208.3 L285.2,208.3 L285.2,207.4 L285.9,207.4 L285.9,207.2 L286.6,207.2 L286.6,208.2 L287.3,208.2 L287.3,206.6 L288.0,206.6 L288.0,206.8 L288.7,206.8 L288.7,205.0 L289.4,205.0 L289.4,206.8 L290.1,206.8 L290.1,206.0 L290.8,206.0 L290.8,204.7 L291.5,204.7 L291.5,206.8 L292.2,206.8 L292.2,206.7 L292.9,206.7 L292.9,205.5 L293.6,205.5 L293.6,206.8 L294.3,206.8 L294.3,205.3 L295.0,205.3 L295.0,207.1 L295.7,207.1 L295.7,206.4 L296.4,206.4 L296.4,205.9 L297.1,205.9 L297.1,203.5 L297.8,203.5 L297.8,206.1 L298.5,206.1 L298.5,206.4 L299.2,206.4 L299.2,205.7 L299.9,205.7 L299.9,206.5 L300.6,206.5 L300.6,205.9 L301.3,205.9 L301.3,205.6 L302.0,205.6 L302.0,205.1 L302.7,205.1 L302.7,204.7 L303.4,204.7 L303.4,204.8 L304.1,204.8 L304.1,206.5 L304.8,206.5 L304.8,205.5 L305.5,205.5 L305.5,204.5 L306.2,204.5 L306.2,204.8 L306.9,204.8 L306.9,204.6 L307.6,204.6 L307.6,204.4 L308.3,204.4 L308.3,205.0 L309.0,205.0 L309.0,204.7 L309.7,204.7 L309.7,205.1 L310.4,205.1 L310.4,205.0 L311.1,205.0 L311.1,200.6 L311.8,200.6 L311.8,204.5 L312.5,204.5 L312.5,204.0 L313.2,204.0 L313.2,204.3 L313.9,204.3 L313.9,203.6 L314.6,203.6 L314.6,203.3 L315.3,203.3 L315.3,203.6 L316.0,203.6 L316.0,202.5 L316.7,202.5 L316.7,201.1 L317.4,201.1 L317.4,203.2 L318.1,203.2 L318.1,202.4 L318.8,202.4 L318.8,204.1 L319.5,204.1 L319.5,203.7 L320.2,203.7 L320.2,202.8 L320.9,202.8 L320.9,202.8 L321.6,202.8 L321.6,202.3 L322.3,202.3 L322.3,202.4 L323.0,202.4 L323.0,201.2 L323.7,201.2 L323.7,202.3 L324.4,202.3 L324.4,202.5 L325.1,202.5 L325.1,201.4 L325.8,201.4 L325.8,201.9 L326.5,201.9 L326.5,200.5 L327.2,200.5 L327.2,200.7 L327.9,200.7 L327.9,200.6 L328.6,200.6 L328.6,200.4 L329.3,200.4 L329.3,199.5 L330.0,199.5 L330.0,199.0 L330.7,199.0 L330.7,199.3 L331.4,199.3 L331.4,199.9 L332.1,199.9 L332.1,199.8 L332.8,199.8 L332.8,198.7 L333.5,198.7 L333.5,197.9 L334.2,197.9 L334.2,199.4 L334.9,199.4 L334.9,198.4 L335.6,198.4 L335.6,198.7 L336.3,198.7 L336.3,197.7 L337.0,197.7 L337.0,197.6 L337.7,197.6 L337.7,196.9 L338.4,196.9 L338.4,198.4 L339.1,198.4 L339.1,199.7 L339.8,199.7 L339.8,198.3 L340.5,198.3 L340.5,198.8 L341.2,198.8 L341.2,199.3 L341.9,199.3 L341.9,197.7 L342.6,197.7 L342.6,200.0 L343.3,200.0 L343.3,199.2 L344.0,199.2 L344.0,198.8 L344.7,198.8 L344.7,199.2 L345.4,199.2 L345.4,201.3 L346.1,201.3 L346.1,202.1 L346.8,202.1 L346.8,202.7 L347.5,202.7 L347.5,202.5 L348.2,202.5 L348.2,203.1 L348.9,203.1 L348.9,202.9 L349.6,202.9 L349.6,204.8 L350.3,204.8 L350.3,205.1 L351.0,205.1 L351.0,204.3 L351.7,204.3 L351.7,204.7 L352.4,204.7 L352.4,207.3 L353.1,207.3 L353.1,207.0 L353.8,207.0 L353.8,205.5 L354.5,205.5 L354.5,206.9 L355.2,206.9 L355.2,205.0 L355.9,205.0 L355.9,208.0 L356.6,208.0 L356.6,207.7 L357.3,207.7 L357.3,209.0 L358.0,209.0 L358.0,209.3 L358.7,209.3 L358.7,208.1 L359.4,208.1 L359.4,209.1 L360.1,209.1 L360.1,209.2 L360.8,209.2 L360.8,209.8 L361.5,209.8 L361.5,208.4 L362.2,208.4 L362.2,207.7 L362.9,207.7 L362.9,209.7 L363.6,209.7 L363.6,209.4 L364.3,209.4 L364.3,209.3 L365.0,209.3 L365.0,209.8 L365.7,209.8 L365.7,209.7 L366.4,209.7 L366.4,209.6 L367.1,209.6 L367.1,209.5 L367.8,209.5 L367.8,209.9 L368.5,209.9 L368.5,210.0 L369.2,210.0 L369.2,209.4 L369.9,209.4 L369.9,209.7 L370.6,209.7 L370.6,209.9 L371.3,209.9 L371.3,210.0 L372.0,210.0 L372.0,210.0 L372.7,210.0 L372.7,210.0 L373.4,210.0 L373.4,210.0 L374.1,210.0 L374.1,209.9 L374.8,209.9 L374.8,209.2 L375.5,209.2 L375.5,210.0 L376.2,210.0 L376.2,209.4 L376.9,209.4 L376.9,210.0 L377.6,210.0 L377.6,210.2 L378.3,210.2 L378.3,210.0 L379.0,210.0 L379.0,210.2 L379.7,210.2 L379.7,209.9 L380.4,209.9 L380.4,210.1 L381.1,210.1 L381.1,210.1 L381.8,210.1 L381.8,209.4 L382.5,209.4 L382.5,210.1 L383.2,210.1 L383.2,210.1 L383.9,210.1 L383.9,210.1 L384.6,210.1 L384.6,210.1 L385.3,210.1 L385.3,210.2 L386.0,210.2 L386.0,210.1 L386.7,210.1 L386.7,210.1 L387.4,210.1 L387.4,210.1 L388.1,210.1 L388.1,210.1 L388.8,210.1 L388.8,209.4 L389.5,209.4 L389.5,210.1 L390.2,210.1 L390.2,210.1 L390.9,210.1 L390.9,210.1 L391.6,210.1 L391.6,210.1 L392.3,210.1 L392.3,210.1 L393.0,210.1 L393.0,210.1 L393.7,210.1 L393.7,210.1 L394.4,210.1 L394.4,209.3 L395.1,209.3 L395.1,210.2 L395.8,210.2 L395.8,210.1 L396.5,210.1 L396.5,209.5 L397.2,209.5 L397.2,209.3 L397.9,209.3 L397.9,210.1 L398.6,210.1 L398.6,210.2 L399.3,210.2 L399.3,210.1 L400.0,210.1 L400.0,209.4 L400.7,209.4 L400.7,210.1 L401.4,210.1 L401.4,210.1 L402.1,210.1 L402.1,210.1 L402.8,210.1 L402.8,209.4 L403.5,209.4 L403.5,209.9 L404.2,209.9 L404.2,210.2 L404.9,210.2 L404.9,209.9 L405.6,209.9 L405.6,210.1 L406.3,210.1 L406.3,210.0 L407.0,210.0 L407.0,210.2 L407.7,210.2 L407.7,210.2 L408.4,210.2 L408.4,210.2 L409.1,210.2 L409.1,209.4 L409.8,209.4 L409.8,209.9 L410.5,209.9 L410.5,209.9 L411.2,209.9 L411.2,210.2 L411.9,210.2 L411.9,210.2 L412.6,210.2 L412.6,210.2 L413.3,210.2 L413.3,210.2 L414.0,210.2 L414.0,210.2 L414.7,210.2 L414.7,210.2 L415.4,210.2 L415.4,209.6 L416.1,209.6 L416.1,210.2 L416.8,210.2 L416.8,210.2 L417.5,210.2 L417.5,210.2 L418.2,210.2 L418.2,210.2 L418.9,210.2 L418.9,209.7 L419.6,209.7 L419.2,210.4 Z" fill="#585858" stroke="#000" stroke-width="1.0" stroke-linejoin="bevel"/>
<line x1="268.80" y1="210.40" x2="419.20" y2="210.40" stroke="#111" stroke-width="1.4" />
<line x1="268.80" y1="210.40" x2="268.80" y2="214.40" stroke="#222" stroke-width="0.9" />
<line x1="280.12" y1="210.40" x2="280.12" y2="212.60" stroke="#222" stroke-width="0.7" />
<line x1="286.74" y1="210.40" x2="286.74" y2="212.60" stroke="#222" stroke-width="0.7" />
<line x1="291.44" y1="210.40" x2="291.44" y2="212.60" stroke="#222" stroke-width="0.7" />
<line x1="295.08" y1="210.40" x2="295.08" y2="212.60" stroke="#222" stroke-width="0.7" />
<line x1="298.06" y1="210.40" x2="298.06" y2="212.60" stroke="#222" stroke-width="0.7" />
<line x1="300.58" y1="210.40" x2="300.58" y2="212.60" stroke="#222" stroke-width="0.7" />
<line x1="302.76" y1="210.40" x2="302.76" y2="212.60" stroke="#222" stroke-width="0.7" />
<line x1="304.68" y1="210.40" x2="304.68" y2="212.60" stroke="#222" stroke-width="0.7" />
<line x1="306.40" y1="210.40" x2="306.40" y2="214.40" stroke="#222" stroke-width="0.9" />
<line x1="317.72" y1="210.40" x2="317.72" y2="212.60" stroke="#222" stroke-width="0.7" />
<line x1="324.34" y1="210.40" x2="324.34" y2="212.60" stroke="#222" stroke-width="0.7" />
<line x1="329.04" y1="210.40" x2="329.04" y2="212.60" stroke="#222" stroke-width="0.7" />
<line x1="332.68" y1="210.40" x2="332.68" y2="212.60" stroke="#222" stroke-width="0.7" />
<line x1="335.66" y1="210.40" x2="335.66" y2="212.60" stroke="#222" stroke-width="0.7" />
<line x1="338.18" y1="210.40" x2="338.18" y2="212.60" stroke="#222" stroke-width="0.7" />
<line x1="340.36" y1="210.40" x2="340.36" y2="212.60" stroke="#222" stroke-width="0.7" />
<line x1="342.28" y1="210.40" x2="342.28" y2="212.60" stroke="#222" stroke-width="0.7" />
<line x1="344.00" y1="210.40" x2="344.00" y2="214.40" stroke="#222" stroke-width="0.9" />
<line x1="355.32" y1="210.40" x2="355.32" y2="212.60" stroke="#222" stroke-width="0.7" />
<line x1="361.94" y1="210.40" x2="361.94" y2="212.60" stroke="#222" stroke-width="0.7" />
<line x1="366.64" y1="210.40" x2="366.64" y2="212.60" stroke="#222" stroke-width="0.7" />
<line x1="370.28" y1="210.40" x2="370.28" y2="212.60" stroke="#222" stroke-width="0.7" />
<line x1="373.26" y1="210.40" x2="373.26" y2="212.60" stroke="#222" stroke-width="0.7" />
<line x1="375.78" y1="210.40" x2="375.78" y2="212.60" stroke="#222" stroke-width="0.7" />
<line x1="377.96" y1="210.40" x2="377.96" y2="212.60" stroke="#222" stroke-width="0.7" />
<line x1="379.88" y1="210.40" x2="379.88" y2="212.60" stroke="#222" stroke-width="0.7" />
<line x1="381.60" y1="210.40" x2="381.60" y2="214.40" stroke="#222" stroke-width="0.9" />
<line x1="392.92" y1="210.40" x2="392.92" y2="212.60" stroke="#222" stroke-width="0.7" />
<line x1="399.54" y1="210.40" x2="399.54" y2="212.60" stroke="#222" stroke-width="0.7" />
<line x1="404.24" y1="210.40" x2="404.24" y2="212.60" stroke="#222" stroke-width="0.7" />
<line x1="407.88" y1="210.40" x2="407.88" y2="212.60" stroke="#222" stroke-width="0.7" />
<line x1="410.86" y1="210.40" x2="410.86" y2="212.60" stroke="#222" stroke-width="0.7" />
<line x1="413.38" y1="210.40" x2="413.38" y2="212.60" stroke="#222" stroke-width="0.7" />
<line x1="415.56" y1="210.40" x2="415.56" y2="212.60" stroke="#222" stroke-width="0.7" />
<line x1="417.48" y1="210.40" x2="417.48" y2="212.60" stroke="#222" stroke-width="0.7" />
<line x1="419.20" y1="210.40" x2="419.20" y2="214.40" stroke="#222" stroke-width="0.9" />
<text x="267.8" y="221.7" font-size="6.4" font-family="Liberation Serif" font-weight="bold" text-anchor="middle" fill="#111">10<tspan dy="-3.4" font-size="4.8">0</tspan></text>
<text x="305.4" y="221.7" font-size="6.4" font-family="Liberation Serif" font-weight="bold" text-anchor="middle" fill="#111">10<tspan dy="-3.4" font-size="4.8">1</tspan></text>
<text x="343.0" y="221.7" font-size="6.4" font-family="Liberation Serif" font-weight="bold" text-anchor="middle" fill="#111">10<tspan dy="-3.4" font-size="4.8">2</tspan></text>
<text x="380.6" y="221.7" font-size="6.4" font-family="Liberation Serif" font-weight="bold" text-anchor="middle" fill="#111">10<tspan dy="-3.4" font-size="4.8">3</tspan></text>
<text x="418.2" y="221.7" font-size="6.4" font-family="Liberation Serif" font-weight="bold" text-anchor="middle" fill="#111">10<tspan dy="-3.4" font-size="4.8">4</tspan></text>
<line x1="268.80" y1="179.30" x2="419.20" y2="179.30" stroke="#555" stroke-width="1.0" />
<line x1="333.30" y1="172.80" x2="333.30" y2="186.30" stroke="#222" stroke-width="1.3" />
<line x1="419.20" y1="172.80" x2="419.20" y2="186.30" stroke="#666" stroke-width="1.0" />
<text x="304.6" y="187.8" font-size="6" font-family="Liberation Serif" text-anchor="middle" fill="#555">M1</text>
<text x="381.2" y="187.8" font-size="6" font-family="Liberation Serif" text-anchor="middle" fill="#555">M2</text>
<line x1="266.80" y1="150.40" x2="269.20" y2="150.40" stroke="#222" stroke-width="0.9" />
<line x1="267.80" y1="152.70" x2="269.20" y2="152.70" stroke="#222" stroke-width="0.9" />
<line x1="267.80" y1="155.00" x2="269.20" y2="155.00" stroke="#222" stroke-width="0.9" />
<line x1="267.80" y1="157.30" x2="269.20" y2="157.30" stroke="#222" stroke-width="0.9" />
<line x1="267.80" y1="159.60" x2="269.20" y2="159.60" stroke="#222" stroke-width="0.9" />
<line x1="266.80" y1="161.90" x2="269.20" y2="161.90" stroke="#222" stroke-width="0.9" />
<line x1="267.80" y1="164.20" x2="269.20" y2="164.20" stroke="#222" stroke-width="0.9" />
<line x1="267.80" y1="166.50" x2="269.20" y2="166.50" stroke="#222" stroke-width="0.9" />
<line x1="267.80" y1="168.80" x2="269.20" y2="168.80" stroke="#222" stroke-width="0.9" />
<line x1="267.80" y1="171.10" x2="269.20" y2="171.10" stroke="#222" stroke-width="0.9" />
<line x1="266.80" y1="173.40" x2="269.20" y2="173.40" stroke="#222" stroke-width="0.9" />
<line x1="267.80" y1="175.70" x2="269.20" y2="175.70" stroke="#222" stroke-width="0.9" />
<line x1="267.80" y1="178.00" x2="269.20" y2="178.00" stroke="#222" stroke-width="0.9" />
<line x1="267.80" y1="180.30" x2="269.20" y2="180.30" stroke="#222" stroke-width="0.9" />
<line x1="267.80" y1="182.60" x2="269.20" y2="182.60" stroke="#222" stroke-width="0.9" />
<line x1="266.80" y1="184.90" x2="269.20" y2="184.90" stroke="#222" stroke-width="0.9" />
<line x1="267.80" y1="187.20" x2="269.20" y2="187.20" stroke="#222" stroke-width="0.9" />
<line x1="267.80" y1="189.50" x2="269.20" y2="189.50" stroke="#222" stroke-width="0.9" />
<line x1="267.80" y1="191.80" x2="269.20" y2="191.80" stroke="#222" stroke-width="0.9" />
<line x1="267.80" y1="194.10" x2="269.20" y2="194.10" stroke="#222" stroke-width="0.9" />
<line x1="266.80" y1="196.40" x2="269.20" y2="196.40" stroke="#222" stroke-width="0.9" />
<line x1="267.80" y1="198.70" x2="269.20" y2="198.70" stroke="#222" stroke-width="0.9" />
<line x1="267.80" y1="201.00" x2="269.20" y2="201.00" stroke="#222" stroke-width="0.9" />
<line x1="267.80" y1="203.30" x2="269.20" y2="203.30" stroke="#222" stroke-width="0.9" />
<line x1="267.80" y1="205.60" x2="269.20" y2="205.60" stroke="#222" stroke-width="0.9" />
<line x1="266.80" y1="207.90" x2="269.20" y2="207.90" stroke="#222" stroke-width="0.9" />
<line x1="267.80" y1="210.20" x2="269.20" y2="210.20" stroke="#222" stroke-width="0.9" />
<line x1="266.30" y1="150.40" x2="268.80" y2="150.40" stroke="#222" stroke-width="0.9" />
<text transform="translate(264.3,156.4) rotate(-90)" font-size="6.2" font-family="Liberation Serif" font-weight="bold" fill="#111">200</text>
<text transform="translate(264.3,211.9) rotate(-90)" font-size="6.2" font-family="Liberation Serif" font-weight="bold" fill="#111">0</text>
<text transform="translate(259.0,191.4) rotate(-90)" font-size="6.4" font-family="Liberation Serif" font-weight="bold" fill="#111">Counts</text>
<text transform="translate(328.00,148.93) scale(1.2443,1)" font-size="7.20" font-weight="bold" fill="#2a2a2a" >DHICD</text>
<text transform="translate(332.10,230.29) scale(1.0478,1)" font-size="5.64" font-weight="bold" fill="#333" >F4/80 PE</text>
<path d="M270.0,300.0 L270.3,298.5 L271.0,298.5 L271.0,297.6 L271.7,297.6 L271.7,297.6 L272.4,297.6 L272.4,296.9 L273.1,296.9 L273.1,298.5 L273.8,298.5 L273.8,297.9 L274.5,297.9 L274.5,296.8 L275.2,296.8 L275.2,296.8 L275.9,296.8 L275.9,297.2 L276.6,297.2 L276.6,297.5 L277.3,297.5 L277.3,297.1 L278.0,297.1 L278.0,297.0 L278.7,297.0 L278.7,296.0 L279.4,296.0 L279.4,294.8 L280.1,294.8 L280.1,296.1 L280.8,296.1 L280.8,296.2 L281.5,296.2 L281.5,297.0 L282.2,297.0 L282.2,296.6 L282.9,296.6 L282.9,296.7 L283.6,296.7 L283.6,296.2 L284.3,296.2 L284.3,296.3 L285.0,296.3 L285.0,296.2 L285.7,296.2 L285.7,296.8 L286.4,296.8 L286.4,295.0 L287.1,295.0 L287.1,295.8 L287.8,295.8 L287.8,296.7 L288.5,296.7 L288.5,296.6 L289.2,296.6 L289.2,296.7 L289.9,296.7 L289.9,294.4 L290.6,294.4 L290.6,295.9 L291.3,295.9 L291.3,294.7 L292.0,294.7 L292.0,296.8 L292.7,296.8 L292.7,296.3 L293.4,296.3 L293.4,296.7 L294.1,296.7 L294.1,295.3 L294.8,295.3 L294.8,296.3 L295.5,296.3 L295.5,295.7 L296.2,295.7 L296.2,295.0 L296.9,295.0 L296.9,294.7 L297.6,294.7 L297.6,295.8 L298.3,295.8 L298.3,295.3 L299.0,295.3 L299.0,295.0 L299.7,295.0 L299.7,295.1 L300.4,295.1 L300.4,294.8 L301.1,294.8 L301.1,294.6 L301.8,294.6 L301.8,294.6 L302.5,294.6 L302.5,294.6 L303.2,294.6 L303.2,292.2 L303.9,292.2 L303.9,294.4 L304.6,294.4 L304.6,293.5 L305.3,293.5 L305.3,293.8 L306.0,293.8 L306.0,293.5 L306.7,293.5 L306.7,293.2 L307.4,293.2 L307.4,294.2 L308.1,294.2 L308.1,294.5 L308.8,294.5 L308.8,293.8 L309.5,293.8 L309.5,292.4 L310.2,292.4 L310.2,293.5 L310.9,293.5 L310.9,292.6 L311.6,292.6 L311.6,294.3 L312.3,294.3 L312.3,293.1 L313.0,293.1 L313.0,293.5 L313.7,293.5 L313.7,292.1 L314.4,292.1 L314.4,292.8 L315.1,292.8 L315.1,292.5 L315.8,292.5 L315.8,292.7 L316.5,292.7 L316.5,292.6 L317.2,292.6 L317.2,293.4 L317.9,293.4 L317.9,292.2 L318.6,292.2 L318.6,291.3 L319.3,291.3 L319.3,289.9 L320.0,289.9 L320.0,292.7 L320.7,292.7 L320.7,292.4 L321.4,292.4 L321.4,291.6 L322.1,291.6 L322.1,291.7 L322.8,291.7 L322.8,291.8 L323.5,291.8 L323.5,291.7 L324.2,291.7 L324.2,291.5 L324.9,291.5 L324.9,292.4 L325.6,292.4 L325.6,291.3 L326.3,291.3 L326.3,291.8 L327.0,291.8 L327.0,291.0 L327.7,291.0 L327.7,293.2 L328.4,293.2 L328.4,292.1 L329.1,292.1 L329.1,291.3 L329.8,291.3 L329.8,290.4 L330.5,290.4 L330.5,291.9 L331.2,291.9 L331.2,291.2 L331.9,291.2 L331.9,291.3 L332.6,291.3 L332.6,291.2 L333.3,291.2 L333.3,290.5 L334.0,290.5 L334.0,290.1 L334.7,290.1 L334.7,289.5 L335.4,289.5 L335.4,290.9 L336.1,290.9 L336.1,290.2 L336.8,290.2 L336.8,289.5 L337.5,289.5 L337.5,290.8 L338.2,290.8 L338.2,289.0 L338.9,289.0 L338.9,289.1 L339.6,289.1 L339.6,290.6 L340.3,290.6 L340.3,289.7 L341.0,289.7 L341.0,289.7 L341.7,289.7 L341.7,291.1 L342.4,291.1 L342.4,291.8 L343.1,291.8 L343.1,292.4 L343.8,292.4 L343.8,294.3 L344.5,294.3 L344.5,294.4 L345.2,294.4 L345.2,295.6 L345.9,295.6 L345.9,296.1 L346.6,296.1 L346.6,295.5 L347.3,295.5 L347.3,298.0 L348.0,298.0 L348.0,296.1 L348.7,296.1 L348.7,295.1 L349.4,295.1 L349.4,297.9 L350.1,297.9 L350.1,298.6 L350.8,298.6 L350.8,297.9 L351.5,297.9 L351.5,298.4 L352.2,298.4 L352.2,298.3 L352.9,298.3 L352.9,298.8 L353.6,298.8 L353.6,298.9 L354.3,298.9 L354.3,298.8 L355.0,298.8 L355.0,298.7 L355.7,298.7 L355.7,298.4 L356.4,298.4 L356.4,298.9 L357.1,298.9 L357.1,297.4 L357.8,297.4 L357.8,298.5 L358.5,298.5 L358.5,298.4 L359.2,298.4 L359.2,298.5 L359.9,298.5 L359.9,298.5 L360.6,298.5 L360.6,298.9 L361.3,298.9 L361.3,298.9 L362.0,298.9 L362.0,299.1 L362.7,299.1 L362.7,299.4 L363.4,299.4 L363.4,298.0 L364.1,298.0 L364.1,298.6 L364.8,298.6 L364.8,299.1 L365.5,299.1 L365.5,298.6 L366.2,298.6 L366.2,299.2 L366.9,299.2 L366.9,299.2 L367.6,299.2 L367.6,298.9 L368.3,298.9 L368.3,298.2 L369.0,298.2 L369.0,298.3 L369.7,298.3 L369.7,299.8 L370.4,299.8 L370.4,299.5 L371.1,299.5 L371.1,299.1 L371.8,299.1 L371.8,299.0 L372.5,299.0 L372.5,298.4 L373.2,298.4 L373.2,299.0 L373.9,299.0 L373.9,298.7 L374.6,298.7 L374.6,299.6 L375.3,299.6 L375.3,299.4 L376.0,299.4 L376.0,299.7 L376.7,299.7 L376.7,299.7 L377.4,299.7 L377.4,299.2 L378.1,299.2 L378.1,299.3 L378.8,299.3 L378.8,299.8 L379.5,299.8 L379.5,299.0 L380.2,299.0 L380.2,299.4 L380.9,299.4 L380.9,299.0 L381.6,299.0 L381.6,299.0 L382.3,299.0 L382.3,299.6 L383.0,299.6 L383.0,299.8 L383.7,299.8 L383.7,299.7 L384.4,299.7 L384.4,299.6 L385.1,299.6 L385.1,298.8 L385.8,298.8 L385.8,299.0 L386.5,299.0 L386.5,299.8 L387.2,299.8 L387.2,299.8 L387.9,299.8 L387.9,298.7 L388.6,298.7 L388.6,299.8 L389.3,299.8 L389.3,297.2 L390.0,297.2 L390.0,296.7 L390.7,296.7 L390.7,299.1 L391.4,299.1 L391.4,299.5 L392.1,299.5 L392.1,298.8 L392.8,298.8 L392.8,299.4 L393.5,299.4 L393.5,298.5 L394.2,298.5 L394.2,299.8 L394.9,299.8 L394.9,299.0 L395.6,299.0 L395.6,299.7 L396.3,299.7 L396.3,299.5 L397.0,299.5 L397.0,299.2 L397.7,299.2 L397.7,297.6 L398.4,297.6 L398.4,299.0 L399.1,299.0 L399.1,299.3 L399.8,299.3 L399.8,299.2 L400.5,299.2 L400.5,296.9 L401.2,296.9 L401.2,299.2 L401.9,299.2 L401.9,299.2 L402.6,299.2 L402.6,299.1 L403.3,299.1 L403.3,299.5 L404.0,299.5 L404.0,299.8 L404.7,299.8 L404.7,299.1 L405.4,299.1 L405.4,299.4 L406.1,299.4 L406.1,299.4 L406.8,299.4 L406.8,299.4 L407.5,299.4 L407.5,299.6 L408.2,299.6 L408.2,299.4 L408.9,299.4 L408.9,298.8 L409.6,298.8 L409.6,299.4 L410.3,299.4 L410.3,299.5 L411.0,299.5 L411.0,299.4 L411.7,299.4 L411.7,299.5 L412.4,299.5 L412.4,299.5 L413.1,299.5 L413.1,299.5 L413.8,299.5 L413.8,299.5 L414.5,299.5 L414.5,298.9 L415.2,298.9 L415.2,299.5 L415.9,299.5 L415.9,299.4 L416.6,299.4 L416.6,298.7 L417.3,298.7 L417.3,299.5 L418.0,299.5 L418.0,299.5 L418.7,299.5 L418.7,299.5 L419.4,299.5 L418.8,300.0 Z" fill="#585858" stroke="#000" stroke-width="1.0" stroke-linejoin="bevel"/>
<line x1="270.00" y1="300.00" x2="418.80" y2="300.00" stroke="#111" stroke-width="1.4" />
<line x1="270.00" y1="300.00" x2="270.00" y2="304.00" stroke="#222" stroke-width="0.9" />
<line x1="281.20" y1="300.00" x2="281.20" y2="302.20" stroke="#222" stroke-width="0.7" />
<line x1="287.75" y1="300.00" x2="287.75" y2="302.20" stroke="#222" stroke-width="0.7" />
<line x1="292.40" y1="300.00" x2="292.40" y2="302.20" stroke="#222" stroke-width="0.7" />
<line x1="296.00" y1="300.00" x2="296.00" y2="302.20" stroke="#222" stroke-width="0.7" />
<line x1="298.95" y1="300.00" x2="298.95" y2="302.20" stroke="#222" stroke-width="0.7" />
<line x1="301.44" y1="300.00" x2="301.44" y2="302.20" stroke="#222" stroke-width="0.7" />
<line x1="303.59" y1="300.00" x2="303.59" y2="302.20" stroke="#222" stroke-width="0.7" />
<line x1="305.50" y1="300.00" x2="305.50" y2="302.20" stroke="#222" stroke-width="0.7" />
<line x1="307.20" y1="300.00" x2="307.20" y2="304.00" stroke="#222" stroke-width="0.9" />
<line x1="318.40" y1="300.00" x2="318.40" y2="302.20" stroke="#222" stroke-width="0.7" />
<line x1="324.95" y1="300.00" x2="324.95" y2="302.20" stroke="#222" stroke-width="0.7" />
<line x1="329.60" y1="300.00" x2="329.60" y2="302.20" stroke="#222" stroke-width="0.7" />
<line x1="333.20" y1="300.00" x2="333.20" y2="302.20" stroke="#222" stroke-width="0.7" />
<line x1="336.15" y1="300.00" x2="336.15" y2="302.20" stroke="#222" stroke-width="0.7" />
<line x1="338.64" y1="300.00" x2="338.64" y2="302.20" stroke="#222" stroke-width="0.7" />
<line x1="340.79" y1="300.00" x2="340.79" y2="302.20" stroke="#222" stroke-width="0.7" />
<line x1="342.70" y1="300.00" x2="342.70" y2="302.20" stroke="#222" stroke-width="0.7" />
<line x1="344.40" y1="300.00" x2="344.40" y2="304.00" stroke="#222" stroke-width="0.9" />
<line x1="355.60" y1="300.00" x2="355.60" y2="302.20" stroke="#222" stroke-width="0.7" />
<line x1="362.15" y1="300.00" x2="362.15" y2="302.20" stroke="#222" stroke-width="0.7" />
<line x1="366.80" y1="300.00" x2="366.80" y2="302.20" stroke="#222" stroke-width="0.7" />
<line x1="370.40" y1="300.00" x2="370.40" y2="302.20" stroke="#222" stroke-width="0.7" />
<line x1="373.35" y1="300.00" x2="373.35" y2="302.20" stroke="#222" stroke-width="0.7" />
<line x1="375.84" y1="300.00" x2="375.84" y2="302.20" stroke="#222" stroke-width="0.7" />
<line x1="377.99" y1="300.00" x2="377.99" y2="302.20" stroke="#222" stroke-width="0.7" />
<line x1="379.90" y1="300.00" x2="379.90" y2="302.20" stroke="#222" stroke-width="0.7" />
<line x1="381.60" y1="300.00" x2="381.60" y2="304.00" stroke="#222" stroke-width="0.9" />
<line x1="392.80" y1="300.00" x2="392.80" y2="302.20" stroke="#222" stroke-width="0.7" />
<line x1="399.35" y1="300.00" x2="399.35" y2="302.20" stroke="#222" stroke-width="0.7" />
<line x1="404.00" y1="300.00" x2="404.00" y2="302.20" stroke="#222" stroke-width="0.7" />
<line x1="407.60" y1="300.00" x2="407.60" y2="302.20" stroke="#222" stroke-width="0.7" />
<line x1="410.55" y1="300.00" x2="410.55" y2="302.20" stroke="#222" stroke-width="0.7" />
<line x1="413.04" y1="300.00" x2="413.04" y2="302.20" stroke="#222" stroke-width="0.7" />
<line x1="415.19" y1="300.00" x2="415.19" y2="302.20" stroke="#222" stroke-width="0.7" />
<line x1="417.10" y1="300.00" x2="417.10" y2="302.20" stroke="#222" stroke-width="0.7" />
<line x1="418.80" y1="300.00" x2="418.80" y2="304.00" stroke="#222" stroke-width="0.9" />
<text x="269.0" y="311.3" font-size="6.4" font-family="Liberation Serif" font-weight="bold" text-anchor="middle" fill="#111">10<tspan dy="-3.4" font-size="4.8">0</tspan></text>
<text x="306.2" y="311.3" font-size="6.4" font-family="Liberation Serif" font-weight="bold" text-anchor="middle" fill="#111">10<tspan dy="-3.4" font-size="4.8">1</tspan></text>
<text x="343.4" y="311.3" font-size="6.4" font-family="Liberation Serif" font-weight="bold" text-anchor="middle" fill="#111">10<tspan dy="-3.4" font-size="4.8">2</tspan></text>
<text x="380.6" y="311.3" font-size="6.4" font-family="Liberation Serif" font-weight="bold" text-anchor="middle" fill="#111">10<tspan dy="-3.4" font-size="4.8">3</tspan></text>
<text x="417.8" y="311.3" font-size="6.4" font-family="Liberation Serif" font-weight="bold" text-anchor="middle" fill="#111">10<tspan dy="-3.4" font-size="4.8">4</tspan></text>
<line x1="270.00" y1="266.50" x2="418.80" y2="266.50" stroke="#555" stroke-width="1.0" />
<line x1="333.30" y1="260.00" x2="333.30" y2="273.50" stroke="#222" stroke-width="1.3" />
<line x1="418.80" y1="260.00" x2="418.80" y2="273.50" stroke="#666" stroke-width="1.0" />
<text x="305.1" y="275.0" font-size="6" font-family="Liberation Serif" text-anchor="middle" fill="#555">M1</text>
<text x="381.1" y="275.0" font-size="6" font-family="Liberation Serif" text-anchor="middle" fill="#555">M2</text>
<line x1="268.00" y1="240.00" x2="270.40" y2="240.00" stroke="#222" stroke-width="0.9" />
<line x1="269.00" y1="242.30" x2="270.40" y2="242.30" stroke="#222" stroke-width="0.9" />
<line x1="269.00" y1="244.60" x2="270.40" y2="244.60" stroke="#222" stroke-width="0.9" />
<line x1="269.00" y1="246.90" x2="270.40" y2="246.90" stroke="#222" stroke-width="0.9" />
<line x1="269.00" y1="249.20" x2="270.40" y2="249.20" stroke="#222" stroke-width="0.9" />
<line x1="268.00" y1="251.50" x2="270.40" y2="251.50" stroke="#222" stroke-width="0.9" />
<line x1="270.00" y1="266.50" x2="270.00" y2="300.50" stroke="#111" stroke-width="1.4" />
<line x1="268.40" y1="268.00" x2="270.00" y2="268.00" stroke="#333" stroke-width="0.7" />
<line x1="268.40" y1="271.20" x2="270.00" y2="271.20" stroke="#333" stroke-width="0.7" />
<line x1="268.40" y1="274.40" x2="270.00" y2="274.40" stroke="#333" stroke-width="0.7" />
<line x1="268.40" y1="277.60" x2="270.00" y2="277.60" stroke="#333" stroke-width="0.7" />
<line x1="268.40" y1="280.80" x2="270.00" y2="280.80" stroke="#333" stroke-width="0.7" />
<line x1="268.40" y1="284.00" x2="270.00" y2="284.00" stroke="#333" stroke-width="0.7" />
<line x1="268.40" y1="287.20" x2="270.00" y2="287.20" stroke="#333" stroke-width="0.7" />
<line x1="268.40" y1="290.40" x2="270.00" y2="290.40" stroke="#333" stroke-width="0.7" />
<line x1="268.40" y1="293.60" x2="270.00" y2="293.60" stroke="#333" stroke-width="0.7" />
<line x1="268.40" y1="296.80" x2="270.00" y2="296.80" stroke="#333" stroke-width="0.7" />
<line x1="267.50" y1="240.00" x2="270.00" y2="240.00" stroke="#222" stroke-width="0.9" />
<text transform="translate(265.5,246.0) rotate(-90)" font-size="6.2" font-family="Liberation Serif" font-weight="bold" fill="#111">200</text>
<text transform="translate(265.5,301.5) rotate(-90)" font-size="6.2" font-family="Liberation Serif" font-weight="bold" fill="#111">0</text>
<text transform="translate(260.2,281.0) rotate(-90)" font-size="6.4" font-family="Liberation Serif" font-weight="bold" fill="#111">Counts</text>
<text transform="translate(328.00,237.93) scale(1.2443,1)" font-size="7.20" font-weight="bold" fill="#2a2a2a" >DHICD</text>
<text transform="translate(332.50,319.89) scale(1.0478,1)" font-size="5.64" font-weight="bold" fill="#333" >F4/80 PE</text>
<path d="M272.4,393.5 L272.7,393.0 L273.4,393.0 L273.4,391.3 L274.1,391.3 L274.1,390.6 L274.8,390.6 L274.8,389.3 L275.5,389.3 L275.5,389.5 L276.2,389.5 L276.2,388.4 L276.9,388.4 L276.9,389.2 L277.6,389.2 L277.6,388.4 L278.3,388.4 L278.3,388.0 L279.0,388.0 L279.0,388.4 L279.7,388.4 L279.7,387.7 L280.4,387.7 L280.4,386.9 L281.1,386.9 L281.1,384.9 L281.8,384.9 L281.8,387.3 L282.5,387.3 L282.5,386.0 L283.2,386.0 L283.2,385.9 L283.9,385.9 L283.9,385.4 L284.6,385.4 L284.6,385.2 L285.3,385.2 L285.3,385.8 L286.0,385.8 L286.0,386.5 L286.7,386.5 L286.7,385.9 L287.4,385.9 L287.4,385.6 L288.1,385.6 L288.1,385.8 L288.8,385.8 L288.8,385.4 L289.5,385.4 L289.5,385.3 L290.2,385.3 L290.2,385.3 L290.9,385.3 L290.9,384.4 L291.6,384.4 L291.6,385.8 L292.3,385.8 L292.3,385.8 L293.0,385.8 L293.0,383.6 L293.7,383.6 L293.7,386.8 L294.4,386.8 L294.4,384.0 L295.1,384.0 L295.1,384.3 L295.8,384.3 L295.8,384.4 L296.5,384.4 L296.5,383.0 L297.2,383.0 L297.2,384.2 L297.9,384.2 L297.9,385.8 L298.6,385.8 L298.6,384.4 L299.3,384.4 L299.3,383.8 L300.0,383.8 L300.0,384.2 L300.7,384.2 L300.7,383.5 L301.4,383.5 L301.4,383.0 L302.1,383.0 L302.1,386.1 L302.8,386.1 L302.8,383.1 L303.5,383.1 L303.5,383.8 L304.2,383.8 L304.2,383.4 L304.9,383.4 L304.9,382.9 L305.6,382.9 L305.6,382.6 L306.3,382.6 L306.3,381.8 L307.0,381.8 L307.0,383.4 L307.7,383.4 L307.7,383.0 L308.4,383.0 L308.4,382.7 L309.1,382.7 L309.1,382.8 L309.8,382.8 L309.8,381.9 L310.5,381.9 L310.5,382.9 L311.2,382.9 L311.2,382.1 L311.9,382.1 L311.9,382.3 L312.6,382.3 L312.6,382.6 L313.3,382.6 L313.3,381.7 L314.0,381.7 L314.0,381.9 L314.7,381.9 L314.7,383.2 L315.4,383.2 L315.4,383.3 L316.1,383.3 L316.1,382.9 L316.8,382.9 L316.8,382.5 L317.5,382.5 L317.5,382.1 L318.2,382.1 L318.2,382.9 L318.9,382.9 L318.9,384.3 L319.6,384.3 L319.6,382.7 L320.3,382.7 L320.3,384.3 L321.0,384.3 L321.0,384.7 L321.7,384.7 L321.7,384.0 L322.4,384.0 L322.4,386.8 L323.1,386.8 L323.1,386.8 L323.8,386.8 L323.8,386.0 L324.5,386.0 L324.5,384.8 L325.2,384.8 L325.2,387.0 L325.9,387.0 L325.9,387.3 L326.6,387.3 L326.6,387.9 L327.3,387.9 L327.3,386.1 L328.0,386.1 L328.0,388.2 L328.7,388.2 L328.7,386.7 L329.4,386.7 L329.4,386.7 L330.1,386.7 L330.1,387.2 L330.8,387.2 L330.8,386.7 L331.5,386.7 L331.5,387.8 L332.2,387.8 L332.2,386.7 L332.9,386.7 L332.9,387.7 L333.6,387.7 L333.6,388.4 L334.3,388.4 L334.3,387.9 L335.0,387.9 L335.0,388.3 L335.7,388.3 L335.7,389.0 L336.4,389.0 L336.4,388.9 L337.1,388.9 L337.1,389.5 L337.8,389.5 L337.8,389.9 L338.5,389.9 L338.5,390.5 L339.2,390.5 L339.2,390.0 L339.9,390.0 L339.9,390.5 L340.6,390.5 L340.6,389.7 L341.3,389.7 L341.3,390.2 L342.0,390.2 L342.0,390.4 L342.7,390.4 L342.7,391.9 L343.4,391.9 L343.4,390.8 L344.1,390.8 L344.1,389.9 L344.8,389.9 L344.8,391.0 L345.5,391.0 L345.5,391.2 L346.2,391.2 L346.2,391.9 L346.9,391.9 L346.9,391.1 L347.6,391.1 L347.6,392.1 L348.3,392.1 L348.3,392.2 L349.0,392.2 L349.0,391.9 L349.7,391.9 L349.7,392.6 L350.4,392.6 L350.4,392.4 L351.1,392.4 L351.1,392.2 L351.8,392.2 L351.8,392.2 L352.5,392.2 L352.5,392.5 L353.2,392.5 L353.2,392.0 L353.9,392.0 L353.9,392.1 L354.6,392.1 L354.6,392.5 L355.3,392.5 L355.3,392.8 L356.0,392.8 L356.0,392.7 L356.7,392.7 L356.7,392.7 L357.4,392.7 L357.4,392.6 L358.1,392.6 L358.1,392.9 L358.8,392.9 L358.8,393.1 L359.5,393.1 L359.5,390.3 L360.2,390.3 L360.2,392.9 L360.9,392.9 L360.9,391.5 L361.6,391.5 L361.6,393.0 L362.3,393.0 L362.3,393.3 L363.0,393.3 L363.0,392.6 L363.7,392.6 L363.7,391.3 L364.4,391.3 L364.4,392.7 L365.1,392.7 L365.1,392.3 L365.8,392.3 L365.8,392.2 L366.5,392.2 L366.5,392.7 L367.2,392.7 L367.2,392.4 L367.9,392.4 L367.9,392.7 L368.6,392.7 L368.6,393.2 L369.3,393.2 L369.3,391.9 L370.0,391.9 L370.0,392.9 L370.7,392.9 L370.7,392.8 L371.4,392.8 L371.4,392.8 L372.1,392.8 L372.1,393.0 L372.8,393.0 L372.8,392.8 L373.5,392.8 L373.5,392.9 L374.2,392.9 L374.2,392.4 L374.9,392.4 L374.9,393.3 L375.6,393.3 L375.6,392.5 L376.3,392.5 L376.3,393.1 L377.0,393.1 L377.0,392.4 L377.7,392.4 L377.7,392.5 L378.4,392.5 L378.4,391.0 L379.1,391.0 L379.1,392.7 L379.8,392.7 L379.8,392.2 L380.5,392.2 L380.5,392.7 L381.2,392.7 L381.2,392.6 L381.9,392.6 L381.9,393.1 L382.6,393.1 L382.6,392.9 L383.3,392.9 L383.3,392.7 L384.0,392.7 L384.0,392.3 L384.7,392.3 L384.7,392.1 L385.4,392.1 L385.4,392.6 L386.1,392.6 L386.1,393.0 L386.8,393.0 L386.8,393.3 L387.5,393.3 L387.5,392.6 L388.2,392.6 L388.2,392.8 L388.9,392.8 L388.9,392.5 L389.6,392.5 L389.6,392.9 L390.3,392.9 L390.3,393.3 L391.0,393.3 L391.0,392.8 L391.7,392.8 L391.7,392.9 L392.4,392.9 L392.4,391.9 L393.1,391.9 L393.1,392.8 L393.8,392.8 L393.8,393.0 L394.5,393.0 L394.5,393.1 L395.2,393.1 L395.2,393.1 L395.9,393.1 L395.9,392.5 L396.6,392.5 L396.6,393.2 L397.3,393.2 L397.3,392.5 L398.0,392.5 L398.0,392.9 L398.7,392.9 L398.7,393.3 L399.4,393.3 L399.4,393.0 L400.1,393.0 L400.1,392.9 L400.8,392.9 L400.8,392.7 L401.5,392.7 L401.5,392.9 L402.2,392.9 L402.2,393.0 L402.9,393.0 L402.9,392.9 L403.6,392.9 L403.6,392.1 L404.3,392.1 L404.3,392.2 L405.0,392.2 L405.0,392.9 L405.7,392.9 L405.7,392.9 L406.4,392.9 L406.4,392.6 L407.1,392.6 L407.1,392.9 L407.8,392.9 L407.8,392.9 L408.5,392.9 L408.5,392.9 L409.2,392.9 L409.2,392.5 L409.9,392.5 L409.9,393.0 L410.6,393.0 L410.6,392.7 L411.3,392.7 L411.3,392.6 L412.0,392.6 L412.0,393.0 L412.7,393.0 L412.7,393.0 L413.4,393.0 L413.4,392.9 L414.1,392.9 L414.1,393.0 L414.8,393.0 L414.8,392.5 L415.5,392.5 L415.5,393.2 L416.2,393.2 L416.2,393.0 L416.9,393.0 L416.9,393.0 L417.6,393.0 L417.6,393.0 L418.3,393.0 L418.3,393.0 L419.0,393.0 L419.0,393.0 L419.7,393.0 L419.7,393.0 L420.4,393.0 L420.0,393.5 Z" fill="#585858" stroke="#000" stroke-width="1.0" stroke-linejoin="bevel"/>
<line x1="272.40" y1="393.50" x2="420.00" y2="393.50" stroke="#111" stroke-width="1.4" />
<line x1="272.40" y1="393.50" x2="272.40" y2="397.50" stroke="#222" stroke-width="0.9" />
<line x1="283.51" y1="393.50" x2="283.51" y2="395.70" stroke="#222" stroke-width="0.7" />
<line x1="290.01" y1="393.50" x2="290.01" y2="395.70" stroke="#222" stroke-width="0.7" />
<line x1="294.62" y1="393.50" x2="294.62" y2="395.70" stroke="#222" stroke-width="0.7" />
<line x1="298.19" y1="393.50" x2="298.19" y2="395.70" stroke="#222" stroke-width="0.7" />
<line x1="301.11" y1="393.50" x2="301.11" y2="395.70" stroke="#222" stroke-width="0.7" />
<line x1="303.58" y1="393.50" x2="303.58" y2="395.70" stroke="#222" stroke-width="0.7" />
<line x1="305.72" y1="393.50" x2="305.72" y2="395.70" stroke="#222" stroke-width="0.7" />
<line x1="307.61" y1="393.50" x2="307.61" y2="395.70" stroke="#222" stroke-width="0.7" />
<line x1="309.30" y1="393.50" x2="309.30" y2="397.50" stroke="#222" stroke-width="0.9" />
<line x1="320.41" y1="393.50" x2="320.41" y2="395.70" stroke="#222" stroke-width="0.7" />
<line x1="326.91" y1="393.50" x2="326.91" y2="395.70" stroke="#222" stroke-width="0.7" />
<line x1="331.52" y1="393.50" x2="331.52" y2="395.70" stroke="#222" stroke-width="0.7" />
<line x1="335.09" y1="393.50" x2="335.09" y2="395.70" stroke="#222" stroke-width="0.7" />
<line x1="338.01" y1="393.50" x2="338.01" y2="395.70" stroke="#222" stroke-width="0.7" />
<line x1="340.48" y1="393.50" x2="340.48" y2="395.70" stroke="#222" stroke-width="0.7" />
<line x1="342.62" y1="393.50" x2="342.62" y2="395.70" stroke="#222" stroke-width="0.7" />
<line x1="344.51" y1="393.50" x2="344.51" y2="395.70" stroke="#222" stroke-width="0.7" />
<line x1="346.20" y1="393.50" x2="346.20" y2="397.50" stroke="#222" stroke-width="0.9" />
<line x1="357.31" y1="393.50" x2="357.31" y2="395.70" stroke="#222" stroke-width="0.7" />
<line x1="363.81" y1="393.50" x2="363.81" y2="395.70" stroke="#222" stroke-width="0.7" />
<line x1="368.42" y1="393.50" x2="368.42" y2="395.70" stroke="#222" stroke-width="0.7" />
<line x1="371.99" y1="393.50" x2="371.99" y2="395.70" stroke="#222" stroke-width="0.7" />
<line x1="374.91" y1="393.50" x2="374.91" y2="395.70" stroke="#222" stroke-width="0.7" />
<line x1="377.38" y1="393.50" x2="377.38" y2="395.70" stroke="#222" stroke-width="0.7" />
<line x1="379.52" y1="393.50" x2="379.52" y2="395.70" stroke="#222" stroke-width="0.7" />
<line x1="381.41" y1="393.50" x2="381.41" y2="395.70" stroke="#222" stroke-width="0.7" />
<line x1="383.10" y1="393.50" x2="383.10" y2="397.50" stroke="#222" stroke-width="0.9" />
<line x1="394.21" y1="393.50" x2="394.21" y2="395.70" stroke="#222" stroke-width="0.7" />
<line x1="400.71" y1="393.50" x2="400.71" y2="395.70" stroke="#222" stroke-width="0.7" />
<line x1="405.32" y1="393.50" x2="405.32" y2="395.70" stroke="#222" stroke-width="0.7" />
<line x1="408.89" y1="393.50" x2="408.89" y2="395.70" stroke="#222" stroke-width="0.7" />
<line x1="411.81" y1="393.50" x2="411.81" y2="395.70" stroke="#222" stroke-width="0.7" />
<line x1="414.28" y1="393.50" x2="414.28" y2="395.70" stroke="#222" stroke-width="0.7" />
<line x1="416.42" y1="393.50" x2="416.42" y2="395.70" stroke="#222" stroke-width="0.7" />
<line x1="418.31" y1="393.50" x2="418.31" y2="395.70" stroke="#222" stroke-width="0.7" />
<line x1="420.00" y1="393.50" x2="420.00" y2="397.50" stroke="#222" stroke-width="0.9" />
<text x="271.4" y="404.8" font-size="6.4" font-family="Liberation Serif" font-weight="bold" text-anchor="middle" fill="#111">10<tspan dy="-3.4" font-size="4.8">0</tspan></text>
<text x="308.3" y="404.8" font-size="6.4" font-family="Liberation Serif" font-weight="bold" text-anchor="middle" fill="#111">10<tspan dy="-3.4" font-size="4.8">1</tspan></text>
<text x="345.2" y="404.8" font-size="6.4" font-family="Liberation Serif" font-weight="bold" text-anchor="middle" fill="#111">10<tspan dy="-3.4" font-size="4.8">2</tspan></text>
<text x="382.1" y="404.8" font-size="6.4" font-family="Liberation Serif" font-weight="bold" text-anchor="middle" fill="#111">10<tspan dy="-3.4" font-size="4.8">3</tspan></text>
<text x="419.0" y="404.8" font-size="6.4" font-family="Liberation Serif" font-weight="bold" text-anchor="middle" fill="#111">10<tspan dy="-3.4" font-size="4.8">4</tspan></text>
<line x1="272.40" y1="362.00" x2="420.00" y2="362.00" stroke="#555" stroke-width="1.0" />
<line x1="334.40" y1="355.50" x2="334.40" y2="369.00" stroke="#222" stroke-width="1.3" />
<line x1="420.00" y1="355.50" x2="420.00" y2="369.00" stroke="#666" stroke-width="1.0" />
<text x="306.9" y="370.5" font-size="6" font-family="Liberation Serif" text-anchor="middle" fill="#555">M1</text>
<text x="382.2" y="370.5" font-size="6" font-family="Liberation Serif" text-anchor="middle" fill="#555">M2</text>
<line x1="272.40" y1="334.20" x2="272.40" y2="394.00" stroke="#111" stroke-width="1.4" />
<line x1="270.80" y1="335.70" x2="272.40" y2="335.70" stroke="#333" stroke-width="0.7" />
<line x1="270.80" y1="338.90" x2="272.40" y2="338.90" stroke="#333" stroke-width="0.7" />
<line x1="270.80" y1="342.10" x2="272.40" y2="342.10" stroke="#333" stroke-width="0.7" />
<line x1="270.80" y1="345.30" x2="272.40" y2="345.30" stroke="#333" stroke-width="0.7" />
<line x1="270.80" y1="348.50" x2="272.40" y2="348.50" stroke="#333" stroke-width="0.7" />
<line x1="270.80" y1="351.70" x2="272.40" y2="351.70" stroke="#333" stroke-width="0.7" />
<line x1="270.80" y1="354.90" x2="272.40" y2="354.90" stroke="#333" stroke-width="0.7" />
<line x1="270.80" y1="358.10" x2="272.40" y2="358.10" stroke="#333" stroke-width="0.7" />
<line x1="270.80" y1="361.30" x2="272.40" y2="361.30" stroke="#333" stroke-width="0.7" />
<line x1="270.80" y1="364.50" x2="272.40" y2="364.50" stroke="#333" stroke-width="0.7" />
<line x1="270.80" y1="367.70" x2="272.40" y2="367.70" stroke="#333" stroke-width="0.7" />
<line x1="270.80" y1="370.90" x2="272.40" y2="370.90" stroke="#333" stroke-width="0.7" />
<line x1="270.80" y1="374.10" x2="272.40" y2="374.10" stroke="#333" stroke-width="0.7" />
<line x1="270.80" y1="377.30" x2="272.40" y2="377.30" stroke="#333" stroke-width="0.7" />
<line x1="270.80" y1="380.50" x2="272.40" y2="380.50" stroke="#333" stroke-width="0.7" />
<line x1="270.80" y1="383.70" x2="272.40" y2="383.70" stroke="#333" stroke-width="0.7" />
<line x1="270.80" y1="386.90" x2="272.40" y2="386.90" stroke="#333" stroke-width="0.7" />
<line x1="270.80" y1="390.10" x2="272.40" y2="390.10" stroke="#333" stroke-width="0.7" />
<line x1="272.40" y1="334.20" x2="420.00" y2="334.20" stroke="#111" stroke-width="1.4" />
<line x1="269.90" y1="334.20" x2="272.40" y2="334.20" stroke="#222" stroke-width="0.9" />
<text transform="translate(267.9,340.2) rotate(-90)" font-size="6.2" font-family="Liberation Serif" font-weight="bold" fill="#111">200</text>
<text transform="translate(267.9,395.0) rotate(-90)" font-size="6.2" font-family="Liberation Serif" font-weight="bold" fill="#111">0</text>
<text transform="translate(262.6,374.9) rotate(-90)" font-size="6.4" font-family="Liberation Serif" font-weight="bold" fill="#111">Counts</text>
<text transform="translate(328.00,333.13) scale(1.2204,1)" font-size="7.34" font-weight="bold" fill="#2a2a2a" >DHICD</text>
<text transform="translate(334.30,413.39) scale(1.0478,1)" font-size="5.64" font-weight="bold" fill="#333" >F4/80 PE</text>
<path d="M272.3,483.5 L272.6,478.7 L273.3,478.7 L273.3,478.2 L274.0,478.2 L274.0,477.2 L274.7,477.2 L274.7,477.6 L275.4,477.6 L275.4,477.5 L276.1,477.5 L276.1,476.9 L276.8,476.9 L276.8,478.0 L277.5,478.0 L277.5,476.3 L278.2,476.3 L278.2,476.4 L278.9,476.4 L278.9,476.6 L279.6,476.6 L279.6,475.8 L280.3,475.8 L280.3,476.5 L281.0,476.5 L281.0,476.0 L281.7,476.0 L281.7,475.4 L282.4,475.4 L282.4,477.1 L283.1,477.1 L283.1,475.8 L283.8,475.8 L283.8,474.0 L284.5,474.0 L284.5,475.8 L285.2,475.8 L285.2,475.2 L285.9,475.2 L285.9,474.4 L286.6,474.4 L286.6,474.9 L287.3,474.9 L287.3,473.0 L288.0,473.0 L288.0,473.4 L288.7,473.4 L288.7,472.8 L289.4,472.8 L289.4,472.5 L290.1,472.5 L290.1,474.3 L290.8,474.3 L290.8,473.2 L291.5,473.2 L291.5,472.0 L292.2,472.0 L292.2,475.1 L292.9,475.1 L292.9,474.2 L293.6,474.2 L293.6,473.0 L294.3,473.0 L294.3,471.9 L295.0,471.9 L295.0,472.4 L295.7,472.4 L295.7,473.8 L296.4,473.8 L296.4,474.1 L297.1,474.1 L297.1,473.2 L297.8,473.2 L297.8,473.2 L298.5,473.2 L298.5,472.4 L299.2,472.4 L299.2,473.4 L299.9,473.4 L299.9,471.7 L300.6,471.7 L300.6,472.8 L301.3,472.8 L301.3,472.2 L302.0,472.2 L302.0,472.9 L302.7,472.9 L302.7,473.0 L303.4,473.0 L303.4,470.1 L304.1,470.1 L304.1,472.7 L304.8,472.7 L304.8,470.9 L305.5,470.9 L305.5,473.3 L306.2,473.3 L306.2,472.9 L306.9,472.9 L306.9,474.1 L307.6,474.1 L307.6,472.0 L308.3,472.0 L308.3,471.6 L309.0,471.6 L309.0,474.0 L309.7,474.0 L309.7,472.4 L310.4,472.4 L310.4,472.6 L311.1,472.6 L311.1,473.9 L311.8,473.9 L311.8,468.7 L312.5,468.7 L312.5,473.2 L313.2,473.2 L313.2,473.4 L313.9,473.4 L313.9,472.8 L314.6,472.8 L314.6,474.1 L315.3,474.1 L315.3,472.8 L316.0,472.8 L316.0,473.4 L316.7,473.4 L316.7,474.5 L317.4,474.5 L317.4,475.4 L318.1,475.4 L318.1,476.0 L318.8,476.0 L318.8,475.6 L319.5,475.6 L319.5,475.4 L320.2,475.4 L320.2,476.4 L320.9,476.4 L320.9,476.4 L321.6,476.4 L321.6,476.9 L322.3,476.9 L322.3,477.4 L323.0,477.4 L323.0,477.7 L323.7,477.7 L323.7,477.9 L324.4,477.9 L324.4,477.0 L325.1,477.0 L325.1,478.0 L325.8,478.0 L325.8,479.6 L326.5,479.6 L326.5,479.1 L327.2,479.1 L327.2,478.8 L327.9,478.8 L327.9,478.4 L328.6,478.4 L328.6,479.2 L329.3,479.2 L329.3,478.7 L330.0,478.7 L330.0,477.9 L330.7,477.9 L330.7,479.5 L331.4,479.5 L331.4,478.4 L332.1,478.4 L332.1,478.1 L332.8,478.1 L332.8,479.6 L333.5,479.6 L333.5,479.5 L334.2,479.5 L334.2,479.3 L334.9,479.3 L334.9,479.1 L335.6,479.1 L335.6,479.3 L336.3,479.3 L336.3,480.3 L337.0,480.3 L337.0,480.2 L337.7,480.2 L337.7,480.6 L338.4,480.6 L338.4,479.6 L339.1,479.6 L339.1,480.0 L339.8,480.0 L339.8,479.5 L340.5,479.5 L340.5,479.5 L341.2,479.5 L341.2,480.5 L341.9,480.5 L341.9,480.6 L342.6,480.6 L342.6,480.1 L343.3,480.1 L343.3,480.1 L344.0,480.1 L344.0,480.4 L344.7,480.4 L344.7,480.5 L345.4,480.5 L345.4,481.2 L346.1,481.2 L346.1,480.9 L346.8,480.9 L346.8,480.8 L347.5,480.8 L347.5,481.7 L348.2,481.7 L348.2,480.4 L348.9,480.4 L348.9,481.1 L349.6,481.1 L349.6,481.0 L350.3,481.0 L350.3,482.0 L351.0,482.0 L351.0,481.0 L351.7,481.0 L351.7,481.5 L352.4,481.5 L352.4,480.5 L353.1,480.5 L353.1,481.6 L353.8,481.6 L353.8,480.5 L354.5,480.5 L354.5,481.6 L355.2,481.6 L355.2,481.3 L355.9,481.3 L355.9,481.1 L356.6,481.1 L356.6,481.2 L357.3,481.2 L357.3,481.9 L358.0,481.9 L358.0,481.9 L358.7,481.9 L358.7,481.2 L359.4,481.2 L359.4,481.3 L360.1,481.3 L360.1,480.6 L360.8,480.6 L360.8,481.7 L361.5,481.7 L361.5,481.2 L362.2,481.2 L362.2,481.9 L362.9,481.9 L362.9,481.5 L363.6,481.5 L363.6,482.4 L364.3,482.4 L364.3,481.1 L365.0,481.1 L365.0,479.9 L365.7,479.9 L365.7,482.7 L366.4,482.7 L366.4,480.6 L367.1,480.6 L367.1,481.4 L367.8,481.4 L367.8,481.6 L368.5,481.6 L368.5,480.9 L369.2,480.9 L369.2,480.6 L369.9,480.6 L369.9,481.9 L370.6,481.9 L370.6,480.9 L371.3,480.9 L371.3,481.4 L372.0,481.4 L372.0,481.5 L372.7,481.5 L372.7,481.0 L373.4,481.0 L373.4,481.5 L374.1,481.5 L374.1,481.4 L374.8,481.4 L374.8,479.8 L375.5,479.8 L375.5,482.2 L376.2,482.2 L376.2,480.9 L376.9,480.9 L376.9,481.5 L377.6,481.5 L377.6,481.9 L378.3,481.9 L378.3,482.5 L379.0,482.5 L379.0,481.2 L379.7,481.2 L379.7,481.7 L380.4,481.7 L380.4,481.9 L381.1,481.9 L381.1,481.9 L381.8,481.9 L381.8,481.7 L382.5,481.7 L382.5,481.2 L383.2,481.2 L383.2,479.4 L383.9,479.4 L383.9,482.3 L384.6,482.3 L384.6,481.5 L385.3,481.5 L385.3,482.2 L386.0,482.2 L386.0,481.1 L386.7,481.1 L386.7,481.2 L387.4,481.2 L387.4,482.7 L388.1,482.7 L388.1,481.8 L388.8,481.8 L388.8,481.5 L389.5,481.5 L389.5,481.9 L390.2,481.9 L390.2,481.9 L390.9,481.9 L390.9,481.9 L391.6,481.9 L391.6,482.5 L392.3,482.5 L392.3,481.8 L393.0,481.8 L393.0,481.7 L393.7,481.7 L393.7,481.7 L394.4,481.7 L394.4,481.8 L395.1,481.8 L395.1,481.6 L395.8,481.6 L395.8,481.6 L396.5,481.6 L396.5,481.9 L397.2,481.9 L397.2,482.7 L397.9,482.7 L397.9,479.6 L398.6,479.6 L398.6,481.5 L399.3,481.5 L399.3,482.3 L400.0,482.3 L400.0,481.5 L400.7,481.5 L400.7,481.3 L401.4,481.3 L401.4,481.8 L402.1,481.8 L402.1,482.4 L402.8,482.4 L402.8,482.2 L403.5,482.2 L403.5,481.8 L404.2,481.8 L404.2,481.7 L404.9,481.7 L404.9,482.0 L405.6,482.0 L405.6,481.2 L406.3,481.2 L406.3,481.5 L407.0,481.5 L407.0,482.5 L407.7,482.5 L407.7,482.0 L408.4,482.0 L408.4,481.6 L409.1,481.6 L409.1,481.7 L409.8,481.7 L409.8,481.6 L410.5,481.6 L410.5,482.3 L411.2,482.3 L411.2,482.4 L411.9,482.4 L411.9,481.5 L412.6,481.5 L412.6,482.1 L413.3,482.1 L413.3,482.1 L414.0,482.1 L414.0,482.2 L414.7,482.2 L414.7,479.7 L415.4,479.7 L415.4,482.5 L416.1,482.5 L416.1,482.7 L416.8,482.7 L416.8,482.2 L417.5,482.2 L417.5,482.7 L418.2,482.7 L418.2,482.6 L418.9,482.6 L418.9,482.2 L419.6,482.2 L419.0,483.5 Z" fill="#585858" stroke="#000" stroke-width="1.0" stroke-linejoin="bevel"/>
<line x1="272.30" y1="483.50" x2="419.00" y2="483.50" stroke="#111" stroke-width="1.4" />
<line x1="272.30" y1="483.50" x2="272.30" y2="487.50" stroke="#222" stroke-width="0.9" />
<line x1="283.34" y1="483.50" x2="283.34" y2="485.70" stroke="#222" stroke-width="0.7" />
<line x1="289.80" y1="483.50" x2="289.80" y2="485.70" stroke="#222" stroke-width="0.7" />
<line x1="294.38" y1="483.50" x2="294.38" y2="485.70" stroke="#222" stroke-width="0.7" />
<line x1="297.93" y1="483.50" x2="297.93" y2="485.70" stroke="#222" stroke-width="0.7" />
<line x1="300.84" y1="483.50" x2="300.84" y2="485.70" stroke="#222" stroke-width="0.7" />
<line x1="303.29" y1="483.50" x2="303.29" y2="485.70" stroke="#222" stroke-width="0.7" />
<line x1="305.42" y1="483.50" x2="305.42" y2="485.70" stroke="#222" stroke-width="0.7" />
<line x1="307.30" y1="483.50" x2="307.30" y2="485.70" stroke="#222" stroke-width="0.7" />
<line x1="308.98" y1="483.50" x2="308.98" y2="487.50" stroke="#222" stroke-width="0.9" />
<line x1="320.02" y1="483.50" x2="320.02" y2="485.70" stroke="#222" stroke-width="0.7" />
<line x1="326.47" y1="483.50" x2="326.47" y2="485.70" stroke="#222" stroke-width="0.7" />
<line x1="331.06" y1="483.50" x2="331.06" y2="485.70" stroke="#222" stroke-width="0.7" />
<line x1="334.61" y1="483.50" x2="334.61" y2="485.70" stroke="#222" stroke-width="0.7" />
<line x1="337.51" y1="483.50" x2="337.51" y2="485.70" stroke="#222" stroke-width="0.7" />
<line x1="339.97" y1="483.50" x2="339.97" y2="485.70" stroke="#222" stroke-width="0.7" />
<line x1="342.10" y1="483.50" x2="342.10" y2="485.70" stroke="#222" stroke-width="0.7" />
<line x1="343.97" y1="483.50" x2="343.97" y2="485.70" stroke="#222" stroke-width="0.7" />
<line x1="345.65" y1="483.50" x2="345.65" y2="487.50" stroke="#222" stroke-width="0.9" />
<line x1="356.69" y1="483.50" x2="356.69" y2="485.70" stroke="#222" stroke-width="0.7" />
<line x1="363.15" y1="483.50" x2="363.15" y2="485.70" stroke="#222" stroke-width="0.7" />
<line x1="367.73" y1="483.50" x2="367.73" y2="485.70" stroke="#222" stroke-width="0.7" />
<line x1="371.28" y1="483.50" x2="371.28" y2="485.70" stroke="#222" stroke-width="0.7" />
<line x1="374.19" y1="483.50" x2="374.19" y2="485.70" stroke="#222" stroke-width="0.7" />
<line x1="376.64" y1="483.50" x2="376.64" y2="485.70" stroke="#222" stroke-width="0.7" />
<line x1="378.77" y1="483.50" x2="378.77" y2="485.70" stroke="#222" stroke-width="0.7" />
<line x1="380.65" y1="483.50" x2="380.65" y2="485.70" stroke="#222" stroke-width="0.7" />
<line x1="382.32" y1="483.50" x2="382.32" y2="487.50" stroke="#222" stroke-width="0.9" />
<line x1="393.37" y1="483.50" x2="393.37" y2="485.70" stroke="#222" stroke-width="0.7" />
<line x1="399.82" y1="483.50" x2="399.82" y2="485.70" stroke="#222" stroke-width="0.7" />
<line x1="404.41" y1="483.50" x2="404.41" y2="485.70" stroke="#222" stroke-width="0.7" />
<line x1="407.96" y1="483.50" x2="407.96" y2="485.70" stroke="#222" stroke-width="0.7" />
<line x1="410.86" y1="483.50" x2="410.86" y2="485.70" stroke="#222" stroke-width="0.7" />
<line x1="413.32" y1="483.50" x2="413.32" y2="485.70" stroke="#222" stroke-width="0.7" />
<line x1="415.45" y1="483.50" x2="415.45" y2="485.70" stroke="#222" stroke-width="0.7" />
<line x1="417.32" y1="483.50" x2="417.32" y2="485.70" stroke="#222" stroke-width="0.7" />
<line x1="419.00" y1="483.50" x2="419.00" y2="487.50" stroke="#222" stroke-width="0.9" />
<text x="271.3" y="494.8" font-size="6.4" font-family="Liberation Serif" font-weight="bold" text-anchor="middle" fill="#111">10<tspan dy="-3.4" font-size="4.8">0</tspan></text>
<text x="308.0" y="494.8" font-size="6.4" font-family="Liberation Serif" font-weight="bold" text-anchor="middle" fill="#111">10<tspan dy="-3.4" font-size="4.8">1</tspan></text>
<text x="344.6" y="494.8" font-size="6.4" font-family="Liberation Serif" font-weight="bold" text-anchor="middle" fill="#111">10<tspan dy="-3.4" font-size="4.8">2</tspan></text>
<text x="381.3" y="494.8" font-size="6.4" font-family="Liberation Serif" font-weight="bold" text-anchor="middle" fill="#111">10<tspan dy="-3.4" font-size="4.8">3</tspan></text>
<text x="418.0" y="494.8" font-size="6.4" font-family="Liberation Serif" font-weight="bold" text-anchor="middle" fill="#111">10<tspan dy="-3.4" font-size="4.8">4</tspan></text>
<line x1="272.30" y1="450.90" x2="419.00" y2="450.90" stroke="#555" stroke-width="1.0" />
<line x1="334.40" y1="444.40" x2="334.40" y2="457.90" stroke="#222" stroke-width="1.3" />
<line x1="419.00" y1="444.40" x2="419.00" y2="457.90" stroke="#666" stroke-width="1.0" />
<text x="306.9" y="459.4" font-size="6" font-family="Liberation Serif" text-anchor="middle" fill="#555">M1</text>
<text x="381.7" y="459.4" font-size="6" font-family="Liberation Serif" text-anchor="middle" fill="#555">M2</text>
<line x1="272.30" y1="423.50" x2="272.30" y2="485.00" stroke="#111" stroke-width="1.4" />
<line x1="270.70" y1="425.00" x2="272.30" y2="425.00" stroke="#333" stroke-width="0.7" />
<line x1="270.70" y1="428.20" x2="272.30" y2="428.20" stroke="#333" stroke-width="0.7" />
<line x1="270.70" y1="431.40" x2="272.30" y2="431.40" stroke="#333" stroke-width="0.7" />
<line x1="270.70" y1="434.60" x2="272.30" y2="434.60" stroke="#333" stroke-width="0.7" />
<line x1="270.70" y1="437.80" x2="272.30" y2="437.80" stroke="#333" stroke-width="0.7" />
<line x1="270.70" y1="441.00" x2="272.30" y2="441.00" stroke="#333" stroke-width="0.7" />
<line x1="270.70" y1="444.20" x2="272.30" y2="444.20" stroke="#333" stroke-width="0.7" />
<line x1="270.70" y1="447.40" x2="272.30" y2="447.40" stroke="#333" stroke-width="0.7" />
<line x1="270.70" y1="450.60" x2="272.30" y2="450.60" stroke="#333" stroke-width="0.7" />
<line x1="270.70" y1="453.80" x2="272.30" y2="453.80" stroke="#333" stroke-width="0.7" />
<line x1="270.70" y1="457.00" x2="272.30" y2="457.00" stroke="#333" stroke-width="0.7" />
<line x1="270.70" y1="460.20" x2="272.30" y2="460.20" stroke="#333" stroke-width="0.7" />
<line x1="270.70" y1="463.40" x2="272.30" y2="463.40" stroke="#333" stroke-width="0.7" />
<line x1="270.70" y1="466.60" x2="272.30" y2="466.60" stroke="#333" stroke-width="0.7" />
<line x1="270.70" y1="469.80" x2="272.30" y2="469.80" stroke="#333" stroke-width="0.7" />
<line x1="270.70" y1="473.00" x2="272.30" y2="473.00" stroke="#333" stroke-width="0.7" />
<line x1="270.70" y1="476.20" x2="272.30" y2="476.20" stroke="#333" stroke-width="0.7" />
<line x1="270.70" y1="479.40" x2="272.30" y2="479.40" stroke="#333" stroke-width="0.7" />
<line x1="270.70" y1="482.60" x2="272.30" y2="482.60" stroke="#333" stroke-width="0.7" />
<line x1="269.80" y1="423.50" x2="272.30" y2="423.50" stroke="#222" stroke-width="0.9" />
<text transform="translate(267.8,429.5) rotate(-90)" font-size="6.2" font-family="Liberation Serif" font-weight="bold" fill="#111">200</text>
<text transform="translate(267.8,485.0) rotate(-90)" font-size="6.2" font-family="Liberation Serif" font-weight="bold" fill="#111">0</text>
<text transform="translate(262.5,464.5) rotate(-90)" font-size="6.4" font-family="Liberation Serif" font-weight="bold" fill="#111">Counts</text>
<text transform="translate(328.00,421.63) scale(1.2443,1)" font-size="7.20" font-weight="bold" fill="#2a2a2a" >DHICD</text>
<text transform="translate(333.75,503.39) scale(1.0478,1)" font-size="5.64" font-weight="bold" fill="#333" >F4/80 PE</text>
<path d="M272.3,577.0 L272.6,573.1 L273.3,573.1 L273.3,573.3 L274.0,573.3 L274.0,573.0 L274.7,573.0 L274.7,572.2 L275.4,572.2 L275.4,573.2 L276.1,573.2 L276.1,572.7 L276.8,572.7 L276.8,571.8 L277.5,571.8 L277.5,571.4 L278.2,571.4 L278.2,571.7 L278.9,571.7 L278.9,571.4 L279.6,571.4 L279.6,571.1 L280.3,571.1 L280.3,571.7 L281.0,571.7 L281.0,571.3 L281.7,571.3 L281.7,570.5 L282.4,570.5 L282.4,570.2 L283.1,570.2 L283.1,568.8 L283.8,568.8 L283.8,569.7 L284.5,569.7 L284.5,570.7 L285.2,570.7 L285.2,570.4 L285.9,570.4 L285.9,570.7 L286.6,570.7 L286.6,570.2 L287.3,570.2 L287.3,569.9 L288.0,569.9 L288.0,570.7 L288.7,570.7 L288.7,569.9 L289.4,569.9 L289.4,569.7 L290.1,569.7 L290.1,569.9 L290.8,569.9 L290.8,569.9 L291.5,569.9 L291.5,568.8 L292.2,568.8 L292.2,569.8 L292.9,569.8 L292.9,568.3 L293.6,568.3 L293.6,567.9 L294.3,567.9 L294.3,569.5 L295.0,569.5 L295.0,569.1 L295.7,569.1 L295.7,569.8 L296.4,569.8 L296.4,568.2 L297.1,568.2 L297.1,570.0 L297.8,570.0 L297.8,569.0 L298.5,569.0 L298.5,569.3 L299.2,569.3 L299.2,568.8 L299.9,568.8 L299.9,568.7 L300.6,568.7 L300.6,568.8 L301.3,568.8 L301.3,569.0 L302.0,569.0 L302.0,567.7 L302.7,567.7 L302.7,568.8 L303.4,568.8 L303.4,569.1 L304.1,569.1 L304.1,567.1 L304.8,567.1 L304.8,567.9 L305.5,567.9 L305.5,568.7 L306.2,568.7 L306.2,566.9 L306.9,566.9 L306.9,567.7 L307.6,567.7 L307.6,567.3 L308.3,567.3 L308.3,567.5 L309.0,567.5 L309.0,565.9 L309.7,565.9 L309.7,569.3 L310.4,569.3 L310.4,568.4 L311.1,568.4 L311.1,568.1 L311.8,568.1 L311.8,568.2 L312.5,568.2 L312.5,567.8 L313.2,567.8 L313.2,568.4 L313.9,568.4 L313.9,570.4 L314.6,570.4 L314.6,569.2 L315.3,569.2 L315.3,569.0 L316.0,569.0 L316.0,569.8 L316.7,569.8 L316.7,570.0 L317.4,570.0 L317.4,569.3 L318.1,569.3 L318.1,571.0 L318.8,571.0 L318.8,570.8 L319.5,570.8 L319.5,570.7 L320.2,570.7 L320.2,570.2 L320.9,570.2 L320.9,571.0 L321.6,571.0 L321.6,571.5 L322.3,571.5 L322.3,570.5 L323.0,570.5 L323.0,572.6 L323.7,572.6 L323.7,570.9 L324.4,570.9 L324.4,571.2 L325.1,571.2 L325.1,572.1 L325.8,572.1 L325.8,571.7 L326.5,571.7 L326.5,571.2 L327.2,571.2 L327.2,571.8 L327.9,571.8 L327.9,571.8 L328.6,571.8 L328.6,571.7 L329.3,571.7 L329.3,571.5 L330.0,571.5 L330.0,572.3 L330.7,572.3 L330.7,572.3 L331.4,572.3 L331.4,572.0 L332.1,572.0 L332.1,572.3 L332.8,572.3 L332.8,572.8 L333.5,572.8 L333.5,572.6 L334.2,572.6 L334.2,573.7 L334.9,573.7 L334.9,572.9 L335.6,572.9 L335.6,573.7 L336.3,573.7 L336.3,573.2 L337.0,573.2 L337.0,572.9 L337.7,572.9 L337.7,572.0 L338.4,572.0 L338.4,574.7 L339.1,574.7 L339.1,573.4 L339.8,573.4 L339.8,573.6 L340.5,573.6 L340.5,573.8 L341.2,573.8 L341.2,572.0 L341.9,572.0 L341.9,573.9 L342.6,573.9 L342.6,573.7 L343.3,573.7 L343.3,573.3 L344.0,573.3 L344.0,573.6 L344.7,573.6 L344.7,573.5 L345.4,573.5 L345.4,574.8 L346.1,574.8 L346.1,574.5 L346.8,574.5 L346.8,575.2 L347.5,575.2 L347.5,574.5 L348.2,574.5 L348.2,574.0 L348.9,574.0 L348.9,574.1 L349.6,574.1 L349.6,574.3 L350.3,574.3 L350.3,575.1 L351.0,575.1 L351.0,575.6 L351.7,575.6 L351.7,574.6 L352.4,574.6 L352.4,574.7 L353.1,574.7 L353.1,573.9 L353.8,573.9 L353.8,574.7 L354.5,574.7 L354.5,575.9 L355.2,575.9 L355.2,575.1 L355.9,575.1 L355.9,575.3 L356.6,575.3 L356.6,575.1 L357.3,575.1 L357.3,576.0 L358.0,576.0 L358.0,574.9 L358.7,574.9 L358.7,575.9 L359.4,575.9 L359.4,576.2 L360.1,576.2 L360.1,575.8 L360.8,575.8 L360.8,574.7 L361.5,574.7 L361.5,574.8 L362.2,574.8 L362.2,575.4 L362.9,575.4 L362.9,575.2 L363.6,575.2 L363.6,574.2 L364.3,574.2 L364.3,575.6 L365.0,575.6 L365.0,575.0 L365.7,575.0 L365.7,576.3 L366.4,576.3 L366.4,574.8 L367.1,574.8 L367.1,576.6 L367.8,576.6 L367.8,575.4 L368.5,575.4 L368.5,575.9 L369.2,575.9 L369.2,574.3 L369.9,574.3 L369.9,574.8 L370.6,574.8 L370.6,575.0 L371.3,575.0 L371.3,575.0 L372.0,575.0 L372.0,575.4 L372.7,575.4 L372.7,575.1 L373.4,575.1 L373.4,575.6 L374.1,575.6 L374.1,575.5 L374.8,575.5 L374.8,575.4 L375.5,575.4 L375.5,575.9 L376.2,575.9 L376.2,572.7 L376.9,572.7 L376.9,575.4 L377.6,575.4 L377.6,576.4 L378.3,576.4 L378.3,576.1 L379.0,576.1 L379.0,575.9 L379.7,575.9 L379.7,575.0 L380.4,575.0 L380.4,575.8 L381.1,575.8 L381.1,575.8 L381.8,575.8 L381.8,575.6 L382.5,575.6 L382.5,575.5 L383.2,575.5 L383.2,575.8 L383.9,575.8 L383.9,575.7 L384.6,575.7 L384.6,575.6 L385.3,575.6 L385.3,575.4 L386.0,575.4 L386.0,575.6 L386.7,575.6 L386.7,576.1 L387.4,576.1 L387.4,576.8 L388.1,576.8 L388.1,575.4 L388.8,575.4 L388.8,575.4 L389.5,575.4 L389.5,574.1 L390.2,574.1 L390.2,575.8 L390.9,575.8 L390.9,575.8 L391.6,575.8 L391.6,576.7 L392.3,576.7 L392.3,575.2 L393.0,575.2 L393.0,575.8 L393.7,575.8 L393.7,576.1 L394.4,576.1 L394.4,575.6 L395.1,575.6 L395.1,575.1 L395.8,575.1 L395.8,576.6 L396.5,576.6 L396.5,575.7 L397.2,575.7 L397.2,576.2 L397.9,576.2 L397.9,576.0 L398.6,576.0 L398.6,575.9 L399.3,575.9 L399.3,576.7 L400.0,576.7 L400.0,576.1 L400.7,576.1 L400.7,576.6 L401.4,576.6 L401.4,575.1 L402.1,575.1 L402.1,576.3 L402.8,576.3 L402.8,576.8 L403.5,576.8 L403.5,575.2 L404.2,575.2 L404.2,576.6 L404.9,576.6 L404.9,575.8 L405.6,575.8 L405.6,576.3 L406.3,576.3 L406.3,576.2 L407.0,576.2 L407.0,576.7 L407.7,576.7 L407.7,576.5 L408.4,576.5 L408.4,576.1 L409.1,576.1 L409.1,575.5 L409.8,575.5 L409.8,575.1 L410.5,575.1 L410.5,576.4 L411.2,576.4 L411.2,576.6 L411.9,576.6 L411.9,575.4 L412.6,575.4 L412.6,575.7 L413.3,575.7 L413.3,575.5 L414.0,575.5 L414.0,575.5 L414.7,575.5 L414.7,576.4 L415.4,576.4 L415.4,575.8 L416.1,575.8 L416.1,576.3 L416.8,576.3 L416.8,575.7 L417.5,575.7 L417.5,575.5 L418.2,575.5 L418.2,576.6 L418.9,576.6 L418.9,574.7 L419.6,574.7 L419.0,577.0 Z" fill="#585858" stroke="#000" stroke-width="1.0" stroke-linejoin="bevel"/>
<line x1="272.30" y1="577.00" x2="419.00" y2="577.00" stroke="#111" stroke-width="1.4" />
<line x1="272.30" y1="577.00" x2="272.30" y2="581.00" stroke="#222" stroke-width="0.9" />
<line x1="283.34" y1="577.00" x2="283.34" y2="579.20" stroke="#222" stroke-width="0.7" />
<line x1="289.80" y1="577.00" x2="289.80" y2="579.20" stroke="#222" stroke-width="0.7" />
<line x1="294.38" y1="577.00" x2="294.38" y2="579.20" stroke="#222" stroke-width="0.7" />
<line x1="297.93" y1="577.00" x2="297.93" y2="579.20" stroke="#222" stroke-width="0.7" />
<line x1="300.84" y1="577.00" x2="300.84" y2="579.20" stroke="#222" stroke-width="0.7" />
<line x1="303.29" y1="577.00" x2="303.29" y2="579.20" stroke="#222" stroke-width="0.7" />
<line x1="305.42" y1="577.00" x2="305.42" y2="579.20" stroke="#222" stroke-width="0.7" />
<line x1="307.30" y1="577.00" x2="307.30" y2="579.20" stroke="#222" stroke-width="0.7" />
<line x1="308.98" y1="577.00" x2="308.98" y2="581.00" stroke="#222" stroke-width="0.9" />
<line x1="320.02" y1="577.00" x2="320.02" y2="579.20" stroke="#222" stroke-width="0.7" />
<line x1="326.47" y1="577.00" x2="326.47" y2="579.20" stroke="#222" stroke-width="0.7" />
<line x1="331.06" y1="577.00" x2="331.06" y2="579.20" stroke="#222" stroke-width="0.7" />
<line x1="334.61" y1="577.00" x2="334.61" y2="579.20" stroke="#222" stroke-width="0.7" />
<line x1="337.51" y1="577.00" x2="337.51" y2="579.20" stroke="#222" stroke-width="0.7" />
<line x1="339.97" y1="577.00" x2="339.97" y2="579.20" stroke="#222" stroke-width="0.7" />
<line x1="342.10" y1="577.00" x2="342.10" y2="579.20" stroke="#222" stroke-width="0.7" />
<line x1="343.97" y1="577.00" x2="343.97" y2="579.20" stroke="#222" stroke-width="0.7" />
<line x1="345.65" y1="577.00" x2="345.65" y2="581.00" stroke="#222" stroke-width="0.9" />
<line x1="356.69" y1="577.00" x2="356.69" y2="579.20" stroke="#222" stroke-width="0.7" />
<line x1="363.15" y1="577.00" x2="363.15" y2="579.20" stroke="#222" stroke-width="0.7" />
<line x1="367.73" y1="577.00" x2="367.73" y2="579.20" stroke="#222" stroke-width="0.7" />
<line x1="371.28" y1="577.00" x2="371.28" y2="579.20" stroke="#222" stroke-width="0.7" />
<line x1="374.19" y1="577.00" x2="374.19" y2="579.20" stroke="#222" stroke-width="0.7" />
<line x1="376.64" y1="577.00" x2="376.64" y2="579.20" stroke="#222" stroke-width="0.7" />
<line x1="378.77" y1="577.00" x2="378.77" y2="579.20" stroke="#222" stroke-width="0.7" />
<line x1="380.65" y1="577.00" x2="380.65" y2="579.20" stroke="#222" stroke-width="0.7" />
<line x1="382.32" y1="577.00" x2="382.32" y2="581.00" stroke="#222" stroke-width="0.9" />
<line x1="393.37" y1="577.00" x2="393.37" y2="579.20" stroke="#222" stroke-width="0.7" />
<line x1="399.82" y1="577.00" x2="399.82" y2="579.20" stroke="#222" stroke-width="0.7" />
<line x1="404.41" y1="577.00" x2="404.41" y2="579.20" stroke="#222" stroke-width="0.7" />
<line x1="407.96" y1="577.00" x2="407.96" y2="579.20" stroke="#222" stroke-width="0.7" />
<line x1="410.86" y1="577.00" x2="410.86" y2="579.20" stroke="#222" stroke-width="0.7" />
<line x1="413.32" y1="577.00" x2="413.32" y2="579.20" stroke="#222" stroke-width="0.7" />
<line x1="415.45" y1="577.00" x2="415.45" y2="579.20" stroke="#222" stroke-width="0.7" />
<line x1="417.32" y1="577.00" x2="417.32" y2="579.20" stroke="#222" stroke-width="0.7" />
<line x1="419.00" y1="577.00" x2="419.00" y2="581.00" stroke="#222" stroke-width="0.9" />
<text x="271.3" y="588.3" font-size="6.4" font-family="Liberation Serif" font-weight="bold" text-anchor="middle" fill="#111">10<tspan dy="-3.4" font-size="4.8">0</tspan></text>
<text x="308.0" y="588.3" font-size="6.4" font-family="Liberation Serif" font-weight="bold" text-anchor="middle" fill="#111">10<tspan dy="-3.4" font-size="4.8">1</tspan></text>
<text x="344.6" y="588.3" font-size="6.4" font-family="Liberation Serif" font-weight="bold" text-anchor="middle" fill="#111">10<tspan dy="-3.4" font-size="4.8">2</tspan></text>
<text x="381.3" y="588.3" font-size="6.4" font-family="Liberation Serif" font-weight="bold" text-anchor="middle" fill="#111">10<tspan dy="-3.4" font-size="4.8">3</tspan></text>
<text x="418.0" y="588.3" font-size="6.4" font-family="Liberation Serif" font-weight="bold" text-anchor="middle" fill="#111">10<tspan dy="-3.4" font-size="4.8">4</tspan></text>
<line x1="272.30" y1="545.70" x2="419.00" y2="545.70" stroke="#555" stroke-width="1.0" />
<line x1="334.40" y1="539.20" x2="334.40" y2="552.70" stroke="#222" stroke-width="1.3" />
<line x1="419.00" y1="539.20" x2="419.00" y2="552.70" stroke="#666" stroke-width="1.0" />
<text x="306.9" y="554.2" font-size="6" font-family="Liberation Serif" text-anchor="middle" fill="#555">M1</text>
<text x="381.7" y="554.2" font-size="6" font-family="Liberation Serif" text-anchor="middle" fill="#555">M2</text>
<line x1="272.30" y1="518.00" x2="272.30" y2="579.00" stroke="#111" stroke-width="1.4" />
<line x1="270.70" y1="519.50" x2="272.30" y2="519.50" stroke="#333" stroke-width="0.7" />
<line x1="270.70" y1="522.70" x2="272.30" y2="522.70" stroke="#333" stroke-width="0.7" />
<line x1="270.70" y1="525.90" x2="272.30" y2="525.90" stroke="#333" stroke-width="0.7" />
<line x1="270.70" y1="529.10" x2="272.30" y2="529.10" stroke="#333" stroke-width="0.7" />
<line x1="270.70" y1="532.30" x2="272.30" y2="532.30" stroke="#333" stroke-width="0.7" />
<line x1="270.70" y1="535.50" x2="272.30" y2="535.50" stroke="#333" stroke-width="0.7" />
<line x1="270.70" y1="538.70" x2="272.30" y2="538.70" stroke="#333" stroke-width="0.7" />
<line x1="270.70" y1="541.90" x2="272.30" y2="541.90" stroke="#333" stroke-width="0.7" />
<line x1="270.70" y1="545.10" x2="272.30" y2="545.10" stroke="#333" stroke-width="0.7" />
<line x1="270.70" y1="548.30" x2="272.30" y2="548.30" stroke="#333" stroke-width="0.7" />
<line x1="270.70" y1="551.50" x2="272.30" y2="551.50" stroke="#333" stroke-width="0.7" />
<line x1="270.70" y1="554.70" x2="272.30" y2="554.70" stroke="#333" stroke-width="0.7" />
<line x1="270.70" y1="557.90" x2="272.30" y2="557.90" stroke="#333" stroke-width="0.7" />
<line x1="270.70" y1="561.10" x2="272.30" y2="561.10" stroke="#333" stroke-width="0.7" />
<line x1="270.70" y1="564.30" x2="272.30" y2="564.30" stroke="#333" stroke-width="0.7" />
<line x1="270.70" y1="567.50" x2="272.30" y2="567.50" stroke="#333" stroke-width="0.7" />
<line x1="270.70" y1="570.70" x2="272.30" y2="570.70" stroke="#333" stroke-width="0.7" />
<line x1="270.70" y1="573.90" x2="272.30" y2="573.90" stroke="#333" stroke-width="0.7" />
<line x1="270.70" y1="577.10" x2="272.30" y2="577.10" stroke="#333" stroke-width="0.7" />
<line x1="269.80" y1="518.00" x2="272.30" y2="518.00" stroke="#222" stroke-width="0.9" />
<text transform="translate(267.8,524.0) rotate(-90)" font-size="6.2" font-family="Liberation Serif" font-weight="bold" fill="#111">200</text>
<text transform="translate(267.8,578.5) rotate(-90)" font-size="6.2" font-family="Liberation Serif" font-weight="bold" fill="#111">0</text>
<text transform="translate(262.5,558.5) rotate(-90)" font-size="6.4" font-family="Liberation Serif" font-weight="bold" fill="#111">Counts</text>
<text transform="translate(328.00,515.23) scale(1.2443,1)" font-size="7.20" font-weight="bold" fill="#2a2a2a" >DHICD</text>
<text transform="translate(333.75,596.89) scale(1.0478,1)" font-size="5.64" font-weight="bold" fill="#333" >F4/80 PE</text>
<text transform="translate(177.84,69.97) scale(0.9713,1)" font-size="22.74" font-weight="bold" fill="#000" >0.5%</text>
<text transform="translate(184.29,171.07) scale(0.9915,1)" font-size="23.45" font-weight="bold" fill="#000" >99%</text>
<text transform="translate(184.70,261.07) scale(1.0002,1)" font-size="22.88" font-weight="bold" fill="#000" >99%</text>
<text transform="translate(182.00,351.27) scale(1.0064,1)" font-size="22.74" font-weight="bold" fill="#000" >99%</text>
<text transform="translate(182.30,449.67) scale(0.9695,1)" font-size="23.45" font-weight="bold" fill="#000" >98%</text>
<text transform="translate(183.41,539.97) scale(0.9974,1)" font-size="22.74" font-weight="bold" fill="#000" >99%</text>
<text transform="translate(361.91,67.02) scale(0.9869,1)" font-size="22.30" font-weight="bold" fill="#000" >1.4%</text>
<text transform="translate(366.46,171.99) scale(1.0861,1)" font-size="20.90" font-weight="bold" fill="#000" >46%</text>
<text transform="translate(369.30,261.97) scale(1.0064,1)" font-size="22.74" font-weight="bold" fill="#000" >28%</text>
<text transform="translate(379.64,358.82) scale(0.9696,1)" font-size="23.01" font-weight="bold" fill="#000" >7%</text>
<text transform="translate(379.61,444.67) scale(0.9733,1)" font-size="22.95" font-weight="bold" fill="#000" >5%</text>
<text transform="translate(370.75,539.92) scale(1.0311,1)" font-size="22.30" font-weight="bold" fill="#000" >11%</text>
<text transform="translate(2.57,707.20) scale(0.9696,1)" font-size="40.41" font-weight="bold" fill="#000" >B</text>
<text transform="translate(20.27,1053.94) rotate(-90) scale(0.9482,1)" font-size="22.72" font-weight="bold" fill="#000">Thymidine Incorporation ( cpm)</text>
<line x1="96.50" y1="755.06" x2="96.50" y2="1054.80" stroke="#000" stroke-width="1.6" />
<line x1="91.20" y1="1054.00" x2="517.00" y2="1054.00" stroke="#000" stroke-width="1.8" />
<line x1="91.20" y1="1054.00" x2="96.50" y2="1054.00" stroke="#000" stroke-width="1.4" />
<text transform="translate(75.74,1059.75) scale(1.0454,1)" font-size="14.97" font-weight="bold" fill="#000" >0</text>
<line x1="91.20" y1="1020.84" x2="96.50" y2="1020.84" stroke="#000" stroke-width="1.4" />
<text transform="translate(40.92,1026.59) scale(1.0454,1)" font-size="14.97" font-weight="bold" fill="#000" >20000</text>
<line x1="91.20" y1="987.68" x2="96.50" y2="987.68" stroke="#000" stroke-width="1.4" />
<text transform="translate(40.92,993.43) scale(1.0454,1)" font-size="14.97" font-weight="bold" fill="#000" >40000</text>
<line x1="91.20" y1="954.52" x2="96.50" y2="954.52" stroke="#000" stroke-width="1.4" />
<text transform="translate(40.92,960.27) scale(1.0454,1)" font-size="14.97" font-weight="bold" fill="#000" >60000</text>
<line x1="91.20" y1="921.36" x2="96.50" y2="921.36" stroke="#000" stroke-width="1.4" />
<text transform="translate(40.92,927.11) scale(1.0454,1)" font-size="14.97" font-weight="bold" fill="#000" >80000</text>
<line x1="91.20" y1="888.20" x2="96.50" y2="888.20" stroke="#000" stroke-width="1.4" />
<text transform="translate(32.21,893.95) scale(1.0454,1)" font-size="14.97" font-weight="bold" fill="#000" >100000</text>
<line x1="91.20" y1="855.04" x2="96.50" y2="855.04" stroke="#000" stroke-width="1.4" />
<text transform="translate(32.21,860.79) scale(1.0454,1)" font-size="14.97" font-weight="bold" fill="#000" >120000</text>
<line x1="91.20" y1="821.88" x2="96.50" y2="821.88" stroke="#000" stroke-width="1.4" />
<text transform="translate(32.21,827.63) scale(1.0454,1)" font-size="14.97" font-weight="bold" fill="#000" >140000</text>
<line x1="91.20" y1="788.72" x2="96.50" y2="788.72" stroke="#000" stroke-width="1.4" />
<text transform="translate(32.21,794.47) scale(1.0454,1)" font-size="14.97" font-weight="bold" fill="#000" >160000</text>
<line x1="91.20" y1="755.56" x2="96.50" y2="755.56" stroke="#000" stroke-width="1.4" />
<text transform="translate(32.21,761.31) scale(1.0454,1)" font-size="14.97" font-weight="bold" fill="#000" >180000</text>
<defs>
<pattern id="dots" patternUnits="userSpaceOnUse" width="8" height="7.95" x="127.30" y="1047.30">
<circle cx="1" cy="1" r="0.85" fill="#111"/><circle cx="5" cy="4.975" r="0.85" fill="#111"/>
</pattern>
<pattern id="dotsG" patternUnits="userSpaceOnUse" width="8" height="7.95" x="273.50" y="1016.80">
<circle cx="1" cy="1" r="0.85" fill="#111"/><circle cx="5" cy="4.975" r="0.85" fill="#111"/>
</pattern>
<pattern id="dotsM" patternUnits="userSpaceOnUse" width="8" height="7.95" x="423.50" y="882.50">
<circle cx="1" cy="1" r="0.85" fill="#111"/><circle cx="5" cy="4.975" r="0.85" fill="#111"/>
</pattern>
<pattern id="hatch" patternUnits="userSpaceOnUse" width="4" height="4">
<path d="M-1,-1 L5,5 M-1,3 L1,5 M3,-1 L5,1" stroke="#111" stroke-width="1.2"/>
</pattern>
<pattern id="grid" patternUnits="userSpaceOnUse" width="8" height="7.9" x="198.70" y="1042.60">
<path d="M0.7,0 V7.9 M0,0.7 H8" stroke="#111" stroke-width="1.4" fill="none"/>
</pattern>
<pattern id="gridM" patternUnits="userSpaceOnUse" width="8" height="7.9" x="498.90" y="871.60">
<path d="M0.7,0 V7.9 M0,0.7 H8" stroke="#111" stroke-width="1.4" fill="none"/>
</pattern>
<pattern id="gridG" patternUnits="userSpaceOnUse" width="8" height="7.9" x="348.80" y="905.50">
<path d="M0.7,0 V7.9 M0,0.7 H8" stroke="#111" stroke-width="1.4" fill="none"/>
</pattern>
</defs>
<rect x="98.55" y="1047.65" width="20.30" height="6.35" fill="#c4c4c4" stroke="#000" stroke-width="1.5"/>
<rect x="122.30" y="1043.80" width="21.90" height="10.20" fill="#fff" />
<rect x="122.65" y="1044.05" width="21.20" height="9.95" fill="url(#dots)" stroke="#000" stroke-width="1.5"/>
<rect x="148.05" y="1014.65" width="20.40" height="39.35" fill="#fff" stroke="#000" stroke-width="1.5"/>
<rect x="172.30" y="1020.60" width="21.20" height="33.40" fill="#fff" />
<rect x="172.65" y="1020.85" width="20.50" height="33.15" fill="url(#hatch)" stroke="#000" stroke-width="1.5"/>
<rect x="196.70" y="1037.10" width="21.20" height="16.90" fill="#fff" />
<rect x="197.05" y="1037.35" width="20.50" height="16.65" fill="url(#grid)" stroke="#000" stroke-width="1.5"/>
<rect x="246.85" y="1022.35" width="20.10" height="31.65" fill="#c4c4c4" stroke="#000" stroke-width="1.5"/>
<rect x="271.00" y="1009.60" width="21.30" height="44.40" fill="#fff" />
<rect x="271.35" y="1009.85" width="20.60" height="44.15" fill="url(#dotsG)" stroke="#000" stroke-width="1.5"/>
<rect x="295.95" y="849.25" width="20.40" height="204.75" fill="#fff" stroke="#000" stroke-width="1.5"/>
<rect x="320.50" y="849.40" width="21.00" height="204.60" fill="#fff" />
<rect x="320.85" y="849.65" width="20.30" height="204.35" fill="url(#hatch)" stroke="#000" stroke-width="1.5"/>
<rect x="345.40" y="904.80" width="20.80" height="149.20" fill="#fff" />
<rect x="345.75" y="905.05" width="20.10" height="148.95" fill="url(#gridG)" stroke="#000" stroke-width="1.5"/>
<rect x="395.15" y="841.25" width="20.00" height="212.75" fill="#c4c4c4" stroke="#000" stroke-width="1.5"/>
<rect x="419.30" y="838.70" width="20.70" height="215.30" fill="#fff" />
<rect x="419.65" y="838.95" width="20.00" height="215.05" fill="url(#dotsM)" stroke="#000" stroke-width="1.5"/>
<rect x="444.15" y="849.95" width="20.90" height="204.05" fill="#fff" stroke="#000" stroke-width="1.5"/>
<rect x="468.90" y="806.20" width="21.00" height="247.80" fill="#fff" />
<rect x="469.25" y="806.45" width="20.30" height="247.55" fill="url(#hatch)" stroke="#000" stroke-width="1.5"/>
<rect x="493.40" y="869.40" width="21.00" height="184.60" fill="#fff" />
<rect x="493.75" y="869.65" width="20.30" height="184.35" fill="url(#gridM)" stroke="#000" stroke-width="1.5"/>
<line x1="108.70" y1="1046.80" x2="108.70" y2="1048.20" stroke="#333" stroke-width="1.0" />
<line x1="106.30" y1="1046.80" x2="111.10" y2="1046.80" stroke="#333" stroke-width="1.1" />
<line x1="106.30" y1="1048.20" x2="111.10" y2="1048.20" stroke="#333" stroke-width="1.1" />
<line x1="133.25" y1="1042.50" x2="133.25" y2="1045.40" stroke="#333" stroke-width="1.0" />
<line x1="130.85" y1="1042.50" x2="135.65" y2="1042.50" stroke="#333" stroke-width="1.1" />
<line x1="130.85" y1="1045.40" x2="135.65" y2="1045.40" stroke="#333" stroke-width="1.1" />
<line x1="158.25" y1="1004.80" x2="158.25" y2="1024.40" stroke="#333" stroke-width="1.0" />
<line x1="155.85" y1="1004.80" x2="160.65" y2="1004.80" stroke="#333" stroke-width="1.1" />
<line x1="155.85" y1="1024.40" x2="160.65" y2="1024.40" stroke="#333" stroke-width="1.1" />
<line x1="182.90" y1="1012.30" x2="182.90" y2="1028.00" stroke="#333" stroke-width="1.0" />
<line x1="180.50" y1="1012.30" x2="185.30" y2="1012.30" stroke="#333" stroke-width="1.1" />
<line x1="180.50" y1="1028.00" x2="185.30" y2="1028.00" stroke="#333" stroke-width="1.1" />
<line x1="207.30" y1="1036.40" x2="207.30" y2="1037.80" stroke="#333" stroke-width="1.0" />
<line x1="204.90" y1="1036.40" x2="209.70" y2="1036.40" stroke="#333" stroke-width="1.1" />
<line x1="204.90" y1="1037.80" x2="209.70" y2="1037.80" stroke="#333" stroke-width="1.1" />
<line x1="256.90" y1="1011.90" x2="256.90" y2="1032.50" stroke="#333" stroke-width="1.0" />
<line x1="254.50" y1="1011.90" x2="259.30" y2="1011.90" stroke="#333" stroke-width="1.1" />
<line x1="254.50" y1="1032.50" x2="259.30" y2="1032.50" stroke="#333" stroke-width="1.1" />
<line x1="281.65" y1="1004.60" x2="281.65" y2="1014.80" stroke="#333" stroke-width="1.0" />
<line x1="279.25" y1="1004.60" x2="284.05" y2="1004.60" stroke="#333" stroke-width="1.1" />
<line x1="279.25" y1="1014.80" x2="284.05" y2="1014.80" stroke="#333" stroke-width="1.1" />
<line x1="306.15" y1="824.00" x2="306.15" y2="874.40" stroke="#333" stroke-width="1.0" />
<line x1="303.75" y1="824.00" x2="308.55" y2="824.00" stroke="#333" stroke-width="1.1" />
<line x1="303.75" y1="874.40" x2="308.55" y2="874.40" stroke="#333" stroke-width="1.1" />
<line x1="331.00" y1="826.30" x2="331.00" y2="873.50" stroke="#333" stroke-width="1.0" />
<line x1="328.60" y1="826.30" x2="333.40" y2="826.30" stroke="#333" stroke-width="1.1" />
<line x1="328.60" y1="873.50" x2="333.40" y2="873.50" stroke="#333" stroke-width="1.1" />
<line x1="355.80" y1="892.30" x2="355.80" y2="917.70" stroke="#333" stroke-width="1.0" />
<line x1="353.40" y1="892.30" x2="358.20" y2="892.30" stroke="#333" stroke-width="1.1" />
<line x1="353.40" y1="917.70" x2="358.20" y2="917.70" stroke="#333" stroke-width="1.1" />
<line x1="405.15" y1="775.70" x2="405.15" y2="906.20" stroke="#333" stroke-width="1.0" />
<line x1="402.75" y1="775.70" x2="407.55" y2="775.70" stroke="#333" stroke-width="1.1" />
<line x1="402.75" y1="906.20" x2="407.55" y2="906.20" stroke="#333" stroke-width="1.1" />
<line x1="429.65" y1="800.20" x2="429.65" y2="877.40" stroke="#333" stroke-width="1.0" />
<line x1="427.25" y1="800.20" x2="432.05" y2="800.20" stroke="#333" stroke-width="1.1" />
<line x1="427.25" y1="877.40" x2="432.05" y2="877.40" stroke="#333" stroke-width="1.1" />
<line x1="454.60" y1="832.60" x2="454.60" y2="867.70" stroke="#333" stroke-width="1.0" />
<line x1="452.20" y1="832.60" x2="457.00" y2="832.60" stroke="#333" stroke-width="1.1" />
<line x1="452.20" y1="867.70" x2="457.00" y2="867.70" stroke="#333" stroke-width="1.1" />
<line x1="479.40" y1="772.50" x2="479.40" y2="840.20" stroke="#333" stroke-width="1.0" />
<line x1="477.00" y1="772.50" x2="481.80" y2="772.50" stroke="#333" stroke-width="1.1" />
<line x1="477.00" y1="840.20" x2="481.80" y2="840.20" stroke="#333" stroke-width="1.1" />
<line x1="503.90" y1="862.80" x2="503.90" y2="876.30" stroke="#333" stroke-width="1.0" />
<line x1="501.50" y1="862.80" x2="506.30" y2="862.80" stroke="#333" stroke-width="1.1" />
<line x1="501.50" y1="876.30" x2="506.30" y2="876.30" stroke="#333" stroke-width="1.1" />
<text transform="translate(153.43,1007.79) scale(0.9440,1)" font-size="23.39" font-weight="bold" fill="#000" >*</text>
<text transform="translate(175.12,1014.22) scale(1.1083,1)" font-size="22.85" font-weight="bold" fill="#000" >**</text>
<text transform="translate(198.62,1036.91) scale(1.1084,1)" font-size="23.12" font-weight="bold" fill="#000" >***</text>
<text transform="translate(302.89,817.60) scale(0.9574,1)" font-size="24.96" font-weight="bold" fill="#000" stroke="#000" stroke-width="0.7">#</text>
<text transform="translate(325.39,817.60) scale(0.9651,1)" font-size="24.96" font-weight="bold" fill="#000" stroke="#000" stroke-width="0.7">#</text>
<text transform="translate(350.39,885.60) scale(0.9375,1)" font-size="25.70" font-weight="bold" fill="#000" stroke="#000" stroke-width="0.7">#</text>
<line x1="387.50" y1="760.40" x2="514.60" y2="760.40" stroke="#000" stroke-width="2.6" />
<line x1="388.60" y1="747.00" x2="388.60" y2="771.20" stroke="#000" stroke-width="2.6" />
<line x1="513.60" y1="747.00" x2="513.60" y2="771.20" stroke="#000" stroke-width="2.6" />
<text transform="translate(444.81,755.04) scale(1.0206,1)" font-size="15.96" font-weight="bold" fill="#000" >NS</text>
<text transform="translate(114.87,1120.09) rotate(-90) scale(1.1781,1)" font-size="16.36" font-weight="bold" fill="#000">MIEG3</text>
<text transform="translate(140.00,1088.02) rotate(-90) scale(0.9994,1)" font-size="16.86" font-weight="bold" fill="#000">WT</text>
<text transform="translate(162.39,1107.24) rotate(-90) scale(1.1276,1)" font-size="16.38" font-weight="bold" fill="#000">E76K</text>
<text transform="translate(187.74,1108.55) rotate(-90) scale(1.1417,1)" font-size="16.38" font-weight="bold" fill="#000">D61V</text>
<text transform="translate(213.69,1108.58) rotate(-90) scale(1.1636,1)" font-size="16.38" font-weight="bold" fill="#000">D61Y</text>
<text transform="translate(263.82,1119.59) rotate(-90) scale(1.1761,1)" font-size="16.36" font-weight="bold" fill="#000">MIEG3</text>
<text transform="translate(287.90,1088.72) rotate(-90) scale(1.0071,1)" font-size="16.86" font-weight="bold" fill="#000">WT</text>
<text transform="translate(312.64,1107.45) rotate(-90) scale(1.1376,1)" font-size="16.38" font-weight="bold" fill="#000">E76K</text>
<text transform="translate(336.94,1108.78) rotate(-90) scale(1.1694,1)" font-size="16.38" font-weight="bold" fill="#000">D61V</text>
<text transform="translate(359.44,1108.79) rotate(-90) scale(1.1737,1)" font-size="16.38" font-weight="bold" fill="#000">D61Y</text>
<text transform="translate(411.02,1119.90) rotate(-90) scale(1.1863,1)" font-size="16.36" font-weight="bold" fill="#000">MIEG3</text>
<text transform="translate(436.80,1090.02) rotate(-90) scale(0.9994,1)" font-size="16.86" font-weight="bold" fill="#000">WT</text>
<text transform="translate(456.44,1106.84) rotate(-90) scale(1.1301,1)" font-size="16.38" font-weight="bold" fill="#000">E76K</text>
<text transform="translate(484.34,1106.82) rotate(-90) scale(1.1090,1)" font-size="16.38" font-weight="bold" fill="#000">D61V</text>
<text transform="translate(511.04,1106.82) rotate(-90) scale(1.1132,1)" font-size="16.38" font-weight="bold" fill="#000">D61Y</text>
<line x1="95.60" y1="1145.30" x2="221.20" y2="1145.30" stroke="#000" stroke-width="3.0" />
<line x1="96.90" y1="1133.80" x2="96.90" y2="1157.40" stroke="#000" stroke-width="3.0" />
<line x1="219.90" y1="1133.80" x2="219.90" y2="1157.40" stroke="#000" stroke-width="3.0" />
<line x1="244.30" y1="1145.30" x2="369.20" y2="1145.30" stroke="#000" stroke-width="3.0" />
<line x1="245.60" y1="1133.80" x2="245.60" y2="1157.40" stroke="#000" stroke-width="3.0" />
<line x1="367.90" y1="1133.80" x2="367.90" y2="1157.40" stroke="#000" stroke-width="3.0" />
<line x1="392.40" y1="1145.30" x2="515.70" y2="1145.30" stroke="#000" stroke-width="3.0" />
<line x1="393.70" y1="1133.80" x2="393.70" y2="1157.40" stroke="#000" stroke-width="3.0" />
<line x1="514.40" y1="1133.80" x2="514.40" y2="1157.40" stroke="#000" stroke-width="3.0" />
<text transform="translate(111.47,1175.80) scale(1.0840,1)" font-size="19.73" font-weight="bold" fill="#000" >Baseline</text>
<text transform="translate(264.12,1176.31) scale(1.1015,1)" font-size="19.49" font-weight="bold" fill="#000" >GM-CSF</text>
<text transform="translate(259.74,1205.79) scale(0.9659,1)" font-size="22.20" font-weight="bold" fill="#000" >50 ng/mL</text>
<text transform="translate(416.73,1176.11) scale(1.1408,1)" font-size="19.21" font-weight="bold" fill="#000" >M-CSF</text>
<text transform="translate(397.83,1205.73) scale(0.9656,1)" font-size="22.52" font-weight="bold" fill="#000" >100 ng/mL</text>
</svg></body></html>
